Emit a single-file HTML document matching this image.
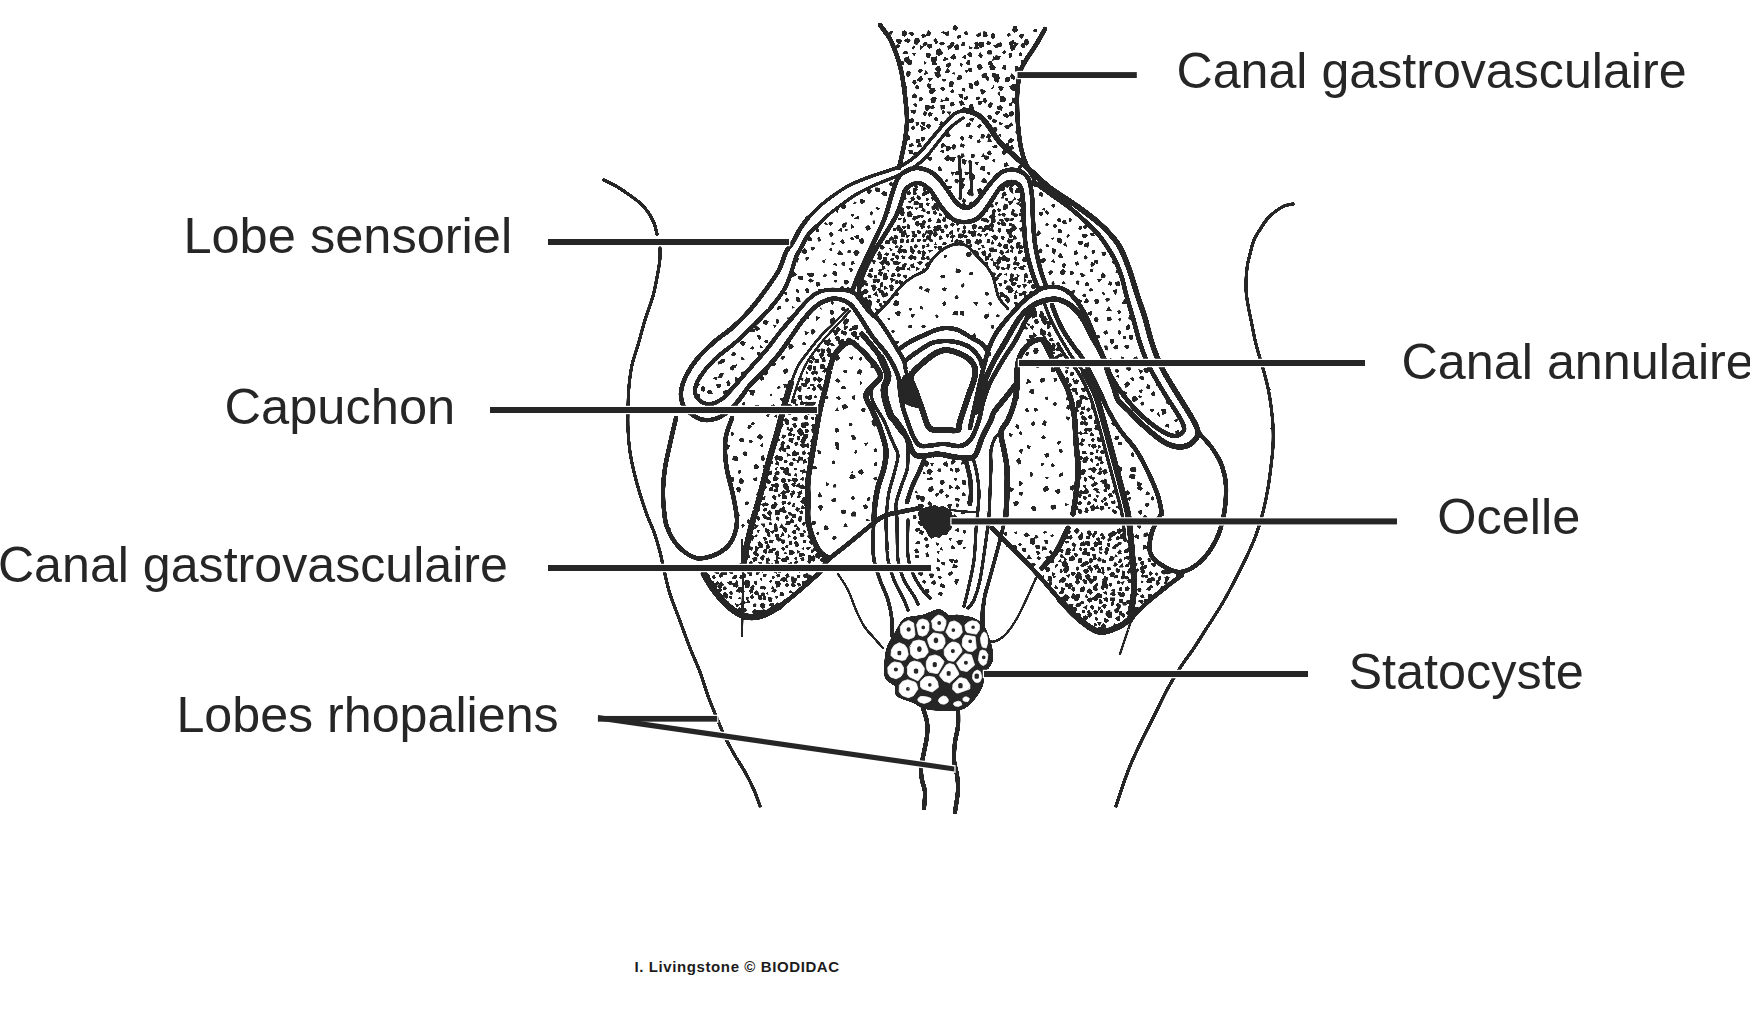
<!DOCTYPE html>
<html><head><meta charset="utf-8"><title>Rhopalie</title>
<style>
html,body{margin:0;padding:0;background:#fff;}
body{width:1750px;height:1014px;position:relative;overflow:hidden;font-family:"Liberation Sans",sans-serif;color:#262626;}
</style></head><body>
<svg width="1750" height="1014" viewBox="0 0 1750 1014" style="position:absolute;left:0;top:0">
<defs><filter id="rg" x="0" y="0" width="100%" height="100%" filterUnits="userSpaceOnUse" color-interpolation-filters="sRGB"><feTurbulence type="fractalNoise" baseFrequency="0.95" numOctaves="1" seed="4" result="n"/><feDisplacementMap in="SourceGraphic" in2="n" scale="1.7" xChannelSelector="R" yChannelSelector="G" result="d"/><feComponentTransfer in="d"><feFuncA type="linear" slope="5" intercept="-2"/></feComponentTransfer></filter></defs>
<g filter="url(#rg)">
<path d="M903.0 376.0C904.8 373.8 908.7 372.3 911.0 375.0C913.3 377.7 915.2 387.0 917.0 392.0C918.8 397.0 922.0 402.3 922.0 405.0C922.0 407.7 920.2 408.5 917.0 408.0C913.8 407.5 905.8 405.3 903.0 402.0C900.2 398.7 900.0 392.3 900.0 388.0C900.0 383.7 901.2 378.2 903.0 376.0Z" fill="#262626" stroke="none"/>
<path d="M1041.0 339.0C1041.3 337.8 1045.2 338.8 1047.0 340.0C1048.8 341.2 1050.7 343.7 1052.0 346.0C1053.3 348.3 1055.3 353.0 1055.0 354.0C1054.7 355.0 1051.7 353.2 1050.0 352.0C1048.3 350.8 1046.5 349.2 1045.0 347.0C1043.5 344.8 1040.7 340.2 1041.0 339.0Z" fill="#262626" stroke="none"/>
<path fill="#262626" d="M958.3 28.5L956.0 30.9L952.4 29.0L953.5 25.5L956.3 25.3ZM892.0 34.6L888.5 34.5L889.4 30.6L892.9 31.3ZM906.7 34.9L904.7 36.7L901.5 35.3L901.9 31.8L904.6 30.3L906.9 31.7ZM911.2 31.4L915.0 34.0L912.0 36.6L908.1 33.3ZM926.5 35.7L925.2 37.3L922.5 37.9L921.1 35.0L924.1 33.4ZM931.6 32.8L929.3 36.5L925.6 35.4L928.3 29.7ZM940.4 32.7L944.3 30.4L944.8 34.1ZM944.7 32.6L948.8 31.0L948.5 36.2L945.5 35.3ZM961.5 37.1L957.7 39.6L957.0 35.8L961.1 34.5ZM965.2 35.0L963.6 32.8L965.8 31.3L967.4 31.6L967.8 34.8ZM980.4 32.1L981.6 35.6L977.9 37.3L975.7 35.0ZM986.8 31.7L987.7 35.4L987.0 37.3L982.6 36.6L983.3 31.3ZM995.3 37.9L992.1 38.9L990.9 37.0L990.9 34.3L993.5 32.7L994.8 34.6ZM1011.0 35.2L1008.0 37.1L1006.4 34.1L1009.6 32.9ZM1012.9 26.4L1016.6 26.0L1017.9 30.0L1017.2 31.6L1014.4 33.0L1012.2 30.5ZM1020.7 33.4L1024.2 34.0L1023.7 36.2L1021.3 39.2L1018.7 36.1ZM1035.1 28.4L1037.6 29.5L1036.4 32.1L1034.4 32.4L1032.6 30.6ZM895.6 40.4L897.3 38.4L902.3 40.0L900.8 44.3L898.2 44.2ZM908.3 43.0L904.3 41.6L904.4 39.7L907.4 38.3L910.5 39.3L910.5 41.2ZM916.6 45.5L914.1 43.3L913.9 40.3L915.7 38.0L919.4 38.5L919.8 42.0ZM924.8 46.2L923.1 46.5L922.4 43.9L925.3 41.5L927.6 42.8L927.3 45.1ZM938.1 42.3L935.7 44.4L933.1 39.7L936.1 37.9ZM945.5 43.3L941.9 45.7L938.6 43.3L942.7 41.4ZM951.9 41.2L954.6 42.9L954.2 45.8L951.0 47.4L949.9 43.2ZM962.3 42.1L965.4 41.9L965.4 43.7L964.9 45.5L961.8 46.2L960.7 45.2ZM976.0 41.7L978.1 41.4L978.2 45.1L976.8 45.4L974.8 44.9L974.3 43.0ZM980.1 48.5L977.8 44.5L979.9 41.8L983.6 42.1L983.9 46.6ZM990.8 43.2L989.3 45.8L986.1 44.3L987.2 41.1L990.4 41.8ZM997.2 43.2L1000.6 42.3L1002.2 43.6L1001.9 46.6L998.7 46.8L997.9 44.7ZM1009.6 41.9L1013.3 39.7L1014.5 42.5L1013.4 44.5L1010.5 45.7L1008.6 44.2ZM1013.5 41.7L1018.9 43.6L1015.3 47.8ZM1028.0 38.7L1029.2 43.2L1026.5 45.7L1023.7 43.6L1024.7 39.5ZM896.6 48.7L895.3 46.5L897.1 44.3L900.2 45.3L899.7 46.9ZM902.3 53.9L903.7 51.3L907.6 51.2L907.6 54.5ZM913.1 49.9L912.0 48.3L913.2 45.3L915.3 47.1ZM919.7 50.8L920.0 45.3L924.2 46.4ZM927.1 44.9L929.2 44.1L931.7 43.8L932.5 47.4L929.7 48.4L927.4 47.1ZM939.6 48.3L942.1 51.3L943.5 53.6L939.5 55.9L936.5 55.0L936.1 50.1ZM948.5 50.0L947.1 46.4L950.6 44.0L952.3 47.3ZM953.7 46.2L957.2 43.9L959.4 46.3L959.3 49.4L955.2 49.8ZM968.7 48.4L968.7 46.2L969.9 45.2L972.3 46.7L972.7 48.2L970.1 48.9ZM973.3 49.1L975.2 45.4L977.4 44.6L979.2 48.8L976.3 49.4ZM992.1 51.4L991.9 54.4L987.2 54.4L987.4 50.4L990.9 49.5ZM993.0 45.5L999.0 43.4L999.4 47.3L995.2 47.9ZM1004.3 54.1L1001.8 53.0L1004.6 49.7L1006.6 52.5ZM1010.7 45.7L1015.3 44.5L1015.6 46.2L1015.0 49.8L1011.5 50.9L1009.8 47.2ZM1020.2 46.3L1021.6 43.2L1024.2 43.6L1025.7 46.2L1023.9 48.2L1022.7 47.7ZM909.6 61.1L907.3 63.7L904.0 61.1L904.0 58.0L908.9 56.2L909.6 59.1ZM912.1 52.9L916.4 53.1L914.1 56.4ZM929.5 58.3L926.5 57.4L925.6 52.7L927.8 52.9L931.3 53.8ZM931.7 62.5L930.5 57.5L937.2 56.2L937.3 61.0ZM949.1 59.3L942.2 61.7L944.5 56.7ZM956.7 58.2L953.4 59.8L949.9 57.7L954.0 53.2ZM965.0 59.2L961.9 57.3L965.4 54.2L966.6 58.0ZM972.1 53.5L972.4 57.0L969.6 57.2L966.8 54.3L968.8 52.2L970.5 51.9ZM981.5 58.8L978.1 55.5L980.2 52.0L982.9 55.5ZM996.6 59.2L992.2 61.1L993.1 55.4ZM1001.1 55.9L999.0 60.4L993.8 58.9L995.5 55.3ZM1012.6 56.4L1009.6 58.2L1008.3 53.7L1011.6 52.8ZM1018.6 54.2L1020.2 51.9L1022.0 53.8L1022.3 55.8L1019.3 55.9ZM904.6 62.1L903.7 65.1L899.5 64.0L901.9 60.7ZM911.8 64.5L908.7 65.2L906.2 63.5L909.2 60.2L912.3 60.3ZM926.9 62.8L923.8 64.9L924.2 60.8ZM931.7 60.9L935.7 60.4L937.1 64.6L932.0 65.4ZM941.5 69.7L938.2 72.5L934.5 68.6L939.0 65.3ZM946.3 66.8L946.4 64.0L950.0 62.3L951.5 64.4L948.9 68.2ZM959.6 66.0L960.5 63.0L962.9 64.0L962.0 67.1ZM967.6 60.2L969.5 59.3L970.4 63.1L969.3 65.5L965.4 63.6ZM983.2 67.7L979.1 70.4L976.2 65.7L980.2 63.5ZM990.3 65.3L987.5 64.4L988.2 61.7L991.2 60.5L992.9 63.4ZM989.2 66.2L992.0 63.5L996.2 67.2L994.2 70.6L990.0 69.7ZM1003.3 65.0L1006.2 65.3L1006.2 70.1L1001.6 68.9ZM1014.5 65.4L1018.2 66.0L1018.8 68.4L1015.8 68.7ZM1021.5 63.8L1021.2 59.9L1024.5 61.1L1024.1 65.3ZM907.6 70.4L910.8 71.8L910.4 75.6L907.8 77.3L905.5 74.3ZM919.0 68.8L921.8 68.8L923.0 70.7L919.5 73.5L918.0 71.7ZM925.4 70.0L928.4 73.4L923.7 75.3ZM940.9 76.2L937.8 78.8L934.9 75.8L934.3 72.3L936.0 71.8L939.9 71.4ZM948.6 73.5L944.9 72.5L947.3 68.1L950.0 70.9ZM951.9 74.1L954.2 71.7L955.5 74.7ZM964.1 69.4L968.2 70.6L966.6 73.3ZM967.4 69.0L970.5 67.6L971.7 68.3L971.6 72.4L970.2 72.1L968.5 71.4ZM985.1 72.6L987.3 73.1L986.9 77.1L985.0 78.1L981.7 77.7L981.4 74.8ZM995.9 73.6L997.3 76.0L994.0 77.9L991.5 75.7L991.9 72.8ZM995.2 75.6L998.8 73.5L999.7 77.7ZM1010.1 76.3L1011.7 73.0L1013.5 74.4L1015.6 78.0L1014.1 80.1L1011.1 78.4ZM1020.0 72.3L1018.8 73.3L1015.0 71.2L1014.6 68.6L1017.7 67.2L1021.7 68.7ZM913.3 79.9L915.6 79.4L916.7 83.1L914.1 84.9L912.0 82.4ZM923.4 79.5L920.3 82.1L916.5 80.5L921.0 75.6ZM929.4 81.9L927.3 77.9L933.1 78.3ZM941.7 78.5L945.6 78.7L945.8 81.6L942.8 81.5ZM948.9 83.2L950.5 81.1L954.1 81.8L953.2 86.0L951.6 87.6L948.5 86.7ZM958.5 75.3L961.9 75.6L962.0 79.2L957.8 80.1L956.3 78.3ZM971.7 82.5L971.3 86.4L967.8 83.7ZM977.9 86.3L974.4 85.2L974.2 82.6L975.5 81.2L977.7 79.8L979.6 83.7ZM989.6 77.8L988.6 80.8L986.8 80.5L984.7 77.3L987.6 76.1ZM995.5 75.6L1000.4 77.0L998.0 82.9L993.5 80.5ZM1007.6 82.0L1005.2 82.1L1005.1 78.5L1007.2 76.4L1010.4 77.7L1009.8 81.2ZM903.0 87.1L903.1 85.3L905.9 84.2L907.0 87.0L906.4 89.1L904.4 89.0ZM914.8 87.7L915.4 86.5L916.9 85.1L918.9 85.9L919.3 88.3L916.8 89.8ZM928.1 83.2L931.5 84.0L931.2 88.9L928.9 89.0L926.7 85.8ZM936.0 90.7L933.5 93.5L930.6 94.3L928.5 92.1L930.3 88.6L934.2 87.4ZM945.5 89.4L943.0 91.5L939.7 88.8L941.5 87.3L944.3 87.2ZM953.6 92.7L952.1 93.2L950.2 91.9L950.5 90.5L952.8 88.7L953.9 90.4ZM962.0 87.5L965.5 88.4L965.3 91.8L962.0 90.9ZM973.1 87.0L972.7 89.2L968.8 87.9L968.5 86.7L969.5 83.1L973.2 84.2ZM980.2 89.6L981.9 88.8L986.4 91.4L982.9 94.8L980.8 93.6ZM990.8 89.3L993.8 84.7L994.4 88.1ZM1000.0 85.8L1003.9 87.1L1002.2 90.8L1000.0 90.9L998.0 86.8ZM1017.4 87.2L1014.0 91.3L1011.4 90.1L1009.1 86.5L1012.9 84.1L1015.7 84.1ZM917.4 96.2L915.9 98.6L911.6 97.7L912.4 95.1L914.7 93.2ZM921.4 96.7L923.8 99.3L919.5 102.0L919.2 97.5ZM934.7 103.4L931.2 102.8L930.3 98.7L933.5 96.4L937.0 98.1ZM941.0 99.0L945.0 100.6L940.2 102.7ZM944.6 101.3L945.7 97.0L949.0 98.1L948.7 101.3ZM959.3 97.3L958.2 93.7L963.0 94.5L962.9 99.0ZM963.9 97.3L967.5 95.9L968.1 98.4L965.9 100.5L964.2 100.1ZM980.3 98.3L979.3 99.7L976.2 100.3L975.4 97.6L978.3 96.5L980.0 96.7ZM985.5 103.7L982.4 101.6L983.2 98.6L985.2 98.0L987.5 100.7ZM1000.1 91.1L1000.5 97.3L997.3 93.6ZM1003.2 96.0L1006.1 97.9L1005.9 100.6L1003.4 102.4L999.7 101.5L1000.1 96.3ZM1017.8 98.0L1015.4 104.3L1012.2 102.4L1011.9 97.4ZM912.8 104.1L916.1 103.1L917.7 105.9L915.1 107.3ZM924.6 108.4L925.5 105.1L931.4 105.8L929.3 109.4L927.3 111.7ZM934.9 107.9L933.8 108.6L930.7 108.9L930.2 107.4L932.4 105.0L934.0 105.5ZM940.4 104.6L945.4 104.9L945.1 108.4L940.6 109.9ZM951.8 101.7L953.8 102.0L954.8 105.0L951.9 106.4L950.7 106.5L949.7 103.1ZM965.2 104.6L960.7 106.0L958.5 101.2L961.8 100.3ZM970.0 104.2L973.1 104.3L974.0 109.8L972.0 111.2L969.4 109.5L968.9 106.3ZM982.6 100.9L981.4 104.5L978.8 105.2L978.0 103.4L978.3 101.2L980.0 100.7ZM990.2 108.1L987.4 107.0L988.6 103.4L990.8 102.0L992.9 103.4L991.5 107.6ZM1002.7 106.7L1002.2 110.8L997.6 110.1L997.1 106.2L1000.3 105.2ZM1012.5 103.0L1012.3 105.8L1010.4 106.1L1008.5 105.4L1008.8 103.7L1011.8 101.8ZM914.3 113.9L911.4 113.0L910.3 109.9L916.0 109.5L916.4 111.6ZM927.1 112.0L926.1 116.2L922.7 114.9L924.0 110.9ZM929.3 116.9L928.0 114.7L929.0 111.5L932.8 113.2L931.6 115.7ZM942.4 114.3L941.7 111.5L943.4 109.2L945.6 112.7ZM945.9 111.6L951.4 111.4L949.6 115.6ZM990.0 115.1L991.5 116.2L992.4 118.3L990.8 120.2L988.1 118.7L987.1 115.7ZM996.7 115.3L994.1 112.9L996.4 110.8L1000.1 110.9L999.2 113.9ZM1002.5 115.0L1006.1 112.4L1009.3 116.2L1007.4 117.9L1004.0 116.6ZM1012.3 110.4L1014.5 113.6L1012.6 116.6L1009.8 116.4L1008.3 112.8ZM913.8 121.8L912.0 123.0L909.0 122.6L909.0 119.4L912.4 117.8L914.5 120.1ZM915.7 125.8L915.5 122.1L919.9 122.6L918.1 125.5ZM921.7 124.8L921.0 121.8L925.7 121.8L924.3 126.5ZM938.4 120.5L935.6 121.0L933.4 119.4L936.0 116.5L937.7 118.6ZM942.1 125.4L938.9 125.1L940.2 122.2L940.8 120.9L943.0 121.8L944.5 124.7ZM997.5 120.5L995.3 123.7L991.9 121.6L992.9 118.2ZM1001.8 125.2L998.5 124.3L999.5 121.8L1003.0 123.2ZM1008.7 124.2L1011.9 122.3L1013.2 125.3L1010.0 126.9ZM913.5 130.5L910.7 128.3L913.5 125.3L915.5 127.7ZM919.9 124.7L926.3 128.6L921.6 131.3ZM929.2 129.0L927.1 128.1L925.8 126.0L927.4 123.8L929.4 123.6L931.1 126.0ZM992.3 128.8L994.1 127.0L995.6 126.5L997.7 128.7L996.9 131.4L994.2 131.8ZM1006.2 129.6L1004.2 126.3L1007.1 124.6L1010.2 125.3L1009.2 128.5ZM1019.4 129.7L1017.0 134.5L1014.9 131.8ZM905.1 136.2L908.0 135.1L910.5 136.9L909.8 139.6L906.9 141.2L904.1 137.9ZM916.6 143.3L915.4 141.9L916.4 138.9L919.7 139.0L920.7 142.3ZM921.6 141.7L920.6 139.4L921.6 136.7L924.7 137.0L925.6 138.8L923.8 141.3ZM997.7 135.1L1000.9 133.6L1001.0 137.1ZM1007.7 141.2L1010.8 138.0L1014.0 139.6L1013.6 141.2L1012.2 142.8L1008.4 142.9ZM912.1 142.9L914.6 145.8L908.5 147.4L909.4 143.9ZM918.0 143.6L920.9 143.0L922.0 147.3L916.7 147.4ZM1005.4 144.4L1006.3 143.1L1009.3 143.2L1009.2 146.7L1006.6 147.7L1004.9 146.4ZM1009.1 146.1L1012.9 145.0L1014.1 148.9L1010.0 150.2ZM912.4 149.7L913.2 153.6L909.1 154.3L908.3 150.1ZM916.9 151.4L916.3 156.3L911.0 153.5ZM975.0 117.3L972.6 122.3L968.3 119.0ZM969.4 122.1L971.0 123.5L970.0 127.0L965.5 126.9L966.0 124.4ZM982.1 125.2L979.5 128.8L976.8 126.7L979.6 123.6ZM946.6 137.4L944.7 134.0L945.1 131.6L948.7 132.4L950.8 135.2L949.7 136.7ZM963.2 135.9L964.2 139.4L961.9 141.1L960.1 137.9L960.6 136.6ZM968.3 138.1L969.5 134.3L972.9 136.0L971.4 139.1ZM980.8 133.4L985.1 134.7L984.2 138.5L980.4 138.6ZM992.1 135.7L989.2 139.0L985.9 137.5L988.1 133.2ZM942.8 142.7L946.2 145.4L941.5 148.3L940.7 145.3ZM951.9 145.2L954.0 144.0L955.8 145.6L955.4 148.9L953.3 149.9L951.3 147.7ZM965.0 144.7L963.8 148.1L959.7 146.3L961.1 143.0ZM979.4 143.0L977.1 142.5L976.7 140.8L979.6 139.0L980.2 139.4L980.7 141.9ZM989.5 137.6L992.5 142.0L986.9 141.6ZM996.3 144.5L997.8 147.1L995.0 148.6L991.7 146.7ZM941.8 149.2L944.1 150.7L943.4 153.4L939.9 151.6ZM945.9 149.6L945.4 146.0L949.4 146.0L951.3 147.4L950.3 150.0L946.9 151.8ZM961.0 153.4L964.3 153.5L964.6 156.7L961.0 158.8ZM970.9 154.6L972.7 153.4L974.6 154.3L974.7 156.6L973.4 157.9L970.8 157.5ZM981.1 157.0L983.3 153.0L985.7 156.5ZM986.8 153.3L987.9 151.7L989.6 150.2L991.8 152.9L991.1 155.6L988.9 155.3ZM1007.1 149.4L1007.3 152.1L1004.9 154.9L1002.7 154.8L1001.8 151.9L1003.8 149.2ZM930.2 161.0L928.2 159.8L927.0 157.8L928.9 156.4L932.0 157.5L932.1 159.3ZM950.5 159.3L947.3 161.6L943.6 158.8L945.0 157.2L947.7 154.5L949.6 156.6ZM956.0 156.8L953.8 162.2L950.1 160.4L950.2 156.7ZM963.5 158.8L966.7 160.3L966.1 163.6L964.2 165.1L961.9 163.1L961.5 159.9ZM979.1 162.0L977.2 166.0L974.0 162.5ZM987.0 155.5L989.7 156.4L988.6 158.7L986.4 160.2L983.6 159.1L984.4 155.2ZM995.0 162.8L991.3 160.6L995.6 158.3ZM1004.4 167.5L1004.3 163.1L1006.7 162.3L1009.0 165.6ZM937.8 170.3L938.1 166.9L939.7 166.3L941.3 168.0L942.3 170.4L939.8 171.1ZM955.5 171.7L952.4 176.1L950.6 171.5ZM958.6 174.8L955.2 174.9L955.2 172.8L956.5 170.6L959.2 172.1L960.3 173.1ZM969.2 171.7L968.2 175.1L965.3 175.4L964.2 171.5ZM980.1 170.1L980.6 166.5L985.0 165.7L985.0 171.0ZM990.7 173.8L988.8 175.3L986.1 172.8L988.9 171.5ZM1021.0 164.8L1022.3 167.0L1020.0 170.0L1017.6 169.4L1017.5 168.2L1018.7 165.8ZM949.0 181.2L944.5 182.0L946.5 178.3ZM959.3 180.1L958.1 183.6L956.7 183.5L954.5 181.7L954.5 179.8L956.3 179.0ZM965.2 178.6L962.5 183.4L959.7 180.4L961.5 178.0ZM970.4 174.6L972.8 173.6L974.3 174.5L975.6 177.2L973.5 179.9L970.5 178.7ZM985.6 178.5L986.5 179.9L986.8 182.9L983.6 183.1L980.8 181.8L982.8 178.2ZM947.8 185.9L951.6 185.5L952.3 187.2L950.1 189.2L947.2 187.6ZM965.4 184.3L963.2 188.9L958.9 188.1L960.5 182.3ZM970.5 195.3L968.8 195.8L966.8 193.6L967.0 190.9L969.6 189.0L972.0 191.8ZM980.3 188.1L982.8 190.8L982.7 193.6L979.1 194.8L977.6 192.2L977.3 189.3ZM966.4 200.2L964.2 203.8L961.8 201.0L963.4 197.8ZM963.3 202.3L964.7 202.8L967.0 206.2L966.1 208.5L961.8 207.3L961.0 205.7ZM972.9 204.4L969.8 207.7L968.2 206.0L969.3 202.5L972.1 201.2ZM880.3 191.5L876.4 192.4L875.2 190.4L875.0 187.5L878.5 187.4L880.3 189.1ZM893.2 184.5L890.7 186.2L889.3 184.9L889.3 182.9L891.4 181.2L892.7 183.1ZM866.6 190.7L869.8 189.0L872.2 190.8L869.2 193.9L867.4 193.3ZM881.1 193.6L883.4 190.4L886.8 192.2L886.7 196.1L883.0 195.6ZM843.6 202.7L846.2 205.8L846.4 208.1L842.5 209.3L840.8 206.7L841.7 203.9ZM857.3 203.1L852.5 204.4L854.5 201.2ZM859.8 202.7L860.4 198.6L865.4 200.4L864.3 203.0L861.8 204.3ZM880.0 208.2L878.2 210.3L875.2 208.6L876.9 206.9ZM838.9 207.7L837.8 214.1L834.9 209.6ZM850.4 214.4L853.3 213.5L854.7 214.8L852.4 217.3L850.8 215.7ZM853.1 219.1L858.6 215.4L859.2 219.6ZM873.2 213.8L871.3 215.7L869.9 215.0L869.8 212.4L872.0 211.0ZM828.2 225.1L823.7 224.3L825.2 221.9ZM830.3 221.6L833.7 223.1L830.3 226.2L828.3 223.4ZM843.8 222.7L846.8 222.3L846.3 226.3L843.4 228.3L842.2 227.3L842.0 223.9ZM850.9 228.9L850.7 222.9L854.8 226.9ZM868.3 224.8L871.2 228.4L867.5 231.1L865.0 227.8ZM875.5 223.8L873.0 223.7L872.3 220.6L875.2 220.4ZM816.2 228.7L818.7 228.4L819.3 230.2L819.0 231.7L817.1 232.5L815.5 231.7ZM828.9 234.8L828.9 233.1L830.9 231.7L833.7 234.6L832.5 236.1L830.9 236.9ZM839.4 228.6L842.5 228.0L842.0 231.7L838.1 230.9ZM844.5 231.5L845.7 228.7L848.9 230.1ZM858.4 239.4L856.0 238.8L854.0 236.5L856.6 235.1L859.0 234.8L859.4 236.3ZM809.2 235.8L812.3 238.9L811.8 240.9L807.9 240.8L806.0 238.8ZM819.0 236.5L820.9 239.2L820.5 241.5L817.8 241.4L817.4 238.2ZM831.5 241.9L836.0 243.6L831.5 245.8ZM842.9 239.0L844.8 242.3L843.2 244.8L840.1 241.2ZM853.1 236.8L853.9 239.5L851.7 240.8L849.9 237.7ZM858.8 240.7L859.4 239.1L862.9 237.9L864.4 241.4L862.5 244.2L860.8 244.1ZM806.0 254.6L801.4 252.7L801.7 251.2L804.8 247.6L806.7 250.5L806.7 252.7ZM814.1 246.4L815.1 248.8L811.8 250.9L810.4 247.0ZM828.6 249.1L831.3 247.9L832.9 250.4L830.0 251.0ZM838.3 255.0L837.1 253.7L839.3 250.2L841.0 251.2L843.1 254.2L842.4 255.4ZM849.2 253.4L847.2 252.6L847.6 251.1L848.8 249.6L850.3 250.0L851.3 252.1ZM853.0 252.3L855.8 249.3L859.8 252.1L857.8 255.5L855.4 256.0ZM798.9 258.1L797.9 262.7L796.2 261.7L794.1 259.2L794.9 256.6L797.4 256.8ZM808.3 259.9L806.5 260.8L805.4 259.4L805.6 256.6L808.9 257.3ZM824.1 263.8L821.9 260.8L826.0 259.1ZM836.0 262.2L837.3 265.9L832.4 264.8ZM841.4 263.2L843.3 261.7L845.5 262.3L844.7 266.1L841.6 265.3ZM854.9 263.8L851.6 265.3L850.6 261.7L853.7 260.9ZM793.7 271.2L797.4 274.6L794.5 276.4L791.4 276.7L791.4 273.6ZM807.4 272.9L811.1 273.6L811.0 275.6L809.1 277.1L806.6 274.6ZM814.2 275.5L810.9 277.8L809.9 275.1L811.9 272.0L813.8 273.3ZM827.3 275.1L825.6 276.8L822.7 276.6L824.5 273.2ZM837.1 275.7L835.1 276.1L831.8 273.6L833.8 270.7L837.3 272.1ZM852.9 269.9L851.2 272.5L849.6 270.6L848.8 268.2L852.0 268.2ZM802.8 275.5L803.0 279.8L798.7 279.5L797.4 276.0ZM808.0 280.6L809.6 278.6L810.9 278.5L813.9 280.5L812.9 281.4L810.0 282.7ZM819.2 281.8L820.8 285.2L816.7 287.0L815.6 282.6ZM837.2 281.8L836.2 282.8L833.9 282.0L833.6 280.5L836.9 279.5ZM843.9 280.6L847.0 280.1L849.7 282.0L846.9 284.5L844.6 284.4ZM786.5 295.4L782.6 291.9L787.3 292.3ZM796.3 291.9L796.0 289.2L797.5 289.0L799.2 290.3L799.3 292.7L796.9 292.4ZM808.4 293.2L806.5 292.9L804.8 290.1L806.6 288.2L808.5 288.2L809.0 291.2ZM821.4 288.7L820.1 291.5L817.6 289.4ZM840.2 286.7L843.3 286.1L844.5 289.4L840.5 289.8ZM845.8 290.8L847.3 287.1L850.7 287.9L851.6 290.8L849.2 292.2ZM789.1 299.8L788.6 301.2L785.9 302.8L785.5 301.7L785.3 299.0L787.3 297.7ZM800.3 298.5L800.6 302.2L797.4 302.2L796.0 300.5L796.1 297.6L797.5 296.4ZM781.2 309.0L777.0 310.1L777.8 305.7L781.5 306.6ZM794.9 307.5L792.6 309.1L791.5 305.3ZM766.4 325.2L763.5 324.0L762.8 321.2L764.9 319.6L768.9 321.5ZM779.3 319.8L779.4 322.5L777.1 324.0L775.6 322.8L776.5 318.9ZM786.5 317.4L792.4 317.6L789.3 322.0ZM751.2 328.6L755.0 329.3L754.6 332.2L749.7 332.1ZM760.0 329.2L756.9 331.3L754.5 329.4L754.6 326.4L756.7 326.1L759.2 327.6ZM774.7 328.6L772.9 324.4L776.9 324.8ZM759.4 334.4L761.7 338.1L759.3 340.0L756.7 335.7ZM765.1 340.2L766.9 339.6L768.8 341.9L767.3 343.4L765.8 343.1L763.9 341.5ZM746.0 342.3L744.7 345.0L742.2 346.3L739.7 342.8L742.3 340.8L744.2 341.6ZM752.3 349.8L749.4 348.4L752.4 346.0L754.4 348.0ZM760.8 344.8L763.0 347.9L759.3 347.7ZM724.2 363.0L722.0 363.4L720.0 361.0L722.0 358.6L725.5 359.6ZM733.5 356.6L730.6 355.1L732.6 352.3L735.2 351.9L736.1 354.8ZM740.4 359.4L741.8 356.6L745.1 359.7ZM759.8 356.8L756.6 354.3L756.9 352.0L760.6 352.4L761.5 353.7ZM722.3 363.6L718.4 364.8L717.3 361.7L720.8 361.0ZM729.4 367.5L732.1 365.3L734.7 366.1L733.2 370.8L730.5 369.7ZM731.9 365.8L737.4 363.9L735.7 368.1ZM712.8 378.6L714.7 377.0L718.0 377.5L716.3 380.2ZM718.0 377.7L719.5 373.5L724.2 373.1L721.8 378.1ZM737.5 381.6L735.1 381.0L734.6 376.7L739.5 378.5ZM741.5 375.0L740.7 372.3L742.6 371.6L746.0 371.5L746.0 373.7L743.7 377.0ZM695.5 382.6L700.5 384.6L695.5 388.9ZM703.1 385.4L705.3 387.2L705.3 390.1L703.8 391.7L700.7 391.1L700.8 388.0ZM720.6 387.2L717.2 388.5L716.0 384.5L721.2 383.6ZM730.6 382.9L729.9 386.3L727.2 385.9L726.3 382.2L728.4 380.1ZM698.2 393.8L700.5 394.6L699.9 397.8L697.0 397.3L696.6 394.7ZM706.5 392.0L708.8 390.0L711.4 390.3L713.1 394.1L709.6 394.5ZM727.8 393.0L726.9 395.5L723.2 393.6L723.1 391.0L727.0 389.7ZM1034.8 187.5L1032.3 184.2L1037.1 185.0ZM1038.9 195.4L1039.7 191.7L1043.5 193.1L1042.4 197.0ZM1044.0 206.9L1045.5 210.8L1041.6 210.0ZM1051.1 205.9L1051.7 204.4L1054.7 203.5L1055.5 205.4L1053.4 208.1ZM1043.4 213.3L1041.9 216.2L1040.2 215.6L1038.9 214.3L1039.1 212.0L1043.0 211.4ZM1049.6 213.5L1047.3 215.3L1044.6 212.3L1046.9 209.9ZM1061.1 218.9L1061.3 221.9L1058.4 222.3L1056.5 219.4L1059.1 217.4ZM1069.9 217.9L1072.1 219.2L1070.7 222.3L1068.9 221.6L1068.5 219.1ZM1045.6 226.7L1045.4 223.4L1048.2 223.1L1049.0 225.1ZM1054.1 224.1L1056.2 224.5L1057.2 226.7L1055.5 228.1L1053.5 227.2L1053.0 225.1ZM1064.0 224.6L1061.7 221.8L1063.4 219.8L1065.9 220.5L1067.0 224.1ZM1079.6 226.1L1081.3 225.7L1082.3 228.3L1080.4 229.9L1078.2 229.0ZM1083.9 225.4L1087.2 225.2L1087.4 227.4L1085.7 229.2L1082.5 227.8ZM1040.4 231.6L1040.7 234.0L1038.4 236.5L1036.2 235.9L1036.7 233.0L1038.2 230.3ZM1052.5 240.8L1050.8 237.9L1054.7 237.2ZM1057.7 233.3L1058.2 228.6L1062.1 229.9L1061.5 233.1ZM1069.1 237.0L1067.4 238.0L1066.2 236.0L1067.4 234.4L1068.8 234.1L1069.9 235.2ZM1083.6 237.9L1081.6 236.2L1082.6 233.8L1085.8 233.9L1088.0 235.3L1085.2 238.2ZM1089.8 234.7L1090.1 232.7L1093.9 233.2L1094.9 236.1L1092.5 236.6ZM1045.6 244.2L1048.3 244.6L1049.2 246.7L1045.5 246.8ZM1056.4 241.5L1057.3 238.0L1059.9 237.6L1061.4 238.7L1062.5 242.0L1060.4 243.7ZM1063.0 244.8L1066.0 241.9L1067.0 247.0ZM1078.3 240.5L1083.1 241.1L1083.2 243.7L1080.4 245.4L1077.5 243.2ZM1083.7 246.3L1084.9 243.1L1088.9 242.3L1089.5 245.2L1087.5 247.7ZM1042.6 249.8L1042.1 252.9L1039.0 253.4L1036.7 252.1L1038.9 249.4L1040.1 248.3ZM1055.7 248.7L1055.9 251.6L1054.3 255.0L1051.6 252.2L1052.1 248.2ZM1061.4 253.2L1062.8 256.6L1063.2 258.1L1059.4 257.9L1057.7 256.0L1059.2 253.6ZM1074.4 255.6L1073.6 250.9L1076.7 250.3L1078.2 253.7ZM1087.8 258.2L1086.8 258.9L1084.7 259.7L1083.7 256.4L1085.6 255.2L1087.0 256.0ZM1095.2 252.2L1094.7 253.1L1092.5 254.3L1091.4 251.3L1092.2 249.9L1094.5 249.8ZM1105.3 255.2L1103.4 256.6L1101.8 254.8L1101.4 252.1L1104.6 251.6L1106.6 252.8ZM1045.4 261.6L1043.6 262.7L1040.9 262.5L1040.4 259.4L1044.0 257.8L1046.1 259.3ZM1050.9 262.1L1053.4 258.7L1055.6 262.9ZM1064.1 263.0L1066.1 264.0L1065.0 267.9L1063.4 268.1L1061.4 265.0ZM1079.4 264.3L1075.9 266.1L1075.0 262.4L1077.8 261.3ZM1090.8 267.6L1090.4 263.8L1091.8 261.9L1095.1 263.5L1094.2 265.6ZM1093.5 262.2L1094.7 259.9L1098.7 260.6L1097.4 264.2ZM1112.5 263.6L1111.3 262.3L1113.4 260.1L1115.0 261.5L1114.0 263.7ZM1053.7 272.4L1049.6 275.2L1048.2 272.4L1051.0 269.9ZM1060.3 274.5L1059.4 271.8L1063.2 268.7L1066.0 271.3L1064.4 274.7ZM1072.0 270.7L1074.3 272.5L1073.1 274.3L1070.6 275.4L1069.4 271.2ZM1082.0 277.4L1079.4 273.5L1082.8 273.2L1085.9 275.5ZM1092.7 271.9L1090.5 272.2L1089.8 268.8L1094.1 268.6ZM1100.9 278.1L1101.0 274.4L1102.4 272.2L1105.6 275.0L1105.4 277.6ZM1119.2 273.4L1115.4 273.3L1115.9 270.0L1119.6 270.4ZM1053.9 281.0L1054.7 283.2L1053.8 284.9L1051.6 284.1L1051.4 282.7L1051.9 281.7ZM1062.4 281.7L1064.0 281.1L1065.5 282.7L1065.5 284.1L1062.7 284.6L1062.0 283.1ZM1079.6 281.1L1078.6 284.9L1076.4 284.1L1076.0 281.7L1077.8 280.2ZM1084.3 284.0L1086.8 281.9L1088.3 282.5L1089.6 285.7L1087.9 286.1L1085.7 286.2ZM1102.9 278.5L1099.0 282.9L1097.0 278.7ZM1112.5 281.9L1111.2 285.8L1107.9 284.9L1109.3 281.2ZM1120.1 286.3L1116.3 286.3L1114.4 282.2L1119.4 280.9ZM1074.3 293.9L1070.6 294.2L1070.2 291.0L1074.9 289.9ZM1083.4 297.1L1081.9 295.3L1084.1 293.6L1086.3 293.7L1086.2 297.6ZM1090.5 287.7L1093.0 289.4L1093.1 290.5L1091.4 291.6L1089.4 291.6L1089.4 289.2ZM1101.7 292.8L1104.2 291.6L1104.8 294.4L1103.5 295.7ZM1117.2 292.5L1115.4 294.9L1112.5 290.5L1116.8 289.0ZM1082.0 300.3L1082.2 301.6L1079.9 303.6L1076.6 302.5L1077.1 301.2L1078.6 298.7ZM1086.6 297.6L1089.2 301.4L1086.8 303.4L1083.5 302.5ZM1098.4 303.6L1095.8 304.8L1094.1 300.6L1095.8 298.9L1099.6 299.8ZM1109.0 301.3L1106.5 301.8L1104.9 298.9L1107.7 297.4L1110.4 299.0ZM1125.3 303.9L1121.8 303.6L1124.3 298.9L1128.7 300.5ZM1092.3 314.2L1090.2 316.1L1087.5 313.7L1088.5 312.0L1091.8 310.8L1092.1 312.6ZM1105.9 310.8L1108.8 306.0L1112.2 311.4ZM1118.9 314.4L1117.2 311.2L1119.7 309.8L1121.7 312.2ZM1098.7 318.7L1097.9 322.1L1095.5 321.7L1093.8 320.4L1094.7 317.4L1096.8 316.8ZM1111.8 320.0L1108.2 321.6L1106.7 319.5L1107.2 317.0L1108.5 316.7L1111.1 316.6ZM1120.3 322.6L1117.9 319.2L1120.9 317.2ZM1131.5 319.9L1129.3 319.5L1128.2 318.3L1129.4 315.1L1131.5 315.2L1133.5 317.3ZM1108.6 332.9L1105.1 334.9L1103.1 331.9L1106.4 330.1ZM1119.4 329.5L1121.5 332.2L1120.0 335.3L1117.6 333.0L1117.8 331.3ZM1126.3 326.4L1127.8 324.3L1130.1 324.8L1130.5 327.2L1128.6 330.5L1126.0 330.1ZM1099.8 335.4L1100.0 336.5L1099.4 338.3L1097.1 338.7L1095.6 336.5L1097.3 334.8ZM1109.8 341.6L1109.7 339.3L1114.0 338.9L1114.4 342.2L1111.8 345.0ZM1126.2 337.1L1125.7 339.6L1123.1 338.9L1123.0 336.2L1125.6 335.8ZM1133.2 335.3L1133.1 338.9L1131.5 340.3L1128.8 338.9L1129.1 335.2ZM1105.1 350.0L1104.0 345.6L1107.5 345.6L1107.7 350.8ZM1116.3 344.5L1118.3 345.8L1118.0 348.9L1116.0 349.5L1114.1 349.2L1113.1 347.1ZM1126.3 349.6L1124.0 346.3L1125.1 344.9L1128.8 345.3L1128.5 348.7ZM1112.5 358.8L1112.1 362.0L1110.4 362.7L1108.8 359.9L1110.3 358.2ZM1122.5 360.7L1120.7 358.0L1121.3 356.3L1124.1 357.5L1124.7 359.6ZM1134.7 357.0L1137.2 356.2L1137.8 359.1L1135.5 362.0L1132.4 359.7ZM1119.5 371.3L1118.0 372.7L1116.1 372.4L1114.7 371.4L1115.3 369.5L1117.0 368.6ZM1130.5 367.3L1131.0 369.3L1129.7 371.5L1125.7 368.9L1126.3 367.7L1128.1 365.3ZM1140.4 374.5L1138.1 369.0L1143.3 370.7ZM1149.8 369.6L1147.8 372.7L1144.5 372.4L1143.3 369.4L1144.2 368.2L1147.2 367.7ZM1119.1 374.3L1119.1 377.7L1115.5 376.7ZM1133.1 382.0L1129.7 378.4L1132.5 376.9L1134.6 379.3ZM1140.5 375.7L1143.8 376.4L1144.1 379.8L1141.4 380.3L1139.0 378.0ZM1124.1 384.2L1127.4 381.2L1130.1 384.0L1128.3 386.4L1125.6 388.0ZM1142.3 392.0L1140.4 393.5L1138.4 391.0L1139.6 390.0L1141.3 389.3L1142.7 390.3ZM1150.4 388.8L1146.1 388.5L1146.9 384.3L1149.9 384.8ZM1155.3 385.5L1158.4 382.9L1159.6 386.8ZM1125.4 395.5L1122.5 394.4L1124.0 390.9L1127.3 392.8ZM1134.7 395.6L1138.2 399.0L1135.2 401.7L1132.5 401.5L1132.0 397.3ZM1138.1 397.1L1139.2 395.3L1142.2 396.4L1140.7 398.5ZM1153.2 390.8L1155.5 393.3L1154.1 396.8L1150.7 394.5ZM1144.0 402.3L1143.9 404.1L1143.5 405.5L1141.0 405.4L1140.3 403.4L1141.9 401.3ZM1152.6 412.2L1150.8 411.3L1149.8 410.1L1150.6 408.8L1153.7 408.4L1154.2 410.0ZM1162.7 413.7L1160.7 408.7L1166.3 409.6ZM1165.3 402.3L1168.0 399.7L1169.5 401.8L1170.1 402.9L1169.1 404.8L1166.4 403.4ZM1158.9 412.1L1160.3 417.6L1156.3 414.6ZM1166.7 413.1L1162.1 415.2L1162.4 411.6L1165.5 410.2ZM1176.4 422.2L1173.2 420.2L1179.1 418.3ZM1164.9 426.2L1166.1 424.1L1167.7 423.4L1169.5 424.3L1169.4 425.9L1167.4 427.5ZM1178.5 429.8L1179.0 433.3L1175.6 433.4L1175.3 431.2ZM1013.1 181.9L1015.4 183.3L1013.1 186.4L1010.4 187.0L1008.7 184.0L1011.5 180.6ZM913.9 187.8L916.1 188.0L917.9 189.2L916.1 191.8L913.4 191.6L912.4 189.9ZM918.0 186.0L917.6 188.2L915.3 188.6L914.2 186.5L915.5 184.5ZM928.4 188.6L924.6 191.7L922.5 188.9L925.6 185.8ZM1004.6 190.5L1001.6 190.9L1000.1 187.2L1004.6 186.0ZM1006.0 182.2L1008.3 182.6L1009.7 186.5L1007.6 187.8L1004.5 187.1L1003.5 184.0ZM1013.0 190.6L1010.7 192.0L1008.8 188.8L1009.7 186.9L1011.6 186.8L1013.6 189.2ZM1019.1 190.2L1017.6 187.5L1019.8 185.5L1021.4 186.9L1021.4 189.5ZM910.3 194.9L907.1 194.9L906.4 192.4L909.4 190.1L911.1 192.6ZM912.7 193.0L913.1 191.3L915.7 190.8L917.0 193.7L916.3 194.8L913.9 195.4ZM924.4 195.9L922.2 196.1L922.1 193.2L924.1 191.6L925.7 192.6L925.7 195.2ZM929.0 193.5L924.8 195.7L923.1 190.0L928.3 191.2ZM1003.3 196.5L1001.3 195.0L1002.4 193.0L1004.8 191.2L1006.7 193.9L1006.6 195.4ZM1009.1 190.5L1013.0 189.2L1013.6 194.5ZM1020.0 192.2L1017.8 193.1L1014.5 192.6L1016.4 188.3L1019.2 188.4ZM903.1 199.0L903.7 196.2L905.7 196.1L906.7 198.8L905.3 199.8ZM911.4 201.9L910.3 197.9L913.4 196.0L915.5 199.7ZM920.1 195.9L921.0 198.8L919.8 200.6L918.0 199.9L916.4 197.7L916.8 195.1ZM929.2 199.1L927.9 201.6L925.6 200.1L926.7 197.3ZM930.6 196.8L935.2 198.0L932.5 200.9ZM1004.6 198.6L1000.8 198.6L1002.6 194.7ZM1004.8 198.2L1006.5 197.6L1008.8 198.7L1007.5 201.0L1004.7 200.2ZM1014.5 196.6L1016.8 198.9L1012.7 200.7ZM1021.9 201.0L1019.5 202.7L1017.1 199.0L1021.2 197.9ZM911.6 200.3L910.3 203.9L907.4 201.4ZM918.6 201.7L918.3 204.7L913.5 205.3L913.6 201.4L916.8 200.6ZM918.5 202.8L922.6 203.1L923.0 207.8L919.2 207.9ZM928.5 206.3L925.6 204.9L926.7 202.3L929.9 203.2ZM932.9 205.5L934.5 203.0L937.1 203.0L938.1 205.9L936.1 208.1ZM993.4 203.9L993.7 207.5L990.3 207.4L988.7 204.2ZM994.6 204.6L995.8 201.7L998.0 202.6L996.9 205.7ZM1006.7 206.8L1002.4 207.8L1004.7 203.1ZM1013.4 200.2L1013.2 202.8L1009.9 205.5L1007.8 201.2ZM1018.1 205.1L1015.8 203.2L1019.8 201.5ZM1021.2 202.9L1024.0 205.1L1020.8 207.6L1018.0 203.9ZM898.6 210.4L901.8 206.9L904.1 208.6L903.7 212.8ZM911.0 205.9L910.1 207.6L909.4 209.6L907.5 209.4L905.6 207.0L907.2 205.9ZM913.7 206.2L912.2 209.4L909.4 207.2ZM919.8 207.3L916.2 210.5L914.5 207.5ZM921.0 210.9L922.6 207.2L925.5 209.2L925.5 212.3ZM933.9 205.5L935.7 206.8L936.4 208.5L932.8 210.8L931.6 209.6L931.4 206.3ZM934.6 208.4L938.4 207.1L938.9 211.5ZM984.6 212.2L984.4 209.3L988.2 208.2L988.1 211.6ZM995.1 213.4L992.6 214.2L991.6 211.1L994.0 208.1L996.0 210.9ZM1001.3 210.1L999.9 212.5L997.9 211.8L997.2 209.6L998.2 208.1L1001.1 209.3ZM1008.2 207.9L1004.9 210.6L1002.9 209.6L1003.6 206.6L1005.5 203.8L1008.2 204.7ZM1015.4 211.2L1011.1 212.5L1012.6 208.2ZM1020.1 208.4L1023.4 209.5L1021.1 212.6L1019.6 210.8ZM899.5 213.9L899.5 211.5L902.9 211.4L904.9 212.1L903.8 216.2L901.4 216.0ZM911.6 216.9L908.2 217.5L906.8 215.4L906.8 212.0L910.5 210.9L912.9 214.5ZM919.6 215.1L920.2 218.0L917.1 218.8L915.2 217.1L917.8 215.3ZM923.6 215.3L923.7 216.9L921.8 218.5L919.8 216.3L920.9 214.4L922.4 214.7ZM928.0 214.7L927.0 214.0L926.1 212.2L927.0 211.1L929.5 210.6L930.3 213.3ZM937.2 212.6L936.3 214.8L932.5 214.3L933.0 211.7L935.2 210.0ZM942.5 216.3L939.3 216.6L938.8 214.9L939.3 212.9L941.8 214.0ZM949.1 219.5L947.6 219.1L944.5 216.9L945.3 215.9L948.3 215.4L949.8 215.7ZM989.8 214.9L994.9 213.6L995.7 217.1L993.1 220.1L988.8 217.6ZM999.4 216.6L997.6 214.6L999.2 213.1L1001.4 214.7ZM1001.0 214.4L1003.2 212.4L1005.7 214.1L1005.4 216.0L1004.3 216.8L1002.5 216.3ZM1011.0 215.3L1010.8 213.4L1012.4 211.6L1015.0 213.6L1014.3 215.8ZM1014.0 217.1L1013.1 214.4L1016.0 213.2L1018.4 214.5L1017.4 216.8ZM1022.7 213.5L1022.9 216.2L1019.4 216.5L1018.8 213.9L1019.6 212.3ZM897.7 219.4L898.7 217.6L902.4 217.9L900.3 220.3ZM903.5 223.3L902.6 218.7L904.7 216.4L906.2 221.2ZM911.5 218.9L914.1 215.5L917.6 217.1L914.9 220.7ZM919.5 221.4L918.8 223.7L916.7 223.9L915.2 223.8L915.6 221.3L917.2 220.4ZM924.2 219.7L926.2 221.2L925.9 222.9L924.2 225.1L921.9 222.8L921.8 221.2ZM928.3 222.0L927.4 220.8L928.7 218.6L930.5 218.0L931.6 219.9L931.6 221.4ZM936.2 222.8L937.0 220.0L938.7 218.0L941.1 220.3L940.8 222.8L937.9 223.3ZM943.4 217.1L945.4 218.0L946.3 219.5L945.3 221.9L942.6 221.4L942.1 219.9ZM981.2 221.1L981.3 218.4L984.2 217.2L985.7 219.0L985.8 222.1ZM989.9 220.7L988.1 223.1L983.9 221.6L986.0 218.1ZM995.6 222.5L991.8 223.2L991.0 219.8L992.9 217.5L995.5 218.7ZM999.3 220.7L999.6 218.4L1002.4 219.0L1004.0 220.7L1001.5 222.1ZM1009.5 221.0L1006.2 222.0L1003.8 218.4L1006.5 217.5L1009.5 217.8ZM1011.3 218.0L1014.0 218.0L1013.5 220.3L1012.8 221.6L1009.9 220.8L1010.1 218.8ZM1021.6 219.2L1024.0 221.6L1019.0 222.0ZM899.2 224.4L901.8 228.4L900.1 229.8L897.0 231.0L896.2 228.4L896.9 225.8ZM903.4 225.7L905.7 225.4L906.2 227.1L904.6 229.0L903.0 228.8L901.8 226.6ZM909.0 224.3L910.5 227.2L909.4 229.8L906.9 228.8L906.5 226.7L907.0 224.4ZM917.1 222.0L919.2 222.2L918.6 226.6L916.5 226.6L914.9 224.0ZM921.7 229.2L920.3 227.1L918.8 223.6L922.0 222.6L924.2 224.1L924.9 227.8ZM930.8 227.5L928.4 229.3L926.8 226.2L929.4 224.9ZM934.7 228.9L933.1 228.0L934.6 225.7L937.8 226.1L938.2 228.9ZM940.5 230.5L936.8 228.8L936.9 226.1L937.7 224.7L941.1 225.6L941.7 228.1ZM946.6 228.7L944.8 228.2L943.8 226.1L945.6 224.2L947.5 224.8L948.6 227.0ZM955.1 224.7L952.5 227.3L949.9 225.0L952.6 222.3ZM959.3 222.3L959.3 223.9L957.7 226.5L955.6 224.2L956.3 221.8ZM966.2 229.0L963.8 229.5L962.4 227.1L965.1 224.5ZM973.0 230.0L971.3 225.4L974.3 223.5L976.8 225.6L976.4 228.3ZM980.4 225.8L981.8 225.8L982.7 228.0L980.6 229.4L978.4 229.0L978.4 226.8ZM985.5 230.8L983.9 228.4L984.4 225.6L987.8 224.5L990.0 227.2L988.8 229.5ZM991.4 222.5L994.2 224.5L993.2 228.5L990.4 227.6L988.7 225.2ZM1001.0 223.6L999.6 225.3L998.4 225.5L997.3 223.9L997.5 221.5L998.8 221.5ZM1006.2 224.3L1005.7 226.1L1001.7 226.0L1000.8 222.7L1003.4 221.4L1004.7 221.5ZM1012.4 223.3L1012.6 225.4L1009.0 225.7L1008.8 223.0ZM1014.4 224.2L1017.2 228.6L1014.0 231.2L1011.7 230.0L1011.4 224.5ZM896.0 230.8L893.2 231.4L892.7 229.2L892.9 227.7L895.9 227.9ZM902.5 231.6L899.8 233.8L898.1 229.7L899.5 226.5L903.1 229.3ZM901.7 232.5L905.4 229.5L906.8 233.6L904.6 234.9ZM915.2 234.4L913.2 236.1L911.1 231.5L914.5 230.6ZM920.0 234.5L916.5 232.6L917.5 229.5L921.5 231.5ZM929.3 230.7L929.0 233.3L925.3 233.4L925.6 230.2ZM933.0 233.7L930.6 236.4L928.0 233.5L928.3 230.6L931.2 229.9L933.6 231.6ZM935.0 225.9L937.5 226.1L939.2 230.2L938.1 231.2L934.3 231.7L933.0 230.3ZM944.7 231.5L943.4 232.9L941.0 233.1L940.4 230.5L942.1 228.7L944.0 229.0ZM953.6 233.4L951.6 234.3L949.6 235.0L949.1 231.9L950.8 230.8L952.8 230.1ZM958.0 232.7L956.3 228.5L960.1 228.2ZM965.3 233.4L963.7 235.1L961.5 231.2L964.2 229.3L966.6 230.2ZM972.7 231.7L972.8 235.0L967.3 233.1L968.7 230.0ZM970.6 231.4L974.5 230.2L976.6 230.9L976.1 235.4L972.7 236.9L970.9 235.1ZM982.8 227.7L986.4 229.0L984.2 232.4L981.1 231.5ZM988.3 229.5L989.6 227.8L992.3 228.3L992.1 231.0L989.0 231.5ZM990.9 229.9L992.6 228.4L994.8 231.1L992.4 232.4ZM999.2 233.0L997.3 230.2L998.8 227.6L1001.2 228.8L1001.5 231.4ZM1011.5 231.6L1008.0 234.2L1005.7 231.2L1006.3 228.8L1009.8 229.6ZM1011.3 227.7L1013.4 229.3L1013.1 232.1L1010.0 233.4L1008.1 231.8L1008.8 229.0ZM1019.3 228.3L1022.3 226.8L1023.9 229.0L1023.2 231.6L1019.8 231.5ZM888.5 238.7L890.0 237.2L892.0 236.1L893.7 237.9L893.2 240.1L890.6 240.7ZM893.6 238.7L894.1 235.2L897.5 235.4L898.3 238.3L896.1 239.6ZM905.1 236.8L900.6 236.9L900.9 232.8L905.9 232.2ZM906.8 239.2L905.8 234.2L910.2 235.3ZM914.8 234.0L917.2 234.6L916.4 237.3L914.1 237.7L911.8 236.6L912.3 234.9ZM922.5 233.3L926.0 233.8L924.2 237.9L921.7 237.1ZM929.4 239.9L926.4 239.3L925.7 236.6L926.9 235.3L930.8 235.7L931.2 238.5ZM932.8 233.2L935.9 231.6L938.1 234.2L936.0 237.0L933.9 236.7L933.1 235.3ZM943.2 239.1L939.5 239.9L938.7 236.5L940.9 235.2ZM946.4 237.3L946.1 233.7L948.4 234.0L949.6 235.5L947.7 237.9ZM952.2 234.2L956.1 236.1L952.3 239.0L949.6 237.1ZM961.9 233.6L964.4 236.1L961.1 238.8L957.6 237.6L958.5 233.6ZM967.5 237.2L966.6 238.5L963.8 237.8L963.8 235.2L966.0 234.6L967.8 235.9ZM975.6 236.7L973.4 236.1L972.1 234.8L972.5 232.4L974.6 231.4L976.4 233.5ZM978.7 232.5L982.7 234.9L980.7 237.0L976.4 235.1ZM983.8 233.9L988.7 233.1L985.7 236.9ZM990.2 236.9L993.5 234.9L995.2 238.4ZM998.3 237.0L998.5 238.4L995.8 240.8L993.0 239.1L993.5 236.2L994.4 234.3ZM1000.9 238.7L1000.7 236.6L1002.4 235.4L1005.0 237.3L1003.3 240.3ZM1008.6 237.6L1008.5 233.4L1010.7 232.3L1013.5 236.3L1011.9 237.8ZM1014.6 235.0L1017.1 238.2L1016.2 239.6L1013.7 239.3L1013.0 237.4ZM889.9 239.9L889.8 243.5L888.6 244.6L885.5 243.9L884.5 241.1L887.3 239.7ZM891.6 241.9L893.5 239.6L897.0 240.0L897.3 243.8L895.3 244.9ZM904.1 242.1L902.9 243.0L899.7 243.1L899.8 241.0L900.4 238.5L903.6 238.6ZM905.4 242.8L906.7 239.2L909.3 239.4L909.1 243.4ZM910.4 242.2L910.7 240.0L912.7 238.0L914.4 238.7L914.1 241.9L913.3 242.5ZM918.1 238.5L920.7 239.3L921.0 240.6L919.7 241.8L917.3 242.5L916.9 239.2ZM926.8 239.4L926.2 241.6L925.6 242.1L923.0 242.0L922.4 240.3L923.7 238.7ZM928.9 238.2L933.1 239.7L932.3 242.6L929.3 241.5ZM935.6 241.7L936.9 245.2L934.0 244.9ZM944.2 241.4L945.4 242.1L946.8 243.5L945.4 245.6L942.2 244.8L942.4 243.4ZM950.2 240.7L953.4 238.8L952.9 242.5ZM954.4 240.6L957.3 238.3L958.8 240.4L957.7 244.6L954.6 243.6ZM959.6 239.6L964.1 241.6L962.2 244.8L958.6 243.2ZM970.3 244.2L966.7 244.2L965.5 240.8L967.0 238.6L971.4 239.9ZM976.4 239.0L980.7 240.6L978.5 244.9L974.2 243.1ZM980.2 238.2L982.0 240.3L981.4 243.6L978.1 243.2L978.6 240.8ZM990.6 240.1L989.6 243.1L986.5 242.9L986.6 240.9L988.0 238.3ZM990.9 244.6L990.6 242.9L992.5 240.1L993.5 241.5L993.9 244.5ZM1002.3 245.3L997.6 245.5L999.1 241.6ZM1012.3 240.6L1009.6 244.6L1006.5 241.4L1008.5 237.9ZM1010.3 239.8L1014.5 237.8L1011.4 244.1ZM1016.9 241.7L1020.9 242.5L1019.7 245.7L1015.6 245.1ZM885.1 247.5L882.3 249.7L880.1 249.0L880.2 246.1L881.8 244.8ZM893.4 249.9L889.7 251.6L889.9 247.9ZM895.1 247.5L895.3 245.7L897.3 245.3L899.0 247.0L897.3 248.5ZM899.0 248.9L900.3 244.3L903.3 247.1ZM912.4 249.0L910.3 249.4L909.3 246.4L912.6 246.2ZM914.7 248.7L914.1 246.4L913.9 244.7L916.3 244.3L918.0 246.0L916.8 248.1ZM924.8 244.7L925.3 245.4L925.6 247.3L922.9 249.3L922.0 247.7L922.3 244.4ZM928.9 243.2L929.8 246.4L927.5 246.9L926.1 244.6ZM933.8 245.4L938.2 246.9L935.0 249.5ZM938.6 250.5L937.9 246.6L942.4 245.8L942.1 250.1ZM968.4 246.9L968.9 245.3L971.3 243.5L972.2 246.3L970.9 247.4ZM978.7 251.0L977.8 247.4L981.4 248.4ZM985.3 247.9L982.0 248.6L981.2 245.0L983.7 245.2ZM988.6 248.8L990.4 247.5L994.0 247.6L993.9 249.8L992.9 252.4L989.9 252.2ZM1002.3 244.1L1001.9 245.9L1000.2 247.1L997.2 245.9L998.0 243.2L999.6 242.8ZM1008.0 244.0L1008.2 248.1L1006.5 249.4L1004.2 249.2L1003.1 247.0L1003.7 244.6ZM1012.2 249.8L1009.6 247.3L1011.1 244.4L1015.0 247.9ZM1020.8 247.3L1016.8 249.0L1015.5 246.8L1016.0 244.1L1017.9 243.9L1020.0 245.9ZM1021.5 244.6L1023.6 247.2L1022.8 249.1L1018.8 249.1L1019.1 246.1ZM879.1 257.0L877.0 254.9L878.3 251.4L879.7 251.3L881.6 254.0L881.7 256.1ZM889.5 253.8L887.9 256.2L884.1 254.7L886.0 252.3ZM892.3 256.5L891.9 255.5L892.7 252.6L894.9 252.9L895.3 254.2L895.1 255.9ZM898.7 247.9L902.2 248.9L903.0 252.0L899.2 254.1L897.1 251.8ZM902.2 251.5L902.0 249.5L905.7 249.2L906.8 250.8L907.0 252.9L904.0 253.6ZM913.1 254.2L909.6 251.5L912.5 248.0L915.3 251.2ZM917.2 251.7L918.8 249.7L921.5 251.6L920.5 254.0L918.2 254.4ZM926.5 252.8L924.2 256.6L921.5 255.5L921.8 250.8L924.0 250.3ZM929.7 253.1L927.8 249.7L933.2 249.9ZM973.4 251.8L975.1 249.6L978.4 252.0L979.0 254.6L975.7 255.4L973.4 253.4ZM986.6 252.9L985.5 256.4L983.3 256.3L980.9 252.4L984.6 249.9ZM991.6 255.6L990.4 257.4L988.2 257.3L988.4 253.7L990.2 252.5ZM996.5 252.3L992.7 251.9L992.8 249.0L997.0 249.0ZM1002.8 250.4L1004.2 252.6L1002.3 255.8L999.1 253.0L1000.3 250.2ZM1008.8 248.9L1009.6 252.8L1004.5 252.8ZM1009.7 251.7L1012.3 248.5L1013.0 252.9ZM1019.1 249.1L1023.5 250.9L1020.8 254.1L1017.8 253.4ZM878.5 255.5L881.7 256.1L881.9 258.9L879.6 259.9L876.9 258.8ZM884.4 262.9L882.5 260.6L883.5 256.8L887.0 257.6L887.5 260.1ZM892.7 261.2L891.0 260.9L889.4 259.2L890.5 258.7L893.5 257.7L894.3 259.0ZM897.6 260.1L895.0 257.9L895.1 255.7L898.1 254.5L899.4 258.1ZM905.8 256.5L904.9 258.7L903.1 259.6L900.9 256.6L901.9 255.2L904.5 256.0ZM914.7 257.8L910.8 260.0L907.4 257.7L911.8 254.2ZM913.5 256.7L915.5 255.7L916.8 257.9L914.9 260.7L913.5 259.2ZM924.2 259.7L920.8 259.5L921.9 255.8L924.0 255.4L925.4 259.1ZM929.7 259.8L927.9 260.2L925.1 258.6L926.6 256.2L929.3 255.8ZM989.1 259.8L985.4 260.9L985.0 256.2L988.5 256.3ZM989.8 259.9L992.7 257.5L993.8 261.8ZM1000.5 263.1L996.2 260.7L999.1 255.9L1002.1 257.7ZM1002.6 255.7L1004.6 254.9L1007.6 258.6L1005.7 261.1L1001.9 260.9L1002.0 258.4ZM1010.0 260.8L1008.3 262.0L1005.4 261.4L1006.0 257.3L1009.6 257.8ZM1016.9 256.7L1017.5 259.5L1015.8 262.0L1013.4 258.5L1015.2 255.8ZM1025.4 256.4L1027.3 260.6L1025.2 262.6L1021.9 261.0L1022.9 257.3ZM875.6 260.3L875.7 261.8L874.9 263.6L873.3 264.2L872.0 261.3L872.7 259.9ZM882.7 265.5L878.8 262.4L882.9 260.2L884.7 263.3ZM890.0 264.2L888.9 266.2L885.3 264.2L884.4 262.5L886.5 260.5L889.0 260.8ZM893.1 264.6L892.5 261.0L897.3 260.7L897.4 264.8ZM898.0 265.3L896.1 260.6L901.3 262.8ZM902.0 266.7L902.6 264.1L905.2 263.0L907.2 263.8L905.3 267.4L903.3 268.5ZM909.4 265.0L914.0 263.0L914.9 268.4L911.8 268.3ZM919.8 260.9L923.7 262.1L920.1 265.4L916.9 262.2ZM927.1 261.9L928.8 263.2L929.4 265.9L926.3 267.2L924.5 264.4ZM984.0 264.8L985.0 261.7L987.5 262.1L988.3 263.7L986.0 265.9ZM995.1 262.6L996.5 265.2L995.6 266.7L993.0 265.8L992.5 264.3L993.9 261.3ZM1001.0 263.0L997.4 265.2L995.2 262.2L999.4 260.0ZM1009.9 263.4L1010.9 265.3L1008.0 266.9L1006.9 264.5ZM1017.6 262.6L1016.1 264.9L1012.8 264.4L1013.9 261.2ZM1017.5 261.4L1020.0 263.3L1019.0 265.5L1018.2 266.7L1015.9 265.1L1015.7 262.7ZM1023.8 264.3L1026.7 266.6L1022.2 267.3ZM872.0 272.6L868.7 271.4L869.1 269.8L871.6 268.1L873.0 268.5L873.3 271.1ZM877.6 270.2L880.7 268.5L882.3 270.2L879.6 272.6ZM885.7 268.7L884.1 269.3L882.4 270.2L881.7 266.7L882.1 265.5L885.0 266.2ZM888.6 272.2L886.5 269.4L889.6 269.7ZM896.9 266.1L901.7 267.2L901.0 270.1L897.8 272.1L895.1 269.8ZM899.5 270.2L902.7 265.9L905.5 269.6ZM909.6 266.9L910.7 271.0L905.9 269.1ZM916.2 266.5L920.4 269.0L916.2 270.9ZM923.4 268.1L925.0 268.8L925.3 270.2L923.4 271.9L922.3 271.7L921.8 269.8ZM995.4 266.5L997.1 265.6L999.2 265.5L999.9 267.6L999.0 269.7L996.6 269.4ZM1001.4 266.7L1005.8 267.9L1004.6 270.4L1001.2 269.6ZM1005.8 269.3L1006.9 266.5L1010.2 266.3L1009.0 269.7ZM1014.5 266.6L1016.9 267.3L1015.6 270.7L1012.6 268.8ZM1025.0 269.5L1021.5 270.3L1017.9 267.4L1022.4 265.5ZM871.7 278.2L868.1 277.0L866.9 275.4L869.2 272.6L870.9 273.7L872.9 275.9ZM876.1 278.4L873.7 277.7L874.0 274.9L876.2 274.5L877.7 277.0ZM878.4 272.3L879.9 271.2L883.2 272.0L882.7 273.5L881.8 276.2L878.3 274.9ZM882.9 275.4L883.9 272.5L886.7 272.7L887.3 276.5L884.8 277.0ZM895.9 276.1L890.9 277.6L891.7 273.6L894.6 273.1ZM897.7 272.2L901.3 274.7L899.3 277.1L897.1 276.4ZM907.0 277.3L906.1 278.9L903.8 277.9L902.6 275.6L904.6 274.5L907.4 274.8ZM995.8 274.9L994.1 276.6L991.8 275.6L991.8 272.6L995.4 272.5ZM999.3 272.6L1002.7 272.9L999.8 277.2L996.7 276.6ZM1006.6 276.0L1003.5 274.3L1007.0 272.9ZM1013.5 273.8L1013.8 276.2L1011.9 278.5L1010.7 278.3L1009.4 276.2L1010.6 273.2ZM1019.9 275.5L1017.3 278.3L1016.3 273.8ZM1028.1 275.4L1027.8 277.7L1024.0 277.9L1023.7 275.3L1024.9 273.0L1026.4 272.6ZM867.4 281.5L863.3 285.1L861.3 281.9L863.7 279.5ZM875.4 283.4L872.7 282.8L872.5 278.8L875.0 278.6L877.1 280.6ZM876.1 281.7L876.1 278.7L878.1 278.6L880.1 279.6L880.3 281.9L877.7 283.2ZM887.4 275.8L888.4 278.5L885.4 280.4L883.2 280.2L882.7 276.2L884.2 275.2ZM896.0 279.6L891.1 283.1L889.9 277.6ZM898.2 284.1L895.8 284.5L894.6 281.3L896.8 279.4L898.6 280.5ZM898.4 283.1L899.5 280.0L902.7 281.3L902.7 283.8L900.6 284.4ZM996.3 276.5L999.1 277.8L997.7 280.6L994.2 281.1L993.5 279.6L994.6 276.7ZM1005.3 284.6L1003.5 282.9L1003.7 280.0L1005.6 279.8L1007.8 281.6ZM1011.5 276.3L1015.1 279.1L1011.9 283.2L1008.8 280.0ZM1013.5 279.7L1015.0 276.6L1018.4 278.6L1017.1 281.8ZM1026.8 280.3L1024.0 283.0L1024.3 277.7ZM1027.2 282.8L1028.2 279.8L1031.3 279.6L1032.3 282.2L1029.6 284.0ZM860.2 285.4L862.3 282.0L865.5 283.0L863.1 287.3ZM868.2 282.8L867.8 286.4L865.4 285.7L865.3 282.7ZM870.9 285.3L873.1 284.4L874.8 284.4L876.9 287.2L874.8 289.9L872.0 288.6ZM883.4 283.4L882.8 286.9L880.3 287.0L879.5 283.5L882.5 281.4ZM888.6 289.0L883.5 289.7L884.3 285.2ZM894.0 286.3L892.7 289.1L889.6 288.8L889.3 285.2L891.2 284.3ZM997.9 283.3L1000.9 282.6L1002.7 285.0L1000.2 286.7ZM1005.2 288.6L1007.1 285.4L1010.7 285.6L1010.9 289.2L1010.6 290.3L1006.1 289.6ZM1010.8 285.1L1010.6 282.2L1015.3 281.8L1016.9 283.6L1013.9 286.3ZM1020.3 287.7L1018.5 288.2L1016.5 285.9L1018.4 284.4L1020.9 285.0ZM1021.9 283.6L1027.7 284.8L1024.1 289.1ZM1034.4 284.3L1036.2 287.8L1033.3 289.5L1030.3 287.2L1031.7 284.2ZM862.0 291.2L864.6 289.1L867.1 289.2L868.7 291.6L866.4 294.5L863.4 294.0ZM873.0 291.7L872.3 288.9L873.8 286.8L876.1 288.2L875.1 290.5ZM880.9 287.1L879.6 292.9L876.8 288.9ZM881.6 293.5L879.6 292.7L880.0 290.0L881.3 289.6L883.0 290.1L883.8 291.9ZM892.5 286.0L894.0 288.7L892.3 290.9L890.3 289.9L890.4 286.6ZM1003.5 295.4L1001.9 295.2L999.5 294.5L999.4 292.8L1001.4 291.5L1003.0 292.4ZM1008.4 293.3L1008.1 290.0L1009.6 286.4L1011.7 286.8L1014.1 290.9L1011.0 293.0ZM1016.5 289.3L1017.8 293.0L1013.9 293.9ZM1025.1 290.8L1026.9 291.8L1025.6 294.7L1025.1 296.2L1021.6 293.1L1021.9 291.7ZM1032.2 292.1L1030.4 294.5L1028.5 293.3L1030.7 290.3ZM861.3 296.1L859.8 293.1L861.9 291.4L864.1 294.0L863.6 295.6ZM869.2 294.5L871.0 295.5L871.6 298.1L868.2 298.6L867.2 297.0ZM876.5 291.0L878.3 297.0L872.8 294.3ZM880.5 294.3L881.4 291.5L885.2 292.7L886.3 295.2L883.4 297.8ZM886.6 292.3L888.0 293.0L888.5 295.9L885.4 296.8L884.2 294.7L885.2 292.9ZM1003.6 293.0L1005.7 295.7L1000.4 297.7L1000.0 293.1ZM1006.2 294.6L1007.9 296.6L1005.5 298.5L1003.8 297.8L1004.4 295.2ZM1015.3 294.0L1017.5 296.5L1016.7 298.9L1014.2 299.3L1013.6 295.9ZM1023.3 294.2L1021.9 296.3L1019.6 296.4L1018.3 293.3L1020.3 292.8ZM1023.5 294.9L1028.7 294.6L1024.7 299.1ZM868.1 300.7L865.2 301.9L863.2 301.2L862.6 298.4L866.5 296.6ZM869.4 299.2L872.3 301.9L872.4 304.7L866.9 305.2L866.6 300.9ZM878.7 298.4L880.5 299.2L880.1 301.7L877.6 303.4L876.2 301.7L877.0 299.3ZM886.5 303.7L885.4 304.6L883.1 303.1L883.0 300.7L885.0 300.4L886.9 301.6ZM1010.6 299.9L1007.9 304.0L1004.9 300.0L1008.1 296.6ZM1013.7 302.5L1015.1 302.0L1017.7 302.5L1019.0 303.9L1016.5 305.7L1015.1 305.4ZM867.6 306.5L869.9 303.3L871.6 304.4L871.4 307.1L869.2 308.7ZM874.3 308.2L879.9 308.9L876.6 311.8ZM879.1 303.3L882.4 303.4L882.1 308.0L879.4 306.5ZM944.9 258.0L943.4 257.6L944.0 255.6L944.7 254.8L947.7 255.7L946.7 256.9ZM970.6 251.5L972.0 254.5L970.6 256.5L968.3 257.5L965.7 254.7L966.6 252.6ZM941.0 278.4L940.1 276.1L942.6 274.7L945.1 275.3L945.2 278.1L943.9 278.3ZM956.2 268.3L960.2 269.4L961.4 271.9L957.7 273.5L955.3 272.5ZM972.7 275.3L969.3 275.2L969.2 272.4L972.6 271.8ZM898.5 295.4L896.8 295.9L894.4 295.3L893.9 294.1L895.9 291.2L898.7 292.9ZM922.6 286.5L922.4 289.9L918.4 288.2L920.0 285.7ZM924.0 290.3L927.2 288.1L929.8 288.9L929.4 291.0L928.9 292.7L925.5 291.4ZM944.9 291.7L941.6 289.1L944.3 287.3L947.0 288.2ZM963.1 283.1L964.6 284.5L964.3 286.8L962.0 287.8L960.7 285.2ZM989.0 295.0L986.9 295.8L984.9 294.8L985.1 292.3L987.3 291.8L988.5 292.9ZM894.3 301.4L895.7 299.5L899.5 301.9L898.6 305.4L895.1 306.0L893.0 304.4ZM912.9 309.3L909.9 310.9L908.5 308.9L910.1 307.6ZM923.1 307.0L923.2 309.7L919.5 308.5L920.5 305.9ZM943.7 306.3L942.0 303.0L944.8 300.9L946.7 304.6ZM954.4 297.8L955.4 295.6L957.5 295.3L958.9 298.3L955.7 299.4ZM976.3 306.5L973.1 301.9L978.3 302.0ZM987.9 303.5L990.0 301.7L992.5 303.1L991.8 305.3L990.1 305.7ZM890.3 319.8L888.0 320.6L887.3 317.7L889.7 317.5ZM899.2 310.3L900.8 312.1L900.0 315.7L897.4 315.9L894.8 313.0L896.6 311.4ZM910.3 313.7L915.3 314.6L912.1 318.5ZM935.3 314.4L937.4 314.4L938.8 317.0L935.8 318.6ZM952.1 315.3L954.1 311.1L958.5 311.4L957.9 315.6ZM960.0 310.9L963.6 311.0L964.1 316.0L959.5 314.7ZM984.0 317.4L984.6 314.7L988.7 313.2L989.0 316.8L985.9 319.3ZM998.7 317.5L996.0 317.3L995.6 316.0L996.8 314.3L999.5 314.8L999.6 316.6ZM890.5 331.2L892.7 329.7L895.5 330.9L892.7 333.3ZM908.6 327.9L907.9 325.8L911.3 324.6L912.7 328.6ZM921.3 326.5L922.8 324.8L925.3 325.0L925.7 326.6L925.1 328.2L921.6 327.7ZM970.4 336.5L974.3 333.1L976.7 336.0L974.2 338.6ZM991.4 325.3L993.6 325.1L994.6 327.3L993.1 329.0L991.3 328.5L990.7 327.1ZM894.5 340.6L897.3 340.7L898.9 341.4L898.3 343.7L896.6 344.9L894.1 343.6ZM986.1 344.6L991.4 347.3L987.2 349.0ZM824.8 299.7L827.2 301.2L827.5 303.3L823.9 303.0ZM832.4 305.0L830.6 303.3L831.8 300.7L834.5 302.2ZM820.5 307.1L822.4 309.7L819.8 309.1ZM833.6 310.4L834.7 313.2L831.8 315.0L829.6 312.8L830.0 309.9ZM845.0 306.8L845.7 311.2L841.9 310.8L840.6 307.7ZM804.5 319.1L808.2 315.2L809.2 319.3ZM816.2 320.9L815.8 315.7L820.4 317.7ZM830.3 323.7L829.6 319.9L833.3 317.1L834.9 318.2L835.3 321.4L832.9 323.1ZM805.5 335.4L804.3 330.8L809.3 332.4ZM814.0 328.9L815.7 331.7L812.8 334.8L810.8 333.6L810.5 329.8ZM788.3 346.9L789.0 343.5L792.0 343.7L793.9 346.8L791.5 349.0L789.4 349.8ZM803.6 341.2L805.9 343.7L805.5 345.1L802.7 345.4L802.3 343.7ZM776.8 364.3L773.8 366.5L769.3 364.2L770.6 361.7L774.9 361.9ZM780.3 359.0L781.5 356.3L785.4 355.7L784.7 357.8L783.1 360.1ZM768.5 373.8L765.0 375.8L762.7 374.3L763.5 371.8L766.4 370.0L768.4 372.6ZM788.2 372.0L785.3 374.1L783.8 374.4L783.2 370.0L786.1 368.3L788.6 369.5ZM761.7 380.8L759.8 379.7L760.5 377.7L761.8 375.7L764.4 377.7L764.2 379.2ZM780.8 387.5L778.5 389.3L776.7 388.0L778.9 385.8ZM784.6 387.8L783.9 387.2L783.3 384.1L785.6 383.9L787.1 384.8L787.6 386.9ZM750.6 395.2L749.0 390.3L751.8 390.0L755.3 390.3L753.6 395.7ZM772.2 393.2L771.8 396.6L769.1 394.7ZM782.1 400.9L780.0 399.9L780.6 397.2L784.1 398.9ZM745.6 404.4L744.6 405.6L743.5 405.6L741.4 404.8L742.6 402.7L744.4 402.1ZM755.0 405.6L759.1 404.7L759.7 408.5L755.8 410.8L753.5 409.1ZM770.2 406.0L773.5 404.1L776.0 406.1L771.9 409.6ZM753.7 421.5L755.0 423.7L752.5 425.6L750.6 423.9L752.1 421.7ZM766.0 415.3L768.2 412.7L769.8 414.2L768.0 417.7ZM773.3 416.5L777.4 414.0L777.2 418.1ZM731.0 431.8L733.7 432.4L734.3 434.4L732.8 435.9L731.2 435.5L730.5 433.6ZM748.9 424.2L752.1 426.6L749.2 429.5L747.3 427.6ZM759.5 433.6L763.4 437.2L760.7 439.7L756.7 437.5ZM729.0 448.6L726.4 449.9L724.3 447.0L726.6 443.6L730.0 445.4ZM744.3 441.2L742.5 442.2L739.6 441.5L739.1 439.6L741.0 437.8L743.8 438.5ZM752.0 442.8L749.9 443.6L748.6 440.6L750.0 439.4L753.0 440.9ZM762.7 447.3L759.2 445.8L763.0 443.0ZM735.9 455.4L738.4 457.6L737.9 461.1L732.1 460.3L732.9 456.5ZM746.7 456.6L744.2 455.7L742.4 453.5L743.3 451.5L746.7 451.4L747.5 453.4ZM765.3 460.0L762.1 461.6L761.0 459.6L760.4 456.5L763.5 455.0L764.7 457.9ZM738.1 470.5L740.8 470.0L741.5 472.7L738.6 474.3ZM757.2 469.1L754.5 469.5L753.3 465.6L756.2 463.9L759.6 467.1ZM763.7 468.6L762.2 464.4L766.4 465.2ZM731.4 476.9L733.9 477.5L734.5 479.1L734.1 481.3L731.9 482.2L729.8 481.0ZM742.5 478.9L744.5 481.6L741.8 484.2L738.3 482.4L740.2 477.6ZM757.6 478.7L756.5 481.4L754.1 481.1L752.3 479.0L756.7 477.0ZM735.4 488.6L737.9 486.8L740.3 487.7L741.1 489.9L739.6 492.8L737.2 491.6ZM756.4 493.5L758.0 492.2L760.7 493.8L759.3 495.5L758.1 495.9L756.3 495.4ZM745.3 501.4L748.8 501.5L749.0 504.1L746.6 505.4L744.5 504.2ZM737.0 518.1L736.0 512.5L740.3 515.1ZM751.0 525.6L746.7 522.6L747.7 519.1L752.2 521.3ZM745.0 526.1L742.4 527.9L741.0 525.1L743.6 523.5ZM745.2 549.2L746.6 551.3L744.1 553.4L742.1 551.8L743.2 549.8ZM843.6 319.9L846.7 318.3L849.5 319.5L847.7 323.4L844.7 325.0L843.3 323.6ZM841.2 329.2L837.1 333.0L835.1 330.3L837.7 326.4ZM844.9 330.2L843.8 329.7L843.5 327.0L844.0 325.2L847.7 326.1L847.6 328.5ZM853.5 329.7L851.6 331.0L849.9 330.9L849.0 330.2L849.9 328.2L852.1 328.2ZM857.8 325.3L858.1 328.6L855.7 330.5L853.0 329.3L851.3 326.4L855.4 324.7ZM838.7 333.5L835.2 335.9L833.7 333.5L832.2 331.2L836.2 329.6L837.4 331.5ZM841.8 329.8L843.9 331.2L844.2 333.0L841.6 334.2L840.7 332.7ZM845.6 330.5L847.6 333.2L845.4 335.8L843.3 335.0L842.6 333.1L843.5 331.3ZM850.5 333.2L853.0 331.2L855.9 331.0L857.7 334.2L855.1 336.9L852.6 336.5ZM828.7 344.4L826.4 341.4L829.2 338.0L831.3 340.7ZM840.3 338.3L838.9 340.9L836.9 341.2L834.8 337.7L836.1 336.1L838.9 336.3ZM840.5 342.0L840.3 340.0L841.0 339.0L843.8 339.0L844.2 340.9L843.2 342.6ZM845.8 340.2L847.9 337.5L850.9 337.8L851.3 341.3L847.1 342.8ZM859.8 335.8L858.8 340.2L855.3 338.7L855.4 336.1ZM830.8 341.2L830.0 343.9L828.3 346.3L824.5 344.2L824.1 340.8L825.7 340.0ZM832.5 342.9L835.0 345.7L831.2 346.4L829.3 342.9ZM837.4 342.3L839.8 340.1L843.9 340.6L844.1 343.5L839.3 345.3ZM819.0 352.8L815.9 351.1L818.3 348.4L820.8 350.0ZM821.7 352.2L820.3 348.5L822.9 348.5L825.3 349.6L825.4 351.9L824.1 353.3ZM828.0 353.3L825.9 350.6L827.9 347.2L829.8 347.7L831.5 350.3L830.8 353.1ZM810.6 357.7L813.5 355.9L815.7 359.5L813.4 360.8ZM818.9 353.9L823.0 351.1L824.3 355.7L820.4 358.2ZM830.2 357.5L826.6 355.8L827.5 354.2L828.7 351.6L831.6 353.2L832.2 355.8ZM811.8 364.0L809.2 362.8L808.9 360.4L811.6 359.7L813.3 361.9ZM814.1 362.6L815.6 358.8L818.7 358.9L818.9 363.3ZM825.7 361.8L822.6 362.1L820.9 358.1L825.2 357.0ZM811.4 370.0L809.9 371.0L806.8 368.0L808.8 365.1L811.8 365.2L812.1 366.8ZM815.5 370.4L812.9 369.7L813.5 365.8L816.4 366.5ZM820.4 364.3L823.0 363.4L825.4 365.6L823.9 369.1L820.6 369.5L820.1 366.6ZM829.3 365.8L828.3 370.3L824.0 368.3ZM805.5 370.6L808.6 372.7L806.8 374.7ZM810.6 372.7L812.3 371.1L814.5 370.6L815.1 373.7L812.7 375.0ZM814.7 370.4L817.8 371.5L817.8 374.2L816.0 374.7L813.3 372.1ZM824.8 372.9L822.0 371.5L824.9 368.7L826.9 370.2ZM803.8 378.5L802.5 380.9L799.3 379.3L801.6 377.5ZM810.3 378.4L810.1 381.2L808.2 383.7L805.7 383.7L804.3 380.7L806.4 377.3ZM814.5 381.7L812.5 379.3L813.8 377.1L816.8 377.4L816.9 380.1ZM819.9 382.9L816.9 380.8L818.1 376.3L823.3 379.5ZM805.2 382.4L807.1 383.8L806.6 386.8L804.2 387.2L801.6 385.4L801.0 383.5ZM810.8 386.4L809.8 383.9L814.6 383.7L814.3 386.1ZM818.7 388.3L817.1 386.8L817.9 383.4L821.0 383.7L821.5 388.0ZM799.0 386.5L801.5 385.6L801.5 390.3L800.0 392.2L795.9 389.3ZM806.7 388.4L809.2 386.2L810.3 389.5ZM816.3 388.8L815.1 390.7L812.9 390.7L811.8 389.5L812.9 386.7L814.7 386.0ZM823.4 388.8L822.4 390.6L820.0 390.4L819.2 388.7L819.5 387.3L821.6 386.6ZM797.2 395.4L802.5 394.9L802.0 400.8L798.2 399.3ZM807.2 395.5L808.6 397.2L807.3 398.9L805.2 398.6L805.2 395.6ZM812.2 395.8L811.7 399.6L808.4 399.9L807.4 396.4L810.1 394.5ZM813.9 397.8L814.4 395.4L816.5 395.3L816.8 397.8ZM796.9 399.6L795.1 404.3L791.9 403.0L794.1 399.1ZM804.4 404.4L802.9 405.3L799.8 405.0L799.7 401.8L802.2 401.2L805.3 402.7ZM808.0 405.3L805.1 404.2L805.2 401.7L806.9 401.5L809.0 402.8ZM813.3 401.5L815.9 402.3L815.2 404.6L812.7 405.9L810.6 403.5L810.8 402.0ZM791.7 404.7L793.0 407.8L788.2 410.4L785.9 406.5L788.8 404.0ZM798.6 405.3L794.5 406.6L795.8 403.0ZM805.1 404.7L810.1 405.9L808.7 408.4L805.8 409.4L803.7 406.8ZM813.1 406.1L808.0 406.9L808.4 402.6L810.9 402.1ZM790.3 415.2L787.0 414.0L789.4 409.9L792.7 412.2ZM790.7 414.0L791.5 408.7L795.8 411.5ZM804.2 412.3L803.4 413.5L801.7 414.4L800.2 412.0L801.1 410.6L802.8 410.1ZM809.8 410.2L812.1 413.0L807.7 415.5L807.1 411.7ZM815.7 415.7L814.7 412.5L817.6 413.3ZM785.3 422.3L783.6 420.5L785.3 418.2L786.9 418.4L788.5 419.4L786.9 421.7ZM794.8 416.2L795.3 421.6L790.8 419.0ZM797.4 421.7L794.0 419.9L793.9 417.1L797.6 417.2ZM803.9 416.9L804.9 415.3L806.5 415.3L808.3 417.1L807.4 419.9L804.3 419.3ZM814.4 418.0L814.2 420.5L812.7 420.3L811.1 418.9L810.9 416.5L812.9 416.9ZM818.6 417.2L818.7 419.8L815.9 420.8L814.9 417.6ZM779.3 422.8L781.3 421.7L783.7 424.2L783.2 426.5L780.5 426.9ZM788.9 424.4L786.5 424.9L784.5 422.5L785.0 420.4L786.7 419.7L789.4 419.8ZM797.3 426.1L794.9 428.6L791.9 424.5L795.1 422.4ZM802.0 427.8L800.8 426.3L801.5 422.6L805.1 422.3L806.0 424.9L805.7 428.2ZM809.2 424.9L807.3 426.2L804.0 426.3L803.5 423.7L805.6 421.4L808.0 422.3ZM811.0 424.7L813.7 423.9L816.8 426.5L812.4 428.6ZM788.7 430.7L786.4 430.0L787.3 427.0L789.4 426.9ZM788.7 429.8L790.6 427.6L792.3 427.6L793.7 430.6L790.6 432.2ZM800.2 427.7L802.5 431.1L799.5 434.0L797.4 432.6L797.2 429.8ZM808.6 432.4L806.0 433.4L805.0 431.9L805.2 428.8L808.8 429.8ZM811.6 432.5L811.3 428.5L813.0 428.1L815.1 428.8L816.2 430.4L812.9 432.7ZM783.9 439.0L781.2 437.4L782.5 434.3L786.5 435.5ZM791.0 436.2L788.2 436.2L787.5 433.6L790.2 431.9L793.2 435.1ZM793.6 437.5L792.7 434.0L795.8 433.8ZM800.9 436.8L797.9 433.3L802.1 429.2L804.2 432.9ZM803.6 434.1L808.5 433.9L808.2 436.7L806.3 439.7L802.4 438.3ZM780.3 440.5L778.1 441.1L775.4 441.2L774.3 438.5L776.8 435.0L778.1 436.1ZM783.1 440.7L785.5 442.3L783.8 445.0L780.4 445.4L780.7 442.2ZM792.4 443.2L788.4 441.5L788.7 438.1L793.9 438.3ZM800.4 437.4L799.7 440.4L797.6 440.5L796.5 438.3L797.2 436.5L799.1 435.6ZM803.4 443.5L799.9 442.1L801.6 439.0L802.7 437.0L806.0 439.6L804.9 443.5ZM814.3 438.3L814.8 442.0L813.0 444.1L810.3 442.0L810.7 438.9ZM784.5 445.8L782.9 449.8L780.1 448.3L781.0 444.4ZM790.0 446.3L790.2 448.6L787.0 449.5L786.3 446.5L788.3 444.2ZM794.1 443.8L795.6 441.6L797.8 442.1L798.6 444.8L795.7 446.4ZM803.0 448.6L799.2 445.2L802.8 442.4L806.4 446.2ZM808.0 442.8L809.4 444.8L808.5 448.2L805.3 446.4L804.5 444.7ZM812.7 449.0L809.6 445.1L814.5 443.4ZM780.8 452.1L778.3 450.0L779.3 447.8L782.3 448.4ZM782.2 451.0L783.2 447.7L786.6 448.2L786.0 452.5ZM796.6 456.6L791.7 455.5L791.7 453.0L794.6 450.0L798.0 452.9ZM796.6 452.3L798.5 452.1L799.0 454.7L796.7 455.5ZM804.4 454.9L802.2 454.6L802.0 451.7L804.8 450.3L806.0 453.0ZM808.5 451.4L811.3 453.3L810.2 455.5L807.0 453.7ZM774.3 457.2L777.3 454.6L779.8 458.7L775.7 461.0ZM777.6 456.8L780.6 456.0L783.0 456.8L782.7 459.8L781.0 461.6L777.6 459.9ZM786.8 456.8L786.4 452.0L791.1 455.5ZM795.1 457.9L795.6 461.1L792.3 460.6L792.6 458.1ZM798.6 456.1L803.5 457.5L802.4 460.6L798.1 460.4ZM808.8 461.5L807.3 458.2L808.6 456.8L813.0 457.2L812.6 460.0L811.9 462.2ZM768.3 463.4L768.9 461.5L771.3 460.0L773.4 461.3L772.6 463.7L770.8 464.4ZM778.9 462.0L778.9 465.7L774.8 464.3L776.5 461.0ZM787.7 460.6L787.3 463.3L783.9 463.1L783.4 460.8L784.3 460.1ZM790.9 461.5L793.6 463.1L793.3 466.0L789.8 466.2L789.0 463.9ZM797.9 463.5L795.4 459.6L800.1 460.3ZM803.2 463.7L802.6 460.1L805.4 459.1L807.6 462.7ZM778.3 466.6L776.4 470.7L774.6 468.4ZM783.8 466.9L783.7 469.4L781.8 470.5L779.9 468.6L780.1 467.1L781.6 466.7ZM789.2 472.7L785.8 473.7L783.3 472.8L783.6 469.1L786.7 466.9L788.5 467.7ZM797.2 468.1L797.3 470.2L794.9 470.6L793.6 468.8L794.6 467.4ZM805.6 469.1L803.4 473.5L799.2 470.8ZM765.7 471.7L767.1 471.0L769.7 472.3L768.6 475.9L766.6 476.5L764.1 474.4ZM771.8 470.3L772.1 474.0L771.0 474.9L768.0 474.7L767.8 471.9L770.2 470.9ZM774.3 473.3L776.4 470.7L779.6 471.5L779.4 475.2L775.6 475.6ZM785.5 471.4L787.3 470.2L788.5 473.7L787.4 475.8L784.1 474.2ZM791.2 473.9L791.4 476.0L788.5 476.0L787.2 473.7L789.5 472.7ZM797.3 476.7L795.0 476.3L794.0 475.2L795.5 472.9L796.7 473.5ZM801.5 474.1L803.8 468.9L807.4 472.2ZM771.6 481.4L769.3 484.2L764.8 482.6L766.0 479.2L767.6 478.5ZM776.5 476.4L778.9 478.7L776.8 481.1L773.3 480.9L772.9 477.7L774.7 474.8ZM782.5 477.8L785.5 478.8L786.7 481.4L784.3 483.1L781.7 482.5L780.8 479.4ZM787.9 482.5L787.4 478.8L792.4 480.0ZM792.3 477.8L795.7 477.8L798.4 479.7L796.9 481.8L793.8 482.7L791.7 480.0ZM799.8 478.9L802.2 477.6L803.4 477.1L804.4 479.8L803.2 480.7L801.2 480.2ZM763.5 486.8L763.9 485.7L766.0 485.4L766.7 486.7L766.6 488.1L764.7 489.4ZM771.1 484.0L774.4 483.9L774.8 486.7L771.8 487.4ZM774.1 485.7L775.5 483.1L778.0 483.5L779.6 486.2L777.4 488.6L775.8 488.1ZM789.6 487.8L788.2 489.7L784.4 489.5L782.4 485.3L784.0 483.5L786.7 482.7ZM790.0 484.1L796.0 482.5L794.6 487.4ZM799.9 482.6L799.9 488.0L794.8 485.9ZM799.9 485.6L803.0 484.3L805.8 487.6L804.2 489.3L800.6 489.3ZM770.0 491.3L768.6 488.0L772.3 486.6L773.6 490.5ZM775.9 492.3L773.4 491.4L774.4 488.7L775.6 488.6L778.2 488.6L778.2 492.2ZM779.6 493.6L783.2 490.1L786.9 491.5L784.6 495.1ZM788.6 493.1L786.6 493.4L786.4 489.8L788.9 489.6L790.7 491.5ZM793.0 494.8L790.9 491.5L793.3 490.2L795.2 491.6L795.3 493.6ZM801.8 490.1L802.6 493.7L798.9 495.6L797.1 492.5ZM765.2 500.3L761.7 500.0L761.5 497.4L765.6 495.7ZM774.3 500.4L771.8 497.1L773.9 494.6L776.7 496.6L775.9 499.6ZM778.4 493.2L781.0 495.0L779.8 497.2L777.5 495.9ZM786.9 495.7L786.7 499.1L784.7 499.1L781.9 498.4L781.8 495.0L784.1 494.1ZM794.7 492.9L791.5 498.6L789.7 493.1ZM799.1 494.8L801.1 496.2L800.2 497.6L797.1 498.1L796.7 496.1ZM805.9 499.6L804.9 501.8L802.3 499.3L802.5 497.8L805.7 496.5ZM765.2 502.2L764.2 507.7L761.0 504.2ZM763.7 505.1L765.1 502.0L769.4 504.1L767.4 506.5ZM774.0 505.2L773.4 502.6L775.8 502.2L777.0 502.7L777.8 505.2L774.6 506.1ZM782.1 505.2L781.3 501.6L785.5 500.6L786.1 503.4ZM788.5 504.9L786.9 502.9L790.4 500.9L790.8 504.2ZM792.0 505.8L793.2 502.7L795.2 503.4L794.0 507.0ZM804.7 503.9L802.1 503.6L800.6 502.0L799.9 501.0L803.2 498.9L804.3 500.9ZM808.8 502.3L805.0 506.6L802.5 502.5L806.1 500.9ZM755.6 510.8L756.7 508.0L758.8 508.4L760.4 510.1L759.0 512.0ZM767.4 508.1L766.5 510.9L763.7 511.8L763.0 509.5L764.7 507.6ZM772.0 504.0L774.8 504.3L776.7 506.5L775.1 508.4L772.2 509.5L770.4 507.0ZM779.3 510.7L779.2 508.6L782.0 508.0L783.8 509.3L783.2 511.2L780.6 512.6ZM780.5 508.7L783.3 506.0L785.4 508.0L784.9 510.8L784.6 511.9L781.2 512.3ZM795.2 506.5L793.4 507.4L791.4 506.6L793.0 504.4ZM796.9 507.0L800.1 508.6L797.9 512.5L794.7 509.4ZM802.6 504.6L805.5 508.6L800.2 508.8ZM763.6 518.3L761.7 514.3L765.9 514.4ZM766.6 512.9L769.7 509.4L772.2 512.8L770.5 516.8ZM774.5 513.9L775.5 510.0L779.3 510.2L780.5 513.9L778.3 515.2L774.8 515.6ZM786.5 510.2L786.6 512.8L782.8 513.0L782.2 509.4ZM787.6 512.4L790.4 511.8L792.0 514.0L792.0 515.5L788.7 515.5L788.5 514.2ZM791.4 513.6L796.0 513.9L796.3 517.4L792.0 518.2ZM799.1 511.3L802.0 510.2L802.7 511.3L803.5 513.8L800.9 514.5L800.0 513.8ZM758.4 521.2L756.2 518.0L757.4 516.2L759.7 516.6L760.0 519.0ZM763.6 519.1L764.9 515.2L769.4 517.7L768.0 519.8ZM768.8 517.5L771.0 516.3L771.7 520.8L767.8 519.9ZM779.6 518.0L778.9 520.9L775.7 519.8L776.8 516.0ZM789.0 517.6L786.2 519.7L784.7 518.1L784.6 516.2L787.3 514.6ZM790.8 518.1L793.8 519.8L794.1 522.5L790.4 523.7L790.3 520.4ZM798.9 515.8L802.6 516.8L800.9 522.6L797.7 521.1ZM807.9 517.4L808.2 520.6L804.0 518.8ZM755.1 528.4L754.5 523.8L759.1 525.8ZM764.1 528.3L760.2 523.4L765.5 523.5ZM768.5 524.8L769.1 522.8L770.7 521.5L772.4 523.7L770.8 525.6ZM774.6 523.8L776.1 523.1L777.9 527.5L774.6 528.4L773.7 527.1ZM779.2 528.1L781.7 523.1L784.4 528.3ZM790.0 524.9L785.3 525.1L785.9 521.1L790.4 521.0ZM796.8 523.4L797.5 527.6L793.2 526.3ZM804.2 521.9L805.9 522.7L805.0 524.5L804.2 526.0L802.3 525.0L802.3 522.7ZM757.0 528.0L752.1 530.6L751.7 527.0ZM757.9 533.6L756.8 530.2L760.2 530.3ZM765.3 527.9L770.5 529.5L767.6 533.9L765.4 532.0ZM769.5 531.5L775.6 529.4L772.9 534.3ZM777.7 528.2L778.1 531.3L775.9 532.1L774.9 531.6L774.0 527.8L776.4 527.2ZM784.3 526.5L787.3 529.1L786.2 533.4L784.1 531.9L781.8 528.3ZM795.6 534.3L794.0 534.1L791.3 532.7L792.5 531.1L794.2 529.5L796.5 530.6ZM800.6 528.7L799.2 530.9L795.7 529.3L797.6 526.2ZM802.6 530.7L804.9 530.1L806.7 532.0L804.0 533.2ZM748.3 539.4L748.5 536.2L751.3 534.6L754.4 535.9L753.7 539.0L752.5 540.0ZM755.7 537.6L754.0 536.0L756.3 534.3L757.8 535.5ZM762.5 536.8L765.5 536.7L767.4 539.5L764.2 540.8ZM766.7 534.4L769.5 532.1L770.4 534.1L770.5 537.1L768.4 537.6ZM779.1 534.6L779.5 537.1L776.6 538.5L774.5 535.5L775.7 533.6ZM784.8 535.6L779.8 537.2L782.5 531.4ZM787.9 534.1L791.1 536.3L787.5 538.2ZM794.7 540.4L792.6 538.0L794.2 535.8L795.2 535.5L797.3 538.0L796.0 539.6ZM803.8 533.1L804.7 536.3L800.7 537.2L799.3 533.0ZM808.0 534.9L809.9 534.3L811.9 536.5L811.7 537.7L809.5 539.6L806.8 536.2ZM750.0 539.1L753.7 538.4L752.8 541.7ZM761.1 544.7L758.6 546.7L757.3 542.5L760.2 540.6ZM765.6 540.6L768.2 541.5L768.2 543.4L765.9 544.6L764.2 543.0ZM773.8 539.7L772.9 543.4L769.2 543.1L769.5 539.5ZM778.1 536.6L781.6 539.2L779.0 541.9L775.9 538.9ZM784.8 539.6L785.6 541.3L783.6 544.3L781.7 543.5L780.3 540.2L780.9 539.2ZM791.9 540.6L792.6 543.5L791.8 544.5L789.8 545.5L788.4 543.3L789.8 540.7ZM798.2 543.1L795.0 544.6L793.7 542.6L795.4 540.9L797.6 541.8ZM806.2 542.5L803.7 543.7L802.6 540.5L804.7 539.7L806.5 539.9ZM809.0 542.6L809.7 540.0L813.0 541.9L812.0 545.0ZM753.5 546.8L752.1 550.8L748.6 549.7L748.0 546.3ZM757.3 551.0L754.5 550.5L755.0 545.7L759.4 547.4ZM763.4 547.3L759.7 548.5L758.6 546.3L757.6 542.5L760.0 542.6L762.1 542.7ZM765.8 547.1L765.9 545.7L768.3 543.8L770.0 546.3L769.7 548.3L766.0 549.1ZM773.0 551.3L772.2 548.3L774.0 547.8L776.7 548.4L776.1 550.3ZM783.4 551.5L780.9 548.4L782.9 547.0L785.8 548.7ZM785.7 545.5L787.2 545.0L788.7 545.3L787.9 548.2L786.5 548.1L784.3 547.0ZM797.2 547.1L795.1 546.6L795.6 542.9L799.0 543.6L799.0 546.1ZM801.1 548.4L804.4 547.1L804.0 550.5ZM805.3 547.8L811.4 546.5L808.6 550.5ZM815.9 545.4L818.1 546.8L817.6 550.2L814.8 550.6L812.5 548.4ZM757.2 554.4L755.8 556.6L753.0 554.0L752.8 552.5L754.8 550.9L756.6 550.7ZM757.2 557.0L756.0 553.6L758.2 553.0L759.6 555.7ZM766.4 554.2L763.0 552.3L763.7 549.1L767.2 549.6ZM768.3 553.6L768.7 548.8L772.1 549.0L773.1 553.3ZM778.8 556.3L776.3 555.6L774.3 553.3L777.6 550.2L779.2 552.3ZM786.2 551.8L787.0 553.9L784.4 554.6L783.3 553.1ZM788.8 554.9L789.0 550.4L791.4 549.5L795.3 552.7L793.3 554.5ZM796.5 554.1L796.9 549.8L801.0 551.8ZM798.9 553.3L803.8 552.7L805.8 555.6L799.5 557.2ZM815.2 549.6L811.7 553.9L810.4 549.5ZM814.6 555.4L817.1 552.5L819.3 552.9L820.5 555.0L819.4 558.9L816.7 557.9ZM749.7 558.0L745.2 557.8L744.9 554.8L747.7 554.3L749.5 554.6ZM752.0 558.2L754.6 557.0L757.5 557.5L757.4 560.4L753.6 562.0ZM764.9 555.5L764.1 559.2L762.0 560.9L760.0 558.2L760.2 556.8L762.2 555.2ZM770.7 559.9L766.7 562.8L765.5 558.4L768.4 557.2ZM776.4 559.8L776.4 555.0L781.1 558.8ZM781.0 560.0L782.0 558.1L785.8 558.3L787.2 561.4L784.3 562.5L782.3 561.9ZM788.1 556.2L788.7 557.4L789.0 559.8L786.4 560.2L785.3 557.7L786.3 555.5ZM797.5 556.6L796.6 561.0L793.9 557.9ZM801.9 561.2L799.7 557.7L804.1 557.2L804.6 560.2ZM812.3 557.4L810.8 560.5L809.3 562.0L807.6 558.1L807.6 555.5L810.8 555.0ZM813.3 554.9L815.6 557.4L815.3 559.8L813.6 561.8L810.9 560.3L811.0 557.5ZM824.9 559.1L824.5 561.7L820.3 561.6L819.6 559.1L824.0 557.1ZM739.4 565.7L738.5 564.2L740.6 562.8L743.7 563.7L743.9 566.5L741.9 567.3ZM750.2 568.4L748.7 568.6L746.2 567.6L746.8 565.4L748.6 564.0L749.5 565.4ZM752.9 563.6L749.0 564.6L749.4 561.6L751.9 560.5ZM758.3 562.0L761.4 561.4L762.2 563.5L762.0 566.2L760.0 566.2L759.0 565.2ZM765.5 564.6L766.2 562.0L768.8 562.6L770.5 564.4L768.5 566.3L767.2 567.2ZM768.8 565.0L772.3 562.9L774.2 564.1L773.3 568.7L771.9 569.9L768.0 567.2ZM779.2 561.7L779.0 563.5L775.5 565.1L774.8 562.3L774.3 559.9L776.9 559.5ZM784.5 567.2L783.0 565.4L787.4 564.6L787.1 567.5ZM787.8 567.2L787.2 564.0L788.5 562.9L791.8 562.0L793.0 565.2L790.2 568.2ZM794.6 561.3L798.3 561.0L796.6 565.1L793.6 563.9ZM804.0 564.6L805.7 567.4L804.0 569.1L800.7 567.2L801.0 564.9ZM808.6 563.7L807.2 561.2L809.6 559.9L811.6 561.5L810.7 563.4ZM818.5 565.3L816.8 568.1L814.2 565.5L815.7 563.9ZM823.1 567.8L821.9 566.1L822.4 563.5L824.1 564.0L825.5 566.7ZM719.9 573.2L717.2 574.3L714.5 573.1L714.5 570.6L718.0 570.8ZM724.5 567.8L727.6 571.5L723.5 572.3L722.4 568.6ZM733.2 572.6L732.8 574.4L729.1 572.9L728.8 570.2L731.8 568.7L733.9 569.6ZM735.1 571.0L730.8 570.1L733.2 565.8L736.6 568.1ZM744.4 569.6L744.9 571.9L741.6 572.5L740.2 569.6L743.3 567.3ZM751.1 569.7L752.6 573.3L747.4 573.7L747.0 570.0ZM755.8 573.1L755.1 569.1L759.0 569.5L759.9 573.4ZM762.8 573.1L760.3 570.8L760.3 567.3L765.6 567.0L765.8 570.3ZM766.5 571.9L767.1 568.0L769.7 567.6L770.1 570.9ZM777.1 574.1L773.6 572.6L776.4 570.4ZM780.2 573.5L777.3 572.2L778.6 569.4L782.1 570.8ZM790.8 570.2L789.7 572.2L787.5 572.1L787.4 570.3L787.3 568.7L789.9 568.8ZM792.6 568.7L793.5 565.4L796.0 565.0L797.4 565.8L798.6 568.6L795.8 570.5ZM800.1 573.2L797.6 571.1L800.7 569.5ZM807.1 567.3L810.5 567.0L809.9 570.2L808.9 572.0L804.9 569.0ZM814.0 572.0L810.1 572.4L810.4 569.5L813.6 570.0ZM818.2 570.0L816.7 567.9L819.7 567.0L821.0 568.9ZM705.6 574.8L708.7 574.1L710.0 575.8L708.5 578.2L705.6 576.6ZM714.0 579.6L711.4 576.8L714.3 574.3L715.9 578.1ZM718.8 575.3L721.9 571.7L723.5 576.1L720.0 578.1ZM726.8 575.4L723.5 575.0L722.1 572.6L725.8 570.4L727.0 573.3ZM736.9 577.0L736.0 579.4L732.1 578.7L732.9 575.8L736.6 574.7ZM740.3 578.8L739.2 577.9L740.3 575.3L742.6 575.6L743.3 577.9ZM745.9 573.8L746.4 577.2L743.3 578.3L741.6 575.1L742.9 573.3ZM752.1 576.3L748.7 575.6L748.7 572.2L752.3 573.4ZM759.1 574.4L755.6 574.7L756.9 571.4ZM763.9 577.4L762.9 576.6L762.7 574.4L765.1 574.1L767.0 574.6L765.7 577.0ZM771.7 576.3L773.2 575.4L775.4 577.3L774.6 578.5L772.3 578.8ZM780.4 577.1L777.1 577.6L775.9 574.7L780.0 573.8ZM787.6 573.1L789.9 576.2L787.0 578.7L785.1 575.5ZM793.6 579.0L790.4 579.7L791.0 576.5L794.0 576.6ZM797.1 578.3L797.2 574.9L800.7 575.2L799.8 578.2ZM809.0 576.1L807.2 578.2L805.0 578.3L803.3 576.6L803.4 574.2L807.3 573.0ZM807.8 580.9L806.6 577.8L807.6 574.3L811.3 574.7L812.2 578.3ZM709.1 581.7L714.1 580.9L713.0 585.8ZM714.6 583.4L718.0 580.9L720.4 584.9ZM724.2 585.3L721.4 586.2L719.5 582.7L721.6 581.3ZM726.5 582.2L731.8 580.5L733.0 584.2L729.3 584.9ZM738.6 584.0L734.8 582.9L736.9 579.0ZM744.9 581.2L747.3 582.4L744.7 585.1L743.1 582.8ZM744.7 582.5L745.0 579.8L748.9 580.0L750.2 581.2L750.0 584.5L747.7 585.6ZM753.7 580.9L754.8 580.7L757.4 580.4L757.3 584.1L756.3 585.6L753.9 583.7ZM759.5 579.4L761.4 577.2L762.1 581.8ZM772.3 580.7L770.6 583.0L768.7 581.2L770.7 579.8ZM779.7 585.1L775.0 583.5L775.1 580.5L780.7 581.4ZM780.6 578.7L784.0 576.5L786.2 577.9L786.1 581.1L784.3 581.7L780.2 581.1ZM787.7 582.6L784.2 580.1L787.2 578.3ZM794.5 583.4L791.5 581.9L791.3 578.1L794.4 577.4L797.0 578.2L796.2 582.4ZM804.6 585.2L802.3 584.8L801.5 582.7L802.7 581.1L805.9 582.0L806.0 583.3ZM809.0 579.9L805.7 584.6L803.9 580.8ZM717.5 587.3L715.7 588.2L712.0 586.2L713.7 582.9L717.4 584.1ZM719.7 589.1L717.8 587.5L718.0 585.0L720.7 585.0L722.7 586.7ZM727.4 588.4L725.6 590.2L723.1 589.6L722.7 587.1L725.3 586.2ZM733.0 586.4L732.7 583.4L736.8 582.4L738.8 586.1L736.5 587.7ZM741.7 587.0L742.6 589.4L741.3 590.8L738.2 589.8L738.0 587.5L740.2 586.7ZM745.3 584.4L746.8 583.3L749.8 584.9L749.2 588.3L745.1 587.8ZM753.9 584.3L754.6 586.2L754.1 589.7L751.1 590.6L750.1 587.2ZM763.0 589.4L760.0 589.0L759.4 586.7L763.6 585.7ZM764.0 585.9L766.3 587.6L764.5 590.2L761.7 587.6ZM774.5 588.4L771.3 589.2L771.9 584.7ZM776.3 587.7L775.3 583.3L778.5 581.4L781.0 583.6L779.5 587.1ZM784.5 584.9L786.4 582.4L789.7 585.1L787.4 587.4ZM790.4 585.3L792.1 582.4L796.2 585.0L793.9 587.4ZM801.8 584.8L799.5 586.5L797.9 586.4L796.9 583.1L799.0 583.0ZM722.5 590.0L719.0 593.6L716.8 589.5L720.0 588.0ZM723.9 596.4L722.5 594.5L724.0 591.8L727.2 593.0L727.9 595.4ZM733.1 593.2L732.1 595.3L729.8 594.2L728.9 591.9L731.4 591.1ZM739.1 588.3L741.2 590.3L739.7 593.1L735.2 591.1ZM741.9 588.6L742.8 589.2L744.9 591.0L743.4 593.2L741.0 592.5L739.4 589.2ZM753.3 590.8L752.5 593.0L750.3 593.8L749.0 590.9L750.0 589.4L752.3 589.6ZM755.5 595.1L753.8 592.7L756.2 590.3L758.2 591.5L759.0 594.1L758.4 595.6ZM761.7 595.2L761.2 592.6L764.1 592.6L765.0 593.4L765.6 596.4L764.1 597.3ZM765.7 594.3L767.2 591.5L768.9 594.8ZM771.3 591.9L772.1 589.7L774.4 588.6L776.9 590.1L775.1 592.8ZM784.5 595.7L779.3 595.7L780.2 591.6L783.1 592.1ZM789.6 590.9L790.6 590.3L792.4 592.0L793.1 593.1L790.7 593.6L789.0 592.5ZM728.6 597.4L726.6 598.7L724.1 597.0L725.3 595.5L727.7 595.0ZM731.2 595.4L732.3 598.2L731.6 599.3L729.2 598.1L728.8 596.4ZM740.2 596.4L741.2 599.4L737.6 598.6ZM748.9 597.1L748.0 600.8L745.9 599.8L745.5 596.9ZM751.3 599.2L749.7 596.5L752.6 594.1L754.1 597.8ZM757.9 599.2L757.7 595.7L762.1 594.2L762.2 596.0L761.9 599.4L760.4 600.1ZM762.5 599.4L762.5 597.7L764.4 596.6L766.5 597.1L766.2 599.1L765.3 600.2ZM767.6 597.8L770.2 596.5L772.7 598.5L771.3 602.5L768.9 602.1ZM778.9 595.4L776.9 599.0L774.3 596.2ZM786.2 599.5L785.1 602.3L783.2 600.5L784.7 598.2ZM727.1 604.9L725.7 602.6L728.4 601.2L730.0 603.9ZM734.6 603.1L739.9 604.9L736.4 607.6ZM743.8 600.0L746.2 603.1L741.2 606.0L739.2 604.3ZM750.6 603.2L745.1 602.9L748.7 599.6ZM756.5 603.6L756.4 606.9L753.4 607.3L752.8 604.8L753.8 603.4ZM761.8 608.8L760.2 607.0L760.5 603.2L763.7 603.2L765.6 604.2L764.4 608.2ZM770.3 603.1L774.1 602.8L773.4 607.2L768.3 605.5ZM775.0 604.3L778.2 602.1L778.6 606.6ZM739.9 607.1L741.7 610.0L741.0 611.2L738.3 613.1L736.1 612.3L737.4 609.0ZM746.0 607.8L746.8 610.6L745.9 612.1L744.1 611.6L743.3 607.7ZM753.1 613.7L751.8 611.2L754.4 609.2L757.1 609.7L758.2 613.0L754.4 614.2ZM762.6 610.6L761.7 614.9L756.0 613.4L757.7 609.9ZM764.7 609.8L765.7 611.4L763.3 613.0L761.7 611.5L761.7 609.9L764.0 608.7ZM769.2 610.5L769.8 607.4L773.0 606.0L774.7 608.5L771.9 612.1ZM744.8 614.9L740.8 613.8L743.4 609.9ZM836.8 361.1L834.1 359.4L833.7 355.8L837.7 354.3L840.0 357.4L839.3 359.3ZM849.0 357.0L853.7 356.3L852.0 360.4ZM862.1 359.3L860.8 360.7L858.5 359.5L858.8 358.0L861.4 356.8ZM843.7 369.7L846.2 369.8L847.5 371.6L847.0 372.7L844.7 373.7L843.2 371.4ZM859.7 368.9L862.2 370.5L861.0 374.9L856.7 373.2L858.2 369.8ZM870.6 363.3L873.3 363.7L874.6 367.8L870.5 368.0ZM834.3 380.5L837.5 378.2L840.9 381.3L838.4 383.1ZM841.9 389.5L840.7 386.9L844.4 385.3L846.1 388.4ZM859.5 380.6L862.7 382.4L860.1 385.2ZM828.6 398.3L826.6 399.7L825.6 396.5L828.1 395.4ZM841.0 398.6L839.0 400.4L835.6 397.8L839.1 395.9ZM855.1 400.1L851.7 398.9L851.7 396.0L855.5 394.9ZM834.5 411.4L837.5 407.0L838.9 411.0ZM848.5 407.6L846.4 408.5L843.1 410.0L841.4 405.0L843.6 404.4L846.2 404.3ZM860.8 410.0L863.2 407.8L865.8 408.6L864.9 412.0L862.0 411.9ZM839.4 431.4L836.5 432.7L834.7 430.9L835.1 428.6L836.5 428.3L838.7 428.6ZM849.6 426.6L848.7 423.4L850.9 422.7L852.6 423.7L852.3 426.1ZM874.8 419.4L876.2 422.5L875.3 426.9L872.7 425.5L871.7 423.9L871.4 420.4ZM839.2 445.1L837.2 447.1L835.1 445.9L835.2 442.0L838.8 442.6ZM851.1 435.6L853.7 434.4L856.1 437.4L855.2 440.5L852.2 439.5ZM865.6 446.8L864.0 442.9L868.8 442.3ZM820.6 450.8L821.2 453.4L817.8 453.9L817.3 450.1ZM834.8 447.9L838.8 445.4L838.7 450.5ZM855.2 450.3L856.4 450.0L857.4 452.4L855.9 454.1L854.1 452.5ZM874.5 452.2L873.3 449.4L875.6 448.1L877.2 449.1L877.2 452.3ZM815.1 469.4L812.6 469.3L812.2 466.4L815.2 465.4L817.3 468.3ZM832.8 464.8L831.5 463.1L832.9 460.6L834.8 460.5L835.4 463.5ZM850.6 472.3L853.0 470.8L852.9 473.8ZM857.8 472.7L858.6 470.4L861.6 469.0L863.5 471.4L863.7 473.3L861.6 474.9ZM874.7 466.2L873.4 464.4L874.9 462.4L876.8 462.3L877.4 466.0ZM825.5 486.8L826.2 482.1L829.8 484.3ZM832.8 487.6L832.7 485.0L835.0 483.8L836.6 484.8L836.0 487.5ZM855.6 478.1L850.9 479.4L849.1 478.1L850.9 474.0L855.3 475.1ZM872.5 478.2L876.3 476.8L877.3 479.3L875.1 480.8ZM817.4 496.1L819.5 492.1L822.5 496.2L818.8 497.8ZM831.7 498.7L835.8 498.0L835.7 501.4L834.5 502.5L831.2 501.1ZM853.0 500.2L850.9 498.5L851.5 496.5L853.0 495.7L855.4 498.5ZM870.3 500.2L867.2 501.3L866.5 498.5L869.4 496.4L870.5 497.9ZM820.7 504.7L823.3 506.4L820.8 511.0L817.2 506.8ZM846.4 513.2L843.4 513.9L841.7 514.2L840.9 510.3L843.7 509.5L845.5 509.8ZM851.2 513.4L852.3 511.5L855.5 511.4L856.1 514.6L856.3 516.6L851.1 516.5ZM864.2 509.2L863.1 505.5L865.6 504.2L868.1 505.9L868.4 507.3L866.4 509.0ZM814.8 524.7L811.1 524.6L812.2 520.7L816.9 521.7ZM824.0 527.6L824.9 525.1L827.9 526.0L828.8 529.2L827.3 530.0L824.5 530.3ZM843.2 526.9L845.2 522.8L848.2 526.5ZM866.8 518.2L870.2 520.8L865.2 521.2ZM818.4 535.2L815.6 533.4L819.2 531.2ZM832.0 538.6L832.6 537.3L833.9 535.3L836.6 537.1L836.4 539.1L833.7 540.1ZM1026.5 351.9L1028.6 351.8L1029.6 353.2L1027.3 355.9L1025.5 355.4L1025.1 354.2ZM1037.6 347.9L1038.8 350.5L1037.7 353.5L1034.7 354.0L1032.8 351.4L1034.7 347.6ZM1037.0 368.2L1035.4 366.1L1037.9 363.9L1039.8 364.7L1039.8 366.9ZM1051.0 368.2L1052.0 366.5L1055.8 369.7L1054.4 372.0L1050.7 371.6ZM1026.0 384.1L1027.7 378.3L1031.9 382.4ZM1040.3 379.3L1041.9 377.4L1044.6 378.2L1045.5 381.0L1041.4 383.1L1039.9 381.8ZM1057.6 378.7L1056.8 380.4L1054.9 382.0L1053.8 380.9L1053.4 377.7L1055.7 377.9ZM1016.4 399.6L1014.4 397.9L1016.5 395.5L1018.5 396.2L1019.2 398.8ZM1030.9 389.0L1033.7 389.2L1034.5 393.2L1032.4 394.5L1029.4 392.8L1029.4 390.7ZM1045.0 397.4L1047.5 396.4L1048.6 396.4L1047.8 399.8L1046.7 400.3L1044.8 398.9ZM1065.5 399.0L1066.2 397.4L1067.9 397.3L1068.3 399.5L1066.5 400.8ZM1028.0 412.5L1024.9 411.1L1025.3 409.2L1026.9 408.0L1028.1 408.8L1029.2 411.5ZM1037.8 410.5L1035.3 412.0L1033.8 410.8L1034.0 408.0L1037.7 408.4ZM1055.0 406.3L1052.3 404.8L1055.0 401.1L1057.2 403.7ZM1066.7 406.3L1067.6 404.3L1069.4 405.5L1070.5 407.5L1069.0 410.1L1066.2 408.5ZM1019.5 425.2L1018.6 429.6L1015.0 427.1L1016.2 424.0ZM1033.0 426.0L1031.1 425.3L1030.9 423.0L1033.7 421.0L1035.2 422.8L1035.4 424.7ZM1046.8 421.7L1045.3 426.7L1041.7 424.0L1044.6 419.8ZM1068.8 420.7L1065.5 418.6L1066.4 416.3L1070.2 417.2ZM1008.5 435.9L1009.5 432.9L1013.3 434.6L1011.1 436.9ZM1020.9 430.9L1022.8 432.9L1021.0 435.3L1018.5 433.0ZM1043.0 435.1L1046.7 437.7L1042.8 439.7L1040.9 437.6ZM1058.2 440.6L1061.1 440.9L1061.1 442.8L1058.0 445.0L1057.1 442.8ZM1023.3 449.2L1021.6 454.0L1018.7 451.4L1020.3 449.2ZM1029.3 449.3L1026.7 448.1L1027.5 444.8L1030.9 446.3ZM1049.5 457.1L1045.9 457.7L1044.0 454.6L1048.3 452.5ZM1063.1 451.8L1060.5 453.2L1058.4 450.1L1061.4 448.2ZM1021.4 463.5L1018.5 464.7L1015.7 460.2L1019.2 457.8L1021.1 461.0ZM1041.5 466.5L1040.5 464.6L1041.1 462.8L1043.4 463.0L1044.7 463.3L1043.5 465.6ZM1051.7 466.9L1050.8 464.8L1052.5 462.7L1054.8 465.2L1053.6 467.3ZM1023.3 483.3L1019.7 486.8L1018.4 483.1L1019.9 480.2ZM1032.2 476.8L1030.8 476.9L1029.6 475.1L1029.8 472.2L1031.4 472.1L1033.0 474.0ZM1044.6 477.1L1049.2 477.6L1046.8 479.7ZM1062.7 476.1L1059.0 476.9L1059.6 473.2L1062.9 472.3ZM1010.5 492.5L1010.2 486.9L1014.7 489.1ZM1021.6 492.1L1023.4 492.7L1021.9 495.7L1019.4 495.3L1018.9 491.9ZM1047.4 491.1L1044.1 492.2L1042.9 488.9L1044.1 486.7L1047.3 485.8L1049.2 489.0ZM1057.6 494.3L1054.4 490.8L1055.9 489.9L1059.4 488.3L1060.5 490.9L1060.4 492.9ZM1070.1 485.9L1073.7 485.0L1074.0 488.2L1072.8 490.8L1070.1 489.6L1069.5 488.3ZM1013.2 502.3L1017.0 500.8L1019.0 502.8L1017.0 505.9L1014.0 505.8ZM1036.2 507.6L1035.6 511.0L1032.2 510.6L1030.9 507.6L1033.4 505.5ZM1051.1 504.7L1055.7 504.6L1055.7 509.1L1052.5 509.7L1050.3 507.3ZM1069.3 504.8L1064.5 506.3L1065.4 502.9ZM1041.8 317.8L1044.4 319.8L1042.4 322.1L1040.3 319.9ZM1051.8 334.1L1049.2 336.6L1047.4 333.8L1049.4 331.2ZM1044.4 341.6L1041.7 337.3L1045.3 335.9L1047.1 339.5ZM1048.9 338.9L1051.5 337.8L1052.6 337.5L1053.8 340.7L1051.7 341.6L1049.7 341.2ZM1048.0 341.7L1050.4 342.2L1050.8 343.8L1049.4 345.5L1046.6 344.7L1047.0 342.5ZM1052.8 342.7L1055.2 343.7L1055.8 346.2L1054.1 347.8L1051.5 346.1L1051.9 343.3ZM1055.7 349.9L1054.1 350.9L1052.3 352.3L1050.4 349.7L1051.5 347.2L1054.7 347.0ZM1057.6 347.1L1059.8 347.5L1059.9 348.9L1060.0 351.1L1057.0 351.4L1055.7 349.2ZM1055.7 355.7L1058.2 354.7L1059.6 356.4L1057.9 358.8L1054.1 358.2ZM1063.5 356.1L1060.4 357.6L1057.2 354.7L1060.8 353.2ZM1057.3 362.4L1053.5 361.1L1054.4 356.9L1057.4 357.2L1059.7 360.4ZM1068.4 361.2L1068.6 362.8L1066.3 364.2L1065.2 363.2L1065.7 361.6ZM1061.0 363.6L1062.4 362.3L1065.6 362.8L1065.7 364.8L1063.5 366.7L1061.0 366.0ZM1068.4 369.7L1064.4 366.9L1068.8 366.0ZM1066.4 374.0L1064.6 371.7L1066.4 369.3L1068.6 371.4ZM1073.0 371.7L1074.4 373.3L1073.1 375.5L1071.5 376.3L1069.4 375.2L1070.9 371.5ZM1069.5 379.3L1068.5 383.1L1065.5 382.8L1063.6 380.2L1067.2 376.8ZM1074.6 377.8L1073.8 381.8L1072.1 379.0ZM1069.8 382.8L1071.9 384.8L1071.0 386.9L1067.9 384.7ZM1076.4 378.9L1079.1 380.8L1077.5 384.1L1075.2 384.4L1072.7 381.6ZM1077.1 391.0L1075.6 392.5L1072.3 391.6L1071.1 389.7L1072.8 387.5L1077.0 387.9ZM1082.1 391.4L1080.8 388.1L1086.1 387.9L1085.1 391.8ZM1075.3 392.1L1078.1 391.8L1078.3 394.7L1075.6 395.1ZM1079.2 395.4L1084.0 395.3L1086.3 396.9L1082.9 399.5L1079.9 399.7ZM1078.6 406.1L1075.8 403.9L1076.7 400.2L1078.8 399.5L1081.7 400.0L1082.4 403.7ZM1085.9 397.1L1088.8 397.9L1087.9 400.5L1085.2 400.0L1084.1 398.9ZM1081.3 406.0L1078.1 408.8L1075.8 407.9L1076.9 403.6L1080.0 404.2ZM1085.1 410.6L1080.6 409.8L1081.4 407.3L1085.2 405.9ZM1092.1 409.8L1090.5 408.7L1090.9 406.8L1092.3 406.0L1093.8 407.8ZM1079.4 411.3L1075.5 412.5L1075.6 407.3ZM1080.5 411.6L1082.9 411.1L1084.2 413.4L1081.1 414.9L1079.3 413.9ZM1091.0 410.1L1088.2 412.2L1085.6 409.6L1088.5 407.3ZM1077.0 420.7L1074.4 421.3L1074.4 418.5L1076.6 417.9L1078.4 420.0ZM1084.8 416.0L1087.3 419.5L1085.0 420.7L1081.9 419.6L1081.2 417.7L1081.7 415.0ZM1089.7 419.0L1087.7 417.0L1089.3 415.2L1091.3 414.4L1092.5 416.6L1092.4 419.3ZM1083.8 422.0L1083.4 424.7L1079.6 424.4L1079.6 422.3L1082.5 420.4ZM1088.5 423.8L1086.2 425.9L1084.0 424.4L1082.3 423.3L1084.8 420.8L1087.2 421.9ZM1093.9 420.2L1097.6 419.5L1099.6 421.4L1097.4 424.6L1093.8 423.7ZM1086.1 428.0L1088.6 429.1L1087.9 430.7L1085.3 431.8L1084.3 430.6L1084.3 428.4ZM1091.8 430.9L1089.8 431.8L1087.5 431.3L1087.5 427.7L1090.1 427.8L1091.9 428.3ZM1097.8 430.4L1096.1 430.2L1094.2 429.3L1095.2 424.8L1097.3 425.2L1099.1 428.0ZM1081.7 432.0L1083.1 433.6L1081.1 435.2L1078.8 434.0L1078.0 433.0L1080.5 431.0ZM1082.6 434.2L1085.8 430.4L1088.4 434.1ZM1089.3 435.7L1091.2 432.1L1093.8 434.1L1093.5 436.2ZM1076.5 438.6L1080.1 438.7L1077.5 441.4ZM1081.5 442.7L1080.4 441.1L1081.8 438.1L1084.7 439.2L1084.7 441.4ZM1090.7 439.2L1093.3 438.0L1094.7 439.1L1094.2 441.8L1091.8 441.6ZM1096.5 439.3L1097.1 437.0L1102.6 438.2L1102.6 441.5L1100.2 442.6L1097.9 441.9ZM1084.4 444.9L1081.4 446.0L1078.5 444.3L1081.0 441.2ZM1087.3 443.9L1090.9 443.7L1089.8 447.2ZM1093.0 449.1L1090.9 445.7L1091.9 443.9L1095.4 443.7L1097.1 446.7ZM1101.5 446.7L1098.7 449.0L1097.5 447.0L1098.7 444.6ZM1082.0 451.1L1085.9 451.3L1087.0 453.8L1082.3 454.0ZM1093.6 453.2L1093.8 454.1L1091.3 455.3L1089.4 454.2L1089.8 452.6L1092.4 451.8ZM1098.7 449.6L1098.2 453.0L1095.7 452.8L1095.9 449.6ZM1102.3 454.4L1100.0 452.3L1101.1 450.1L1103.4 450.3L1104.5 453.1ZM1080.8 455.5L1082.8 457.2L1081.9 459.7L1079.2 460.4L1078.4 459.1L1078.7 456.3ZM1088.0 460.3L1085.7 460.4L1083.9 459.4L1084.6 456.8L1087.4 456.3L1088.8 458.2ZM1094.6 458.8L1094.9 456.1L1097.6 455.7L1097.8 459.7ZM1102.6 456.5L1101.7 461.1L1098.0 460.4L1098.6 456.6ZM1079.8 464.8L1077.6 461.1L1081.8 461.3ZM1082.8 457.9L1085.1 458.0L1087.9 459.9L1086.8 462.6L1083.4 463.2L1082.4 461.5ZM1093.1 462.9L1089.7 460.4L1091.1 457.9L1093.5 459.8ZM1098.0 462.5L1099.5 464.1L1099.1 465.6L1096.3 465.8L1095.7 464.2ZM1103.8 462.6L1102.6 464.2L1100.0 463.4L1100.7 460.7L1103.4 461.2ZM1077.4 469.7L1077.5 467.2L1080.1 466.5L1081.2 467.8L1080.3 470.5ZM1090.2 467.1L1091.8 469.7L1087.4 469.4ZM1094.5 466.5L1097.3 469.6L1093.7 473.6L1091.1 470.8L1090.1 468.7ZM1098.0 469.5L1101.0 467.1L1102.3 470.5ZM1082.0 475.5L1080.2 472.5L1081.7 469.3L1085.1 468.8L1085.9 471.3L1084.8 474.2ZM1092.2 475.0L1090.4 479.3L1087.6 476.4ZM1102.5 472.0L1100.4 475.5L1097.1 473.8L1099.8 470.1ZM1103.7 474.8L1102.2 470.7L1103.7 469.6L1106.2 468.8L1107.8 472.4L1105.2 474.5ZM1077.7 477.4L1078.2 475.9L1081.4 476.3L1081.6 478.2L1080.2 479.6L1077.8 478.6ZM1087.8 478.7L1085.4 482.4L1083.4 478.8L1085.1 476.4ZM1093.6 480.8L1090.9 478.8L1091.6 476.2L1095.3 477.8ZM1103.0 479.3L1103.3 483.2L1099.3 481.5ZM1102.4 482.6L1104.5 478.3L1106.7 479.5L1107.3 481.5L1107.1 483.6L1102.5 484.2ZM1085.6 488.1L1082.5 486.9L1083.0 484.6L1086.8 485.5ZM1092.7 487.7L1090.9 485.1L1094.2 482.1L1095.3 484.6ZM1094.0 481.1L1098.6 483.5L1094.9 486.8ZM1107.6 487.9L1105.8 488.5L1103.7 486.2L1104.3 483.1L1108.5 483.8ZM1106.1 486.1L1109.2 483.9L1110.6 485.9L1109.3 489.9L1106.2 488.4ZM1080.9 490.1L1084.0 491.5L1084.2 494.0L1081.3 494.4L1078.3 492.7ZM1089.1 491.9L1086.5 494.5L1083.0 492.6L1085.0 488.4L1087.5 488.1ZM1099.0 489.6L1096.1 491.7L1093.0 489.3L1096.0 487.6ZM1100.4 493.7L1095.7 492.2L1098.5 490.7ZM1103.3 489.5L1106.6 488.0L1107.1 491.4L1103.8 492.6ZM1112.8 489.6L1115.1 490.9L1116.4 492.3L1113.6 494.0L1112.2 492.3ZM1076.9 496.1L1079.2 493.7L1082.0 495.3L1080.5 498.4ZM1082.7 496.2L1086.1 496.5L1086.8 497.5L1086.2 500.1L1084.3 500.1L1082.9 498.3ZM1088.3 494.4L1089.9 493.8L1091.5 493.5L1090.9 496.3L1089.9 497.5L1088.0 496.6ZM1099.1 495.7L1097.1 498.4L1095.2 493.9ZM1103.3 499.9L1103.5 498.0L1104.9 497.1L1107.1 498.2L1106.1 500.4L1105.2 501.2ZM1107.7 494.0L1111.2 492.8L1113.1 496.6L1109.1 497.8ZM1076.5 503.4L1079.9 500.5L1082.5 502.8L1080.0 505.4ZM1087.3 505.0L1087.5 502.0L1088.6 500.6L1091.1 502.9L1089.3 505.4ZM1093.8 498.2L1097.0 498.8L1097.4 501.5L1095.5 502.1L1092.9 499.9ZM1102.1 498.9L1104.2 501.7L1102.7 502.9L1100.5 500.7ZM1108.1 505.9L1104.9 506.0L1103.3 503.5L1107.0 501.7L1108.0 503.8ZM1111.8 503.9L1110.5 501.4L1115.4 500.0L1115.6 503.7ZM1078.0 505.4L1078.8 510.5L1074.4 508.3ZM1088.4 509.3L1085.4 510.3L1085.2 507.8L1087.3 507.3ZM1094.7 510.5L1091.1 510.7L1090.1 506.7L1093.2 504.1L1096.1 507.5ZM1096.1 506.1L1097.9 505.3L1099.1 508.3L1097.4 509.6L1095.4 509.0ZM1099.4 509.0L1100.0 506.3L1103.5 505.5L1104.6 508.7L1101.7 510.7ZM1111.6 508.0L1108.0 509.2L1107.8 506.2ZM1119.9 504.4L1119.4 509.1L1115.0 507.2ZM1081.1 508.8L1082.7 512.1L1081.1 514.1L1078.1 513.2L1077.7 509.9ZM1089.1 510.0L1087.1 513.7L1084.1 511.5L1086.3 508.5ZM1115.1 513.9L1112.9 512.9L1111.5 509.8L1113.6 509.3L1116.6 510.6L1117.1 513.2ZM1028.5 315.0L1026.0 312.6L1028.0 310.7L1030.9 310.8L1030.9 313.8ZM1032.4 311.0L1037.3 311.2L1036.8 315.5L1032.8 314.2ZM1043.7 314.6L1040.2 313.7L1040.0 311.5L1042.1 311.0L1043.8 312.9ZM1029.4 316.2L1027.1 319.3L1024.2 318.3L1026.5 313.5ZM1037.4 316.4L1032.0 318.7L1030.9 315.1L1036.0 313.5ZM1042.1 313.0L1044.2 314.1L1044.3 317.3L1041.1 318.7L1039.1 316.9L1038.9 314.7ZM1043.3 317.8L1045.3 315.6L1047.9 320.1L1043.9 321.4ZM1024.4 327.5L1022.2 325.9L1020.7 323.9L1022.5 322.0L1024.1 323.0L1025.7 325.7ZM1030.2 323.7L1029.2 326.6L1026.1 323.3ZM1035.3 323.8L1033.5 321.0L1035.6 319.3L1037.9 319.1L1039.1 322.4L1036.8 324.3ZM1048.2 321.8L1045.1 325.5L1041.8 321.8L1044.2 319.6ZM1049.6 321.3L1051.1 325.3L1047.1 324.9L1045.6 321.4ZM1027.3 326.8L1027.9 329.4L1026.0 329.6L1024.3 329.3L1023.6 327.0L1025.5 326.2ZM1034.3 327.0L1032.5 330.1L1030.5 328.5L1029.6 326.4L1032.7 324.9ZM1039.4 331.5L1041.0 327.8L1044.6 331.5ZM1048.6 329.5L1047.2 328.5L1047.1 325.5L1048.6 325.0L1051.2 326.4ZM1029.8 334.2L1033.3 336.3L1028.5 338.3ZM1033.2 332.3L1036.2 334.0L1036.8 336.0L1032.9 338.4L1032.2 336.0ZM1043.3 336.6L1039.7 334.1L1040.3 330.2L1043.5 330.0L1045.9 331.0L1046.4 334.1ZM1047.9 336.2L1047.0 334.3L1050.6 333.1L1051.6 335.2L1051.2 337.2ZM1030.4 338.7L1028.7 343.5L1025.8 339.6ZM1029.8 339.2L1029.5 337.0L1032.0 335.9L1033.0 336.7L1033.0 338.3L1031.7 339.6ZM1039.7 337.4L1042.2 337.5L1042.8 338.6L1041.9 341.1L1040.2 341.1L1038.9 339.8ZM1115.8 422.1L1116.8 426.6L1113.5 426.1L1110.7 423.2L1113.8 421.6ZM1119.2 439.0L1115.5 440.6L1114.3 438.6L1115.4 435.7L1118.9 435.4ZM1117.9 444.8L1118.4 441.9L1122.4 441.9L1121.5 444.9ZM1131.4 456.5L1130.7 453.3L1132.8 452.3L1134.4 453.3L1134.2 456.8ZM1122.1 467.2L1122.2 470.6L1120.7 472.1L1116.9 468.4L1118.0 465.8ZM1130.4 467.7L1135.1 466.5L1136.5 469.6L1136.3 472.2L1132.4 472.0L1130.4 471.2ZM1131.3 478.8L1128.4 477.1L1130.2 474.5L1133.0 473.8L1135.6 475.1L1135.0 478.7ZM1140.2 487.2L1136.8 485.6L1137.5 481.1L1142.3 483.8ZM1129.1 494.8L1126.3 494.4L1126.0 491.4L1127.8 490.0L1130.2 492.4ZM1142.9 488.1L1142.3 489.8L1140.2 490.8L1137.5 489.2L1136.9 487.5L1139.3 485.4ZM1148.0 491.3L1150.6 493.4L1148.7 495.3L1145.2 495.4L1146.2 492.1ZM1126.8 497.9L1130.9 496.8L1130.1 502.1ZM1148.2 506.7L1147.5 507.3L1144.6 505.4L1144.9 503.7L1148.4 502.3L1149.6 504.4ZM1152.8 500.7L1150.8 499.2L1150.5 497.6L1152.8 496.1L1154.5 498.2ZM1140.0 515.1L1137.5 510.9L1141.6 510.0L1142.4 513.6ZM1147.6 518.9L1144.2 520.3L1142.9 518.6L1143.9 514.8L1145.7 515.3L1147.4 516.6ZM1129.4 520.0L1132.6 521.0L1130.9 523.5ZM1141.4 525.8L1141.4 527.6L1139.6 529.3L1137.0 526.9L1137.2 525.3L1140.5 524.1ZM1136.5 533.9L1139.4 535.9L1138.9 539.3L1135.5 538.0L1133.9 536.2ZM1143.5 533.9L1145.5 532.4L1148.0 532.4L1149.1 535.9L1145.6 536.8L1143.5 537.1ZM1142.6 547.2L1143.3 544.8L1145.4 545.0L1147.2 545.9L1146.7 548.8L1142.8 549.7ZM1004.8 532.1L1007.1 532.2L1006.5 536.0L1004.8 535.4L1003.6 533.9ZM1016.9 534.0L1013.4 532.9L1016.6 531.1ZM1026.9 532.3L1030.2 535.6L1026.4 537.5L1023.1 534.8ZM1037.4 538.6L1034.1 538.6L1035.0 535.1L1037.4 535.2L1038.7 537.4ZM1044.3 534.1L1042.8 531.9L1045.3 531.0L1047.7 531.9ZM1049.8 535.9L1052.4 534.1L1054.2 535.4L1052.3 537.5ZM1017.6 548.9L1013.8 549.0L1012.3 545.5L1016.1 544.9ZM1018.1 544.6L1020.3 542.7L1022.1 544.9L1019.9 546.6ZM1034.9 538.4L1035.4 542.5L1033.5 545.1L1030.3 543.7L1030.3 541.4L1030.5 538.0ZM1035.8 548.7L1035.1 545.5L1039.0 544.6L1040.1 546.5L1039.4 549.3L1038.0 548.9ZM1048.1 544.0L1045.1 543.6L1044.0 540.1L1048.2 540.5ZM1012.9 549.5L1016.1 546.9L1016.8 552.2ZM1021.5 549.1L1023.0 547.9L1025.6 548.0L1026.1 551.1L1025.3 552.1L1022.1 551.2ZM1035.6 551.3L1038.0 551.1L1040.9 553.2L1037.5 555.5ZM1041.8 546.5L1046.1 546.4L1047.0 549.6L1042.1 550.7ZM1053.0 552.8L1051.1 554.2L1048.5 552.7L1049.5 550.7L1050.9 549.7L1052.2 551.4ZM1026.2 558.9L1028.8 554.0L1032.1 558.9ZM1039.1 560.2L1036.3 558.7L1037.5 557.0L1038.7 555.9L1040.9 557.8L1040.2 559.4ZM1047.8 555.8L1050.4 558.0L1046.7 560.1L1045.2 557.2ZM1036.3 564.2L1035.2 565.7L1033.1 566.9L1031.6 565.8L1030.9 563.7L1033.6 562.4ZM1069.2 534.0L1066.9 533.7L1066.6 531.3L1068.7 530.2L1071.0 531.4L1070.0 533.4ZM1076.3 533.9L1073.8 531.3L1075.0 529.2L1076.4 527.5L1079.7 530.3L1078.1 533.3ZM1080.1 534.9L1081.3 531.9L1082.6 533.4L1083.8 534.9L1081.0 536.7ZM1090.0 530.4L1092.2 533.0L1091.5 534.7L1089.7 536.7L1086.8 533.0L1087.7 530.5ZM1094.9 536.1L1092.7 533.9L1094.9 530.6L1097.9 531.7ZM1102.7 536.2L1100.1 536.0L1100.4 533.9L1101.3 532.9L1103.3 533.3L1103.8 535.8ZM1113.1 537.1L1110.0 538.0L1107.4 534.4L1109.4 532.7L1111.6 532.2L1113.6 533.5ZM1117.2 532.4L1116.2 534.8L1113.8 536.1L1111.1 533.0L1113.2 530.4ZM1116.4 529.7L1119.2 528.3L1122.5 529.5L1121.3 532.6L1119.6 534.5L1117.2 532.8ZM1066.6 539.0L1064.7 536.9L1066.3 535.3L1068.9 536.5L1069.3 539.1ZM1071.6 534.7L1072.7 537.7L1070.5 539.7L1068.6 538.5L1069.5 535.6ZM1078.2 536.4L1079.6 534.2L1083.1 536.6L1082.8 538.1L1081.7 540.3L1078.7 539.8ZM1086.4 535.6L1090.0 535.9L1089.4 539.7L1085.8 538.6ZM1096.1 534.0L1093.6 538.5L1091.1 534.5ZM1096.1 538.0L1098.6 537.3L1100.4 539.0L1099.0 541.3L1096.0 540.3ZM1103.7 540.2L1100.5 538.0L1103.2 535.0L1105.8 537.1ZM1107.9 542.2L1107.3 539.4L1110.2 536.9L1112.2 539.7ZM1119.0 540.6L1116.1 539.7L1115.9 537.1L1118.4 535.6L1119.9 538.3ZM1124.2 538.9L1119.9 538.5L1119.6 534.9L1122.8 533.0L1125.9 534.7ZM1063.9 541.4L1067.8 540.5L1069.8 542.1L1066.0 543.8ZM1074.8 547.8L1071.3 544.4L1073.6 542.2L1076.7 544.5ZM1085.6 546.1L1080.3 545.9L1080.2 542.8L1084.1 541.0ZM1089.7 546.4L1085.4 544.7L1085.3 541.2L1087.7 540.7L1089.6 541.2L1089.8 544.7ZM1098.3 543.9L1097.6 546.5L1094.5 546.9L1093.3 542.9L1095.6 541.1ZM1101.7 545.0L1098.5 545.6L1097.3 542.5L1098.7 540.3L1102.2 541.4ZM1109.6 542.4L1110.6 545.1L1109.6 547.4L1107.3 546.2L1106.6 542.9ZM1119.0 545.4L1117.6 547.3L1116.2 547.5L1114.6 546.7L1114.7 544.0L1116.9 544.1ZM1118.1 541.7L1122.0 542.6L1120.6 545.5L1116.9 544.9ZM1125.8 540.3L1130.6 540.2L1127.9 543.8ZM1061.1 548.7L1063.8 549.8L1062.6 553.5L1059.4 551.6ZM1071.5 549.6L1069.2 553.1L1066.9 552.2L1065.4 551.5L1065.9 548.9L1068.4 547.7ZM1075.7 551.4L1071.6 550.8L1074.4 546.9ZM1079.8 546.7L1082.5 548.6L1081.9 550.9L1080.2 551.3L1079.2 548.9ZM1082.9 548.9L1086.8 547.6L1086.9 551.9L1084.5 552.5ZM1094.2 551.3L1091.0 550.5L1089.7 548.3L1092.1 546.7L1093.9 547.5L1095.6 550.2ZM1098.5 550.4L1098.9 547.7L1102.0 546.1L1102.7 550.6ZM1107.4 546.7L1109.5 549.4L1106.8 552.4L1104.4 548.2ZM1116.1 548.8L1112.9 549.2L1111.8 547.2L1114.2 544.9ZM1118.1 550.9L1120.0 549.0L1121.7 551.1L1120.9 553.4L1119.8 554.6L1117.2 553.1ZM1123.9 550.8L1127.2 547.9L1130.0 550.8L1128.2 552.6L1124.5 553.7ZM1128.3 550.7L1127.5 549.0L1128.5 547.3L1130.2 547.5L1131.6 548.1L1131.1 550.5ZM1060.3 557.4L1059.7 555.1L1061.3 554.1L1063.0 554.8L1063.6 557.0L1063.0 558.3ZM1065.3 554.9L1065.6 551.3L1068.9 551.6L1071.0 552.2L1069.3 555.3L1066.8 555.5ZM1073.8 554.5L1074.5 552.8L1078.2 554.1L1077.5 556.5L1075.4 556.8ZM1085.8 555.5L1082.5 554.7L1081.8 553.3L1083.4 551.3L1085.8 550.5L1086.9 552.7ZM1086.7 551.5L1089.9 552.0L1089.8 556.1L1086.5 555.4ZM1095.8 554.0L1096.8 559.5L1093.1 559.8L1092.2 554.1ZM1099.3 553.5L1098.8 551.3L1102.2 551.9L1102.3 554.2ZM1106.2 550.1L1108.6 552.9L1106.3 555.6L1103.6 552.3ZM1114.1 557.5L1115.6 554.0L1117.9 556.9ZM1122.8 554.3L1117.9 554.5L1119.3 550.8ZM1129.3 558.9L1128.5 559.7L1125.3 559.1L1125.2 556.9L1127.8 555.5L1129.0 556.2ZM1054.2 559.6L1054.3 562.5L1050.9 563.0L1049.1 560.3L1051.7 559.1ZM1057.6 561.3L1061.2 558.7L1061.7 562.7ZM1067.6 559.8L1063.9 561.8L1063.7 556.6ZM1072.7 560.7L1069.3 561.1L1068.6 557.8L1072.6 555.3L1074.9 557.8L1075.4 560.1ZM1078.6 558.0L1081.4 557.6L1082.6 560.0L1081.4 563.1L1077.8 563.0ZM1088.4 564.8L1085.1 563.9L1085.2 560.8L1089.0 561.8ZM1093.2 561.3L1090.6 563.8L1089.0 562.0L1089.4 558.3L1091.9 558.2L1093.3 559.8ZM1097.8 561.5L1097.1 559.3L1099.1 556.7L1101.5 558.3L1101.5 561.6ZM1105.7 559.9L1105.9 562.6L1103.3 563.6L1102.0 562.0L1102.5 559.0ZM1108.3 559.9L1110.7 556.1L1113.3 556.2L1114.7 558.3L1112.7 560.8L1109.9 561.5ZM1121.8 562.1L1120.5 563.6L1118.0 562.9L1118.9 559.6L1120.8 558.3L1121.9 559.9ZM1124.0 560.4L1123.9 556.2L1127.1 558.1ZM1128.2 562.4L1130.2 559.3L1132.3 561.3L1130.1 564.2ZM1141.3 560.6L1139.8 560.8L1137.6 560.3L1137.9 557.1L1140.3 556.9L1142.0 558.4ZM1143.9 564.8L1141.2 565.0L1140.1 563.1L1140.8 560.9L1143.6 561.1ZM1150.9 562.4L1148.5 562.1L1147.1 558.5L1150.4 558.2ZM1050.0 567.8L1049.0 570.7L1046.4 570.8L1044.8 568.2L1045.6 566.8L1048.8 567.2ZM1054.6 566.6L1055.9 564.1L1058.2 563.7L1057.9 566.1L1055.8 567.9ZM1061.5 563.0L1063.2 560.9L1066.8 561.5L1068.4 564.7L1066.4 568.0L1062.4 566.2ZM1069.3 568.2L1068.0 570.5L1066.2 568.7L1066.7 566.3L1069.0 565.8ZM1076.6 571.0L1076.1 567.6L1077.1 566.3L1079.4 567.7L1079.2 569.9ZM1083.9 561.5L1087.0 565.1L1082.5 567.2L1079.9 565.4ZM1092.0 568.0L1088.9 569.5L1087.2 566.3L1090.8 565.0ZM1093.0 566.0L1097.6 564.0L1099.1 567.5L1095.7 570.0ZM1102.2 571.1L1100.8 567.2L1103.5 566.6L1104.6 571.0ZM1107.2 566.8L1111.4 567.8L1110.7 570.3L1107.3 570.7ZM1117.8 565.2L1115.1 566.8L1112.9 566.1L1114.7 562.1L1117.4 563.4ZM1122.6 562.8L1123.8 567.5L1118.4 567.5ZM1124.9 567.0L1125.9 564.1L1129.7 563.0L1129.1 567.2ZM1137.0 565.9L1135.4 565.8L1134.4 564.3L1135.3 562.3L1136.4 562.5L1137.7 563.4ZM1141.6 571.3L1140.0 570.0L1139.8 567.9L1141.9 565.1L1144.0 566.0L1144.2 570.0ZM1144.1 568.5L1143.6 566.0L1144.8 564.2L1147.1 565.4L1147.3 566.9L1146.0 568.9ZM1155.6 562.6L1155.9 566.0L1153.6 567.6L1150.3 563.1ZM1050.2 571.0L1047.5 572.1L1046.4 571.8L1044.9 569.0L1046.8 566.5L1049.3 567.6ZM1051.7 573.3L1052.1 572.2L1054.2 572.7L1055.9 573.8L1054.2 575.7L1052.4 576.4ZM1061.4 573.2L1059.5 572.0L1059.8 568.9L1062.0 569.3L1062.9 571.7ZM1065.5 566.4L1068.1 567.2L1068.9 569.9L1066.4 573.8L1064.0 572.4L1062.8 569.2ZM1070.9 572.2L1072.8 571.5L1076.1 573.0L1074.5 575.5L1071.7 575.7L1070.9 573.7ZM1076.2 575.3L1076.9 572.2L1079.5 571.7L1081.8 574.6L1079.2 577.1ZM1083.0 570.1L1087.6 568.3L1089.4 571.6L1086.0 573.9L1083.6 572.0ZM1093.1 568.3L1091.8 573.6L1089.0 569.0ZM1097.2 572.7L1098.0 567.5L1100.7 569.1L1100.8 572.7ZM1105.0 572.5L1103.3 575.1L1101.4 573.5L1101.2 572.0L1103.3 570.8ZM1114.3 576.5L1110.7 576.9L1109.2 574.2L1111.9 571.4L1114.9 572.8ZM1115.3 569.8L1117.1 567.8L1119.5 569.2L1120.6 570.7L1118.9 572.8L1116.2 572.4ZM1122.2 570.3L1125.3 571.4L1124.7 576.6L1121.6 575.7ZM1126.7 572.2L1129.3 568.1L1131.6 570.2L1128.7 573.9ZM1135.8 571.2L1137.1 568.2L1139.5 569.5L1137.5 572.8ZM1143.9 569.2L1145.4 572.1L1142.9 574.6L1140.1 571.5ZM1150.6 570.9L1153.2 573.7L1150.0 576.1L1148.2 572.8ZM1157.2 577.0L1154.3 574.3L1156.4 572.3L1157.9 573.5ZM1166.7 570.4L1164.9 574.4L1163.3 574.5L1160.3 571.5L1163.8 569.8ZM1165.4 571.0L1167.5 568.7L1170.8 571.4L1170.8 573.5L1167.6 574.4L1165.4 574.0ZM1176.2 573.8L1177.8 571.4L1180.2 573.0L1180.6 575.0L1178.5 576.9L1177.0 576.7ZM1042.7 578.3L1042.7 574.7L1044.8 576.0ZM1051.9 576.4L1052.0 581.6L1047.4 581.1L1048.0 576.0ZM1055.2 578.3L1053.3 578.6L1052.7 575.7L1055.9 576.1ZM1061.6 577.3L1064.6 577.5L1066.5 578.8L1064.8 581.9L1061.8 583.2L1061.1 580.8ZM1069.1 578.6L1065.9 575.3L1070.0 573.9ZM1076.6 573.7L1080.2 578.0L1077.7 580.6L1074.4 577.3ZM1082.4 576.2L1082.3 578.7L1081.9 580.4L1077.9 578.3L1078.1 576.6L1079.5 574.0ZM1088.1 573.3L1090.6 575.7L1090.4 577.7L1087.3 580.3L1086.0 578.4L1084.8 576.1ZM1097.0 578.2L1095.9 581.4L1092.6 580.4L1092.8 576.3L1097.0 575.8ZM1101.5 580.2L1104.6 577.5L1105.8 581.3ZM1105.3 581.1L1103.5 577.5L1104.7 576.1L1107.9 577.6L1108.0 578.6L1107.4 580.9ZM1117.9 578.2L1113.6 578.6L1115.2 574.9L1118.6 575.2ZM1121.5 578.9L1120.5 576.6L1123.3 575.6L1124.8 576.8L1123.2 579.8ZM1126.1 579.6L1123.6 578.1L1125.4 575.5L1128.5 576.7L1129.3 579.1ZM1131.5 577.5L1133.7 574.7L1135.9 576.6L1135.8 577.6L1135.0 579.3L1132.7 579.4ZM1144.0 577.5L1142.0 577.5L1140.5 576.2L1141.9 574.2L1144.9 574.9ZM1147.8 575.0L1148.2 578.0L1145.7 578.3L1144.6 576.5L1144.6 574.9L1146.8 574.4ZM1155.3 580.6L1151.6 581.4L1150.5 579.1L1152.1 576.2L1154.7 578.4ZM1160.5 576.1L1161.5 579.3L1159.7 581.0L1157.6 579.3L1158.7 576.7ZM1169.8 577.5L1167.7 581.4L1165.9 582.2L1164.3 577.1L1167.7 575.9ZM1175.2 572.9L1181.1 574.7L1176.8 577.7ZM1052.1 582.0L1052.1 584.7L1050.2 585.6L1048.6 581.4ZM1062.7 581.2L1059.7 583.0L1058.4 581.2L1060.7 578.6ZM1069.1 584.5L1067.6 586.8L1065.8 587.7L1064.7 583.6L1067.3 582.7ZM1073.3 585.7L1071.1 587.6L1068.0 586.8L1069.0 583.5L1071.4 583.1ZM1080.5 581.4L1078.2 584.3L1076.9 584.7L1075.0 582.1L1076.3 578.8L1079.2 580.4ZM1084.3 583.8L1082.2 580.6L1083.9 578.9L1086.7 579.9L1087.3 584.0ZM1088.7 581.8L1088.2 580.0L1090.3 577.8L1092.9 579.5L1093.8 581.8L1091.2 584.3ZM1095.1 584.0L1096.2 583.1L1097.5 583.0L1098.3 585.2L1097.4 586.4L1095.8 585.9ZM1101.4 581.8L1105.4 580.3L1107.0 581.5L1107.7 584.9L1104.6 585.4L1102.8 585.7ZM1112.4 583.9L1112.4 585.8L1110.5 586.9L1108.8 585.2L1109.0 583.5L1110.9 582.5ZM1117.0 584.0L1117.4 580.9L1119.0 580.3L1120.7 582.5L1120.0 584.1ZM1125.0 581.3L1122.2 585.4L1120.8 581.7ZM1131.2 579.3L1131.7 581.1L1130.7 582.8L1127.9 582.9L1127.3 579.9L1129.5 578.6ZM1137.4 584.4L1133.6 586.7L1132.9 583.0L1135.8 582.4ZM1141.1 583.6L1140.9 580.3L1144.4 582.0ZM1147.8 582.8L1145.8 582.2L1147.3 579.1L1150.3 577.3L1152.3 581.9L1151.1 583.5ZM1157.8 586.1L1155.3 583.2L1156.8 579.7L1158.8 580.6L1160.0 583.8ZM1165.2 581.1L1167.7 582.5L1167.0 584.0L1163.9 584.5L1163.7 582.3ZM1058.7 587.9L1056.1 589.5L1054.0 587.8L1055.4 585.0ZM1060.8 589.9L1061.1 586.9L1065.0 588.3L1063.9 591.8ZM1068.8 584.8L1071.6 585.2L1071.1 589.4L1067.8 588.7ZM1073.4 592.3L1071.2 589.4L1072.8 586.4L1075.5 588.1L1075.0 590.6ZM1079.5 588.6L1083.9 585.9L1085.5 588.2L1083.7 592.4L1080.1 591.9ZM1090.1 594.2L1087.1 592.4L1086.3 591.1L1089.0 588.3L1091.0 589.3L1092.7 591.2ZM1094.6 585.2L1097.1 585.9L1097.8 590.6L1096.1 591.0L1092.7 590.0L1092.9 586.5ZM1105.3 585.8L1103.5 590.4L1100.4 588.5L1100.9 585.6ZM1104.0 586.2L1104.6 584.4L1108.6 584.8L1107.8 588.2L1106.5 589.8ZM1110.1 590.2L1115.2 588.6L1114.9 592.8ZM1118.5 590.6L1119.8 586.8L1122.6 587.4L1121.4 591.7ZM1128.8 590.6L1125.1 591.3L1124.9 587.1L1127.8 586.3L1130.0 588.6ZM1133.9 585.7L1137.2 587.9L1136.4 589.7L1133.2 591.8L1131.2 588.2ZM1138.5 587.5L1140.9 588.0L1141.6 589.4L1140.7 591.8L1139.1 592.2L1137.1 590.1ZM1148.1 586.8L1151.0 587.1L1150.6 590.3L1149.0 590.8L1146.0 589.4ZM1150.9 588.4L1148.6 587.0L1150.7 584.3L1152.9 586.1L1152.7 587.9ZM1163.8 591.6L1160.0 589.8L1160.9 585.7L1165.0 587.2ZM1063.2 594.0L1060.5 594.3L1058.6 593.2L1060.4 590.4L1064.4 591.6ZM1065.9 593.9L1069.9 597.5L1065.7 600.4L1063.9 596.0ZM1072.8 599.4L1070.8 596.9L1072.9 592.8L1075.9 595.5ZM1077.1 594.1L1080.1 593.6L1080.2 596.2L1079.1 599.0L1076.5 598.3L1074.2 595.7ZM1086.7 593.3L1088.0 598.1L1084.5 597.2ZM1089.8 595.3L1089.1 590.5L1093.7 592.5ZM1095.1 595.4L1097.6 592.6L1102.0 594.3L1102.0 597.8L1098.7 598.6ZM1107.3 592.2L1107.3 595.3L1104.5 594.1L1102.9 592.2L1105.9 591.0ZM1109.9 594.2L1111.2 592.5L1114.3 592.0L1115.8 594.5L1114.2 596.1L1112.4 596.1ZM1117.4 592.0L1121.2 592.5L1120.4 595.5L1117.8 594.5ZM1118.9 594.1L1123.8 591.4L1125.5 594.2L1123.8 597.5L1119.7 597.0ZM1135.0 592.5L1134.9 597.3L1129.3 594.4ZM1135.8 595.8L1134.7 594.8L1133.8 592.9L1136.6 591.7L1138.2 593.4L1139.0 595.1ZM1140.8 597.8L1140.1 595.8L1142.7 593.8L1144.0 596.2L1145.0 597.4L1141.7 598.3ZM1147.6 593.4L1151.6 593.9L1152.3 596.3L1150.1 597.6L1147.6 598.0ZM1066.7 598.0L1066.3 600.8L1062.6 600.8L1061.4 599.0L1062.9 595.8ZM1064.3 600.2L1065.8 595.7L1069.3 597.6L1067.7 601.3ZM1074.8 601.4L1073.9 598.5L1075.7 596.2L1078.2 597.3L1079.3 600.1L1077.0 601.0ZM1079.7 604.5L1078.9 602.9L1082.3 600.4L1083.7 601.5L1084.4 603.9ZM1092.5 599.4L1091.7 602.0L1088.9 602.8L1086.8 599.7L1089.5 597.6L1091.1 597.5ZM1095.5 595.6L1098.6 596.9L1097.7 599.9L1095.8 601.2L1092.3 599.8L1092.4 597.2ZM1102.5 603.4L1098.8 603.7L1098.5 600.9L1099.5 599.1L1101.6 599.7L1102.7 602.1ZM1103.1 598.2L1107.1 597.1L1108.0 599.1L1108.2 602.3L1104.4 600.9ZM1110.1 600.8L1109.7 597.5L1115.1 597.5L1114.7 600.9ZM1118.3 599.4L1122.7 598.8L1122.6 602.7L1119.6 602.9ZM1125.9 601.8L1126.3 600.4L1129.3 599.5L1129.6 600.8L1130.2 603.0L1127.8 604.8ZM1134.6 601.4L1129.7 599.9L1133.1 596.3ZM1142.2 604.2L1137.4 600.8L1143.5 599.5ZM1144.5 598.4L1149.5 600.3L1146.7 603.8L1143.3 601.9ZM1068.5 604.7L1071.8 603.5L1073.7 604.3L1072.2 607.4L1069.8 607.7ZM1075.3 605.7L1076.6 603.2L1079.9 602.4L1081.4 604.9L1080.5 606.3L1077.3 607.2ZM1082.8 607.6L1087.5 604.7L1087.3 609.9ZM1094.4 608.1L1092.5 610.1L1090.1 607.9L1090.0 606.1L1092.9 604.6ZM1102.0 607.8L1098.4 611.4L1097.9 606.2ZM1101.0 606.3L1104.2 603.4L1106.8 605.3L1105.1 608.9ZM1113.1 600.7L1114.1 602.0L1114.4 605.0L1111.9 606.0L1110.9 605.3L1110.9 602.1ZM1117.5 608.8L1115.8 604.4L1117.6 602.8L1120.7 604.4L1120.5 608.3ZM1126.8 605.4L1122.6 605.6L1122.3 601.5L1126.2 602.0ZM1127.3 607.5L1129.5 605.3L1132.9 605.6L1130.9 610.0ZM1134.7 609.5L1134.0 608.2L1135.8 606.5L1138.7 607.7L1137.3 610.3ZM1072.3 611.7L1071.6 608.0L1074.1 606.5L1077.0 607.8L1077.5 610.0L1075.2 612.2ZM1082.2 610.1L1084.7 609.7L1085.4 612.0L1084.4 613.3L1082.3 613.4ZM1086.8 612.1L1088.0 609.7L1090.3 609.4L1090.3 611.9L1088.0 613.0ZM1096.5 614.7L1094.1 613.9L1093.3 611.6L1094.4 610.2L1096.9 610.4L1098.3 611.3ZM1100.7 613.1L1099.9 612.3L1100.1 610.6L1101.6 609.1L1102.8 610.6L1103.0 612.5ZM1105.3 614.3L1105.9 611.7L1109.6 609.8L1111.6 611.5L1111.7 614.5L1107.4 617.0ZM1119.7 607.8L1119.1 612.0L1115.7 613.5L1113.8 610.2L1115.4 608.4ZM1122.1 611.2L1122.6 615.9L1118.8 615.0L1119.3 611.6ZM1129.4 611.8L1129.5 613.8L1128.6 615.1L1126.0 614.0L1126.3 612.2L1127.5 611.1ZM1135.3 613.8L1131.6 612.3L1130.6 610.7L1133.0 608.7L1136.2 609.3L1136.0 612.4ZM1081.2 615.6L1078.8 617.7L1076.6 615.4L1076.6 613.1L1080.0 613.2ZM1088.6 617.0L1086.9 620.2L1084.3 619.8L1082.6 617.1L1085.5 615.0ZM1089.6 611.8L1092.6 613.9L1092.1 615.5L1089.7 618.1L1088.4 616.6L1086.9 614.7ZM1096.5 621.3L1094.6 619.6L1094.6 617.1L1097.5 617.4L1098.4 619.7ZM1103.4 620.5L1104.8 617.4L1106.9 618.8ZM1111.4 618.3L1108.6 618.3L1106.6 615.2L1107.5 612.6L1111.1 611.3L1112.5 614.0ZM1120.0 615.6L1120.0 620.7L1117.8 621.0L1114.6 618.6L1117.4 616.4ZM1121.7 616.8L1121.6 613.7L1122.9 613.0L1125.6 614.5L1124.9 617.3L1123.5 617.8ZM1081.5 618.9L1083.5 618.2L1085.3 619.4L1085.1 621.7L1083.2 623.3L1081.8 622.1ZM1097.3 626.1L1094.2 626.6L1093.4 623.8L1095.0 622.9L1097.4 624.0ZM1102.1 622.5L1099.3 626.0L1096.6 622.0ZM1107.4 618.9L1109.2 620.9L1106.4 622.9L1104.3 622.0L1104.2 619.6ZM1112.5 625.7L1114.8 622.9L1116.9 627.2ZM1099.6 631.9L1097.4 629.7L1097.6 627.4L1100.7 626.5L1102.4 629.5ZM1101.9 624.5L1103.1 622.8L1106.6 625.6L1106.0 628.0L1102.4 628.9L1100.4 627.4ZM933.5 453.9L934.1 458.1L930.8 456.0ZM926.6 467.4L924.5 465.5L923.3 463.1L926.1 460.5L928.5 461.6L929.1 464.7ZM930.2 463.0L933.9 463.0L931.9 467.0ZM948.5 465.9L946.7 466.9L942.9 464.8L943.0 462.9L946.9 461.0ZM954.5 459.3L955.8 461.9L953.3 464.6L950.9 464.4L950.8 461.4L952.8 459.4ZM961.8 460.5L964.2 459.8L964.3 464.1L961.1 464.8ZM923.7 470.9L926.0 473.4L922.2 474.5ZM929.1 468.2L933.0 471.2L930.2 474.9L927.1 473.5L926.4 470.9ZM938.0 468.5L941.2 468.6L941.5 471.4L938.8 471.7L937.3 470.8ZM950.4 471.1L950.1 468.5L951.5 467.5L953.5 470.3L953.3 471.7ZM955.4 467.9L958.9 467.6L960.0 471.1L956.5 473.0L954.5 470.7ZM927.1 477.5L930.1 478.2L930.2 479.7L927.2 480.0ZM933.8 478.7L930.4 480.7L930.4 476.2ZM939.5 480.9L942.5 479.5L944.3 481.1L944.9 482.7L942.3 485.1L940.7 484.7ZM956.9 477.7L957.2 479.7L956.0 481.0L954.2 480.2L954.4 477.9ZM962.2 484.4L962.4 479.8L965.5 480.0L965.9 485.4ZM918.2 493.7L914.3 492.4L916.2 489.9ZM933.8 490.3L931.2 492.4L927.5 490.7L929.2 486.9L933.0 486.1ZM939.8 489.5L942.7 489.3L944.0 491.5L941.3 494.1L938.8 492.4ZM949.3 489.5L949.4 484.6L953.3 487.5ZM957.5 489.8L954.7 488.2L957.3 484.3L960.3 488.5ZM916.0 497.8L915.3 495.5L918.3 494.6L921.2 496.8L919.6 498.8L917.9 500.6ZM924.4 501.5L921.6 501.8L920.1 499.9L920.3 496.5L922.3 495.4L924.8 496.9ZM939.2 495.0L935.9 497.1L935.0 493.9L938.4 492.2ZM949.6 495.3L948.3 497.0L946.1 498.4L945.2 495.1L946.0 493.9ZM955.7 497.3L959.8 498.9L959.2 501.9L954.8 500.3ZM961.7 495.7L963.0 491.4L966.4 495.4ZM918.2 504.1L922.5 503.7L924.1 506.2L921.6 508.9L918.2 507.1ZM931.0 506.4L927.1 503.9L929.6 501.0L932.7 503.7ZM938.8 507.0L937.6 511.7L933.8 510.4L935.3 505.5ZM951.1 508.6L949.0 508.8L946.9 505.6L949.8 503.5L951.8 504.3ZM959.4 504.7L957.9 507.8L956.0 506.5L956.0 503.5L958.6 503.4ZM967.9 505.1L966.8 501.6L969.4 500.7L972.1 502.4L970.9 504.9L968.7 506.1ZM916.6 517.7L915.8 519.2L913.0 518.7L912.6 515.7L916.2 514.5ZM927.5 515.9L926.4 517.6L924.6 516.7L923.6 514.3L927.1 512.9ZM935.8 510.5L933.9 514.5L931.2 511.1ZM949.7 515.2L946.6 515.9L946.7 512.4L949.5 512.2ZM958.1 517.6L952.8 517.3L954.2 513.6ZM965.4 513.8L962.5 514.6L960.3 513.7L962.4 510.1L964.1 509.5ZM921.1 526.4L917.8 523.7L917.4 521.6L921.1 520.6L923.9 522.6ZM931.5 523.6L934.5 521.4L935.5 523.8L932.9 526.0ZM944.5 524.6L945.0 527.5L942.0 527.4L942.7 524.7ZM948.1 527.9L946.4 527.5L945.4 524.6L947.4 523.3L949.0 523.2L950.0 525.7ZM962.7 525.7L960.9 520.9L966.0 522.6ZM920.2 530.2L917.0 532.1L915.4 531.5L915.3 529.1L916.8 528.0L919.8 528.3ZM918.4 532.9L920.7 529.9L924.0 531.2L922.8 535.2ZM934.7 528.4L932.3 531.5L928.4 531.6L928.9 528.3L931.5 527.3ZM940.7 532.9L940.9 528.8L943.2 529.9L946.4 531.4L944.4 535.1L941.8 535.2ZM959.6 532.4L954.1 530.4L958.3 527.6ZM966.6 532.6L964.3 533.7L962.4 532.5L963.6 529.4L965.5 530.2ZM919.8 544.2L915.0 544.3L917.0 540.8L919.5 540.7ZM927.1 541.3L925.0 540.6L923.6 538.5L925.8 536.8L927.8 538.1L928.4 539.1ZM937.0 546.5L935.3 541.9L939.9 543.7ZM950.2 541.5L949.0 538.4L952.3 537.5ZM956.2 541.2L959.9 539.4L963.0 540.3L961.2 544.9L958.2 544.7ZM915.8 553.6L914.1 550.6L916.4 548.2L918.4 550.3L919.1 553.3ZM927.1 548.5L925.2 546.2L926.0 544.1L929.2 543.6L929.4 546.3ZM936.3 550.9L939.9 551.3L938.4 554.3ZM941.4 546.5L943.1 550.8L939.5 549.8ZM952.5 544.2L955.7 548.7L950.3 548.6ZM962.4 546.4L966.2 547.4L963.5 549.7ZM915.3 557.8L915.2 555.0L918.5 554.5L918.8 558.3ZM927.8 552.0L929.5 557.1L925.9 557.4L925.4 553.3ZM937.4 562.6L936.9 557.5L940.3 561.2ZM954.4 559.0L952.0 563.9L948.6 559.5ZM954.5 563.1L953.5 560.7L956.9 559.3L958.8 562.2ZM921.4 567.3L917.4 569.7L914.9 567.5L915.0 564.9L919.0 563.5L920.6 565.8ZM924.1 571.9L920.4 570.3L919.8 567.6L922.1 565.7L926.5 567.8L924.9 570.7ZM936.3 568.7L936.6 566.4L939.0 567.0L940.1 569.4L940.2 570.9L937.5 571.5ZM942.1 565.1L941.0 563.1L941.3 561.5L945.0 562.3L944.7 565.7ZM953.0 564.5L954.7 564.2L958.4 566.1L956.4 568.5L952.2 568.1ZM921.1 575.9L918.0 574.2L918.4 572.6L920.5 570.5L923.3 570.9L923.3 574.3ZM933.0 577.5L930.9 578.2L928.9 575.5L929.1 573.5L932.7 573.5L934.5 574.5ZM942.0 577.3L940.7 578.9L938.5 578.3L938.2 575.8L940.9 575.9ZM949.3 575.8L947.8 573.7L949.9 572.0L953.1 572.2L951.9 575.2ZM926.4 582.0L924.4 584.1L921.9 582.0L923.9 579.1ZM933.9 584.9L931.0 583.3L931.9 580.8L934.9 580.3L936.4 583.2ZM943.6 584.0L945.5 585.9L944.2 588.2L940.0 586.7L939.5 585.6L941.4 583.3ZM954.2 582.0L955.2 579.1L959.4 579.6L956.6 585.3ZM925.3 588.8L928.8 588.7L929.6 592.1L927.2 593.5L925.6 594.1L923.7 591.6ZM942.7 592.8L942.2 596.4L937.6 594.6L939.6 591.8Z"/>
<path fill="none" stroke="#262626" stroke-width="3.4" stroke-linecap="round" stroke-linejoin="round" d="M604.0 180.0C606.0 181.0 612.0 183.7 616.0 186.0C620.0 188.3 624.0 191.2 628.0 194.0C632.0 196.8 636.7 200.0 640.0 203.0C643.3 206.0 645.7 208.7 648.0 212.0C650.3 215.3 652.5 219.3 654.0 223.0C655.5 226.7 656.5 232.2 657.0 234.0M660.0 248.0C660.0 249.7 660.3 254.0 660.0 258.0C659.7 262.0 659.2 265.7 658.0 272.0C656.8 278.3 655.2 288.0 653.0 296.0C650.8 304.0 647.5 311.8 645.0 320.0C642.5 328.2 640.2 337.5 638.0 345.0C635.8 352.5 633.5 358.2 632.0 365.0C630.5 371.8 629.7 378.8 629.0 386.0C628.3 393.2 628.2 400.7 628.0 408.0C627.8 415.3 627.7 422.7 628.0 430.0C628.3 437.3 629.0 445.0 630.0 452.0C631.0 459.0 632.3 465.0 634.0 472.0C635.7 479.0 637.8 486.8 640.0 494.0C642.2 501.2 644.7 508.7 647.0 515.0C649.3 521.3 651.8 525.8 654.0 532.0C656.2 538.2 658.3 545.7 660.0 552.0C661.7 558.3 662.3 563.0 664.0 570.0C665.7 577.0 667.3 585.5 670.0 594.0C672.7 602.5 676.7 612.0 680.0 621.0C683.3 630.0 686.7 639.5 690.0 648.0C693.3 656.5 697.0 664.0 700.0 672.0C703.0 680.0 705.3 688.7 708.0 696.0C710.7 703.3 713.3 709.5 716.0 716.0C718.7 722.5 721.0 728.7 724.0 735.0C727.0 741.3 730.5 747.8 734.0 754.0C737.5 760.2 741.7 766.0 745.0 772.0C748.3 778.0 751.5 784.3 754.0 790.0C756.5 795.7 759.0 803.3 760.0 806.0M1293.0 204.0C1291.5 204.3 1286.8 204.8 1284.0 206.0C1281.2 207.2 1278.7 209.0 1276.0 211.0C1273.3 213.0 1270.5 215.2 1268.0 218.0C1265.5 220.8 1263.3 224.3 1261.0 228.0C1258.7 231.7 1255.8 235.7 1254.0 240.0C1252.2 244.3 1251.2 249.3 1250.0 254.0C1248.8 258.7 1247.7 262.0 1247.0 268.0C1246.3 274.0 1245.8 283.8 1246.0 290.0C1246.2 296.2 1247.2 300.0 1248.0 305.0C1248.8 310.0 1249.8 314.2 1251.0 320.0C1252.2 325.8 1253.7 334.2 1255.0 340.0C1256.3 345.8 1257.5 349.7 1259.0 355.0C1260.5 360.3 1262.5 366.5 1264.0 372.0C1265.5 377.5 1266.8 382.3 1268.0 388.0C1269.2 393.7 1270.2 399.7 1271.0 406.0C1271.8 412.3 1272.7 419.3 1273.0 426.0C1273.3 432.7 1273.3 439.3 1273.0 446.0C1272.7 452.7 1271.8 459.0 1271.0 466.0C1270.2 473.0 1269.3 480.3 1268.0 488.0C1266.7 495.7 1265.0 504.2 1263.0 512.0C1261.0 519.8 1258.8 527.3 1256.0 535.0C1253.2 542.7 1249.7 550.2 1246.0 558.0C1242.3 565.8 1238.0 574.3 1234.0 582.0C1230.0 589.7 1226.3 596.7 1222.0 604.0C1217.7 611.3 1212.7 618.7 1208.0 626.0C1203.3 633.3 1198.7 641.0 1194.0 648.0C1189.3 655.0 1184.3 661.3 1180.0 668.0C1175.7 674.7 1171.7 681.3 1168.0 688.0C1164.3 694.7 1161.0 702.0 1158.0 708.0C1155.0 714.0 1153.0 718.0 1150.0 724.0C1147.0 730.0 1143.3 737.0 1140.0 744.0C1136.7 751.0 1133.0 758.7 1130.0 766.0C1127.0 773.3 1124.3 781.3 1122.0 788.0C1119.7 794.7 1117.0 803.0 1116.0 806.0M963.0 118.0C961.0 119.5 955.0 123.2 951.0 127.0C947.0 130.8 943.0 136.2 939.0 141.0C935.0 145.8 931.3 151.5 927.0 156.0C922.7 160.5 918.0 164.7 913.0 168.0C908.0 171.3 903.0 173.3 897.0 176.0C891.0 178.7 883.7 181.0 877.0 184.0C870.3 187.0 863.0 190.5 857.0 194.0C851.0 197.5 846.0 201.3 841.0 205.0C836.0 208.7 831.0 212.5 827.0 216.0C823.0 219.5 818.7 224.3 817.0 226.0M876.0 382.0C875.2 383.7 871.3 388.3 871.0 392.0C870.7 395.7 871.8 399.2 874.0 404.0C876.2 408.8 881.2 415.3 884.0 421.0C886.8 426.7 889.2 433.7 891.0 438.0C892.8 442.3 893.8 444.0 895.0 447.0C896.2 450.0 898.2 451.5 898.0 456.0C897.8 460.5 895.5 468.0 894.0 474.0C892.5 480.0 890.2 486.3 889.0 492.0C887.8 497.7 887.5 502.7 887.0 508.0C886.5 513.3 886.0 517.8 886.0 524.0C886.0 530.2 886.7 539.0 887.0 545.0C887.3 551.0 886.8 554.2 888.0 560.0C889.2 565.8 891.3 573.3 894.0 580.0C896.7 586.7 901.7 595.0 904.0 600.0C906.3 605.0 907.3 608.3 908.0 610.0M907.0 440.0C907.2 442.7 908.0 451.0 908.0 456.0C908.0 461.0 908.2 464.8 907.0 470.0C905.8 475.2 902.8 481.3 901.0 487.0C899.2 492.7 896.7 498.5 896.0 504.0C895.3 509.5 896.7 510.7 897.0 520.0C897.3 529.3 896.8 550.0 898.0 560.0C899.2 570.0 901.3 574.0 904.0 580.0C906.7 586.0 911.7 592.0 914.0 596.0C916.3 600.0 917.3 602.7 918.0 604.0M908.0 520.0C908.0 526.0 907.0 546.7 908.0 556.0C909.0 565.3 911.3 570.0 914.0 576.0C916.7 582.0 921.3 588.3 924.0 592.0C926.7 595.7 929.0 597.0 930.0 598.0M973.0 458.0C973.7 460.7 976.0 468.3 977.0 474.0C978.0 479.7 978.8 486.2 979.0 492.0C979.2 497.8 978.5 502.7 978.0 509.0C977.5 515.3 976.7 521.5 976.0 530.0C975.3 538.5 975.3 550.0 974.0 560.0C972.7 570.0 969.7 582.3 968.0 590.0C966.3 597.7 964.7 603.3 964.0 606.0M1001.0 432.0C1000.0 433.0 996.7 435.0 995.0 438.0C993.3 441.0 991.7 445.0 991.0 450.0C990.3 455.0 991.2 461.0 991.0 468.0C990.8 475.0 990.3 484.2 990.0 492.0C989.7 499.8 989.7 507.0 989.0 515.0C988.3 523.0 987.5 529.2 986.0 540.0C984.5 550.8 982.0 570.0 980.0 580.0C978.0 590.0 976.0 595.3 974.0 600.0C972.0 604.7 969.0 606.7 968.0 608.0M1045.0 305.0C1045.8 307.2 1048.0 313.5 1050.0 318.0C1052.0 322.5 1054.7 327.7 1057.0 332.0C1059.3 336.3 1061.5 339.8 1064.0 344.0C1066.5 348.2 1068.7 352.3 1072.0 357.0C1075.3 361.7 1082.0 369.5 1084.0 372.0M1058.0 344.0C1059.3 346.2 1062.7 352.3 1066.0 357.0C1069.3 361.7 1074.0 365.5 1078.0 372.0C1082.0 378.5 1086.3 386.3 1090.0 396.0C1093.7 405.7 1097.0 419.3 1100.0 430.0C1103.0 440.7 1105.3 450.0 1108.0 460.0C1110.7 470.0 1113.7 481.0 1116.0 490.0C1118.3 499.0 1120.5 505.7 1122.0 514.0C1123.5 522.3 1124.5 535.7 1125.0 540.0"/>
<path fill="none" stroke="#262626" stroke-width="4.7" stroke-linecap="round" stroke-linejoin="round" d="M880.0 25.0C881.0 26.3 884.2 30.3 886.0 33.0C887.8 35.7 889.2 37.2 891.0 41.0C892.8 44.8 895.3 51.2 897.0 56.0C898.7 60.8 899.8 64.7 901.0 70.0C902.2 75.3 903.2 82.2 904.0 88.0C904.8 93.8 905.5 99.3 906.0 105.0C906.5 110.7 907.2 116.2 907.0 122.0C906.8 127.8 905.8 134.5 905.0 140.0C904.2 145.5 903.0 150.3 902.0 155.0C901.0 159.7 899.5 165.8 899.0 168.0M1045.0 29.0C1044.2 30.5 1041.8 34.8 1040.0 38.0C1038.2 41.2 1036.3 44.3 1034.0 48.0C1031.7 51.7 1028.3 56.0 1026.0 60.0C1023.7 64.0 1021.3 67.8 1020.0 72.0C1018.7 76.2 1018.5 80.3 1018.0 85.0C1017.5 89.7 1017.0 93.3 1017.0 100.0C1017.0 106.7 1017.3 117.0 1018.0 125.0C1018.7 133.0 1019.7 141.5 1021.0 148.0C1022.3 154.5 1023.8 159.0 1026.0 164.0C1028.2 169.0 1032.7 175.7 1034.0 178.0M808.0 218.0C806.7 219.8 802.5 225.0 800.0 229.0C797.5 233.0 795.3 238.2 793.0 242.0C790.7 245.8 788.3 247.3 786.0 252.0C783.7 256.7 782.2 264.0 779.0 270.0C775.8 276.0 771.8 281.3 767.0 288.0C762.2 294.7 755.8 303.3 750.0 310.0C744.2 316.7 738.0 322.7 732.0 328.0C726.0 333.3 719.8 336.8 714.0 342.0C708.2 347.2 701.7 353.3 697.0 359.0C692.3 364.7 688.7 370.5 686.0 376.0C683.3 381.5 681.5 387.2 681.0 392.0C680.5 396.8 681.5 401.5 683.0 405.0C684.5 408.5 687.2 410.7 690.0 413.0C692.8 415.3 696.7 417.8 700.0 419.0C703.3 420.2 706.7 420.3 710.0 420.0C713.3 419.7 716.3 419.0 720.0 417.0C723.7 415.0 728.3 411.5 732.0 408.0C735.7 404.5 739.0 399.8 742.0 396.0C745.0 392.2 746.3 389.2 750.0 385.0C753.7 380.8 759.2 376.2 764.0 371.0C768.8 365.8 774.5 359.7 779.0 354.0C783.5 348.3 787.0 342.7 791.0 337.0C795.0 331.3 799.0 325.0 803.0 320.0C807.0 315.0 811.0 310.3 815.0 307.0C819.0 303.7 823.0 301.3 827.0 300.0C831.0 298.7 835.2 298.3 839.0 299.0C842.8 299.7 846.8 301.5 850.0 304.0C853.2 306.5 854.3 308.7 858.0 314.0C861.7 319.3 867.0 329.0 872.0 336.0C877.0 343.0 883.7 349.3 888.0 356.0C892.3 362.7 896.0 370.0 898.0 376.0C900.0 382.0 899.7 389.3 900.0 392.0M1034.0 182.0C1037.0 184.2 1046.0 190.7 1052.0 195.0C1058.0 199.3 1064.3 203.5 1070.0 208.0C1075.7 212.5 1081.3 217.7 1086.0 222.0C1090.7 226.3 1094.3 229.7 1098.0 234.0C1101.7 238.3 1105.0 243.3 1108.0 248.0C1111.0 252.7 1113.7 257.0 1116.0 262.0C1118.3 267.0 1120.3 272.7 1122.0 278.0C1123.7 283.3 1124.2 287.3 1126.0 294.0C1127.8 300.7 1130.8 310.3 1133.0 318.0C1135.2 325.7 1137.0 333.5 1139.0 340.0C1141.0 346.5 1142.8 351.7 1145.0 357.0C1147.2 362.3 1148.5 365.5 1152.0 372.0C1155.5 378.5 1161.3 388.3 1166.0 396.0C1170.7 403.7 1177.0 412.3 1180.0 418.0C1183.0 423.7 1184.8 427.0 1184.0 430.0C1183.2 433.0 1179.0 436.0 1175.0 436.0C1171.0 436.0 1165.8 433.7 1160.0 430.0C1154.2 426.3 1146.0 419.7 1140.0 414.0C1134.0 408.3 1128.7 402.0 1124.0 396.0C1119.3 390.0 1115.2 383.7 1112.0 378.0C1108.8 372.3 1107.3 367.5 1105.0 362.0C1102.7 356.5 1100.2 350.3 1098.0 345.0C1095.8 339.7 1094.2 335.2 1092.0 330.0C1089.8 324.8 1087.7 319.0 1085.0 314.0C1082.3 309.0 1079.0 303.8 1076.0 300.0C1073.0 296.2 1070.2 293.2 1067.0 291.0C1063.8 288.8 1061.0 287.5 1057.0 287.0C1053.0 286.5 1046.5 287.2 1043.0 288.0C1039.5 288.8 1038.8 290.2 1036.0 292.0C1033.2 293.8 1029.7 295.8 1026.0 299.0C1022.3 302.2 1018.0 306.7 1014.0 311.0C1010.0 315.3 1005.2 321.0 1002.0 325.0C998.8 329.0 997.2 331.2 995.0 335.0C992.8 338.8 990.7 343.5 989.0 348.0C987.3 352.5 986.3 357.0 985.0 362.0C983.7 367.0 982.3 372.3 981.0 378.0C979.7 383.7 978.3 390.0 977.0 396.0C975.7 402.0 974.2 408.7 973.0 414.0C971.8 419.3 970.5 425.7 970.0 428.0M852.0 292.0C853.0 289.3 855.0 283.0 858.0 276.0C861.0 269.0 865.7 259.3 870.0 250.0C874.3 240.7 880.3 229.3 884.0 220.0C887.7 210.7 889.7 201.0 892.0 194.0C894.3 187.0 895.7 181.8 898.0 178.0C900.3 174.2 902.7 172.7 906.0 171.0C909.3 169.3 913.3 167.5 918.0 168.0C922.7 168.5 929.3 170.7 934.0 174.0C938.7 177.3 942.3 183.3 946.0 188.0C949.7 192.7 952.7 198.7 956.0 202.0C959.3 205.3 962.7 208.0 966.0 208.0C969.3 208.0 972.0 206.0 976.0 202.0C980.0 198.0 985.7 189.0 990.0 184.0C994.3 179.0 997.7 174.3 1002.0 172.0C1006.3 169.7 1011.7 169.0 1016.0 170.0C1020.3 171.0 1025.3 173.7 1028.0 178.0C1030.7 182.3 1031.2 189.0 1032.0 196.0C1032.8 203.0 1032.5 212.0 1033.0 220.0C1033.5 228.0 1033.8 236.0 1035.0 244.0C1036.2 252.0 1038.2 261.0 1040.0 268.0C1041.8 275.0 1045.0 283.0 1046.0 286.0M874.0 316.0C872.7 314.3 868.5 310.2 866.0 306.0C863.5 301.8 859.3 296.7 859.0 291.0C858.7 285.3 861.5 278.5 864.0 272.0C866.5 265.5 870.7 258.0 874.0 252.0C877.3 246.0 880.3 242.0 884.0 236.0C887.7 230.0 893.0 222.0 896.0 216.0C899.0 210.0 900.3 204.5 902.0 200.0C903.7 195.5 903.3 191.8 906.0 189.0C908.7 186.2 914.0 182.8 918.0 183.0C922.0 183.2 926.0 185.8 930.0 190.0C934.0 194.2 938.0 203.0 942.0 208.0C946.0 213.0 950.0 217.7 954.0 220.0C958.0 222.3 962.0 222.3 966.0 222.0C970.0 221.7 974.3 220.7 978.0 218.0C981.7 215.3 984.3 211.0 988.0 206.0C991.7 201.0 996.3 192.0 1000.0 188.0C1003.7 184.0 1006.7 182.3 1010.0 182.0C1013.3 181.7 1017.8 183.0 1020.0 186.0C1022.2 189.0 1022.3 193.7 1023.0 200.0C1023.7 206.3 1023.5 216.0 1024.0 224.0C1024.5 232.0 1024.7 240.0 1026.0 248.0C1027.3 256.0 1030.0 265.3 1032.0 272.0C1034.0 278.7 1037.0 285.3 1038.0 288.0M898.0 350.0C899.7 348.8 904.0 345.3 908.0 343.0C912.0 340.7 917.3 338.2 922.0 336.0C926.7 333.8 932.0 331.3 936.0 330.0C940.0 328.7 942.3 328.0 946.0 328.0C949.7 328.0 954.0 328.5 958.0 330.0C962.0 331.5 966.0 334.7 970.0 337.0C974.0 339.3 978.8 341.2 982.0 344.0C985.2 346.8 987.8 352.3 989.0 354.0M905.0 361.0C907.0 359.5 912.5 355.0 917.0 352.0C921.5 349.0 927.2 344.8 932.0 343.0C936.8 341.2 941.3 341.0 946.0 341.0C950.7 341.0 955.7 341.7 960.0 343.0C964.3 344.3 968.7 346.3 972.0 349.0C975.3 351.7 978.3 356.2 980.0 359.0C981.7 361.8 981.7 364.8 982.0 366.0M900.0 392.0C900.5 394.7 901.8 403.3 903.0 408.0C904.2 412.7 905.2 415.0 907.0 420.0C908.8 425.0 911.5 433.7 914.0 438.0C916.5 442.3 917.2 445.0 922.0 446.0C926.8 447.0 936.7 444.0 943.0 444.0C949.3 444.0 955.3 446.8 960.0 446.0C964.7 445.2 967.8 443.3 971.0 439.0C974.2 434.7 977.0 426.2 979.0 420.0C981.0 413.8 981.3 407.8 983.0 402.0C984.7 396.2 986.7 390.3 989.0 385.0C991.3 379.7 994.2 375.0 997.0 370.0C999.8 365.0 1003.2 359.5 1006.0 355.0C1008.8 350.5 1011.7 346.8 1014.0 343.0C1016.3 339.2 1018.0 335.8 1020.0 332.0C1022.0 328.2 1023.7 323.7 1026.0 320.0C1028.3 316.3 1032.7 311.7 1034.0 310.0M924.0 460.0C923.2 462.0 921.0 467.5 919.0 472.0C917.0 476.5 914.0 482.0 912.0 487.0C910.0 492.0 907.8 499.5 907.0 502.0M966.0 461.0C966.7 463.8 969.2 472.8 970.0 478.0C970.8 483.2 971.0 487.7 971.0 492.0C971.0 496.3 970.2 502.0 970.0 504.0M1052.0 305.0C1052.8 307.2 1055.0 313.5 1057.0 318.0C1059.0 322.5 1061.2 327.2 1064.0 332.0C1066.8 336.8 1071.2 343.0 1074.0 347.0C1076.8 351.0 1078.3 351.8 1081.0 356.0C1083.7 360.2 1086.8 366.0 1090.0 372.0C1093.2 378.0 1097.0 385.7 1100.0 392.0C1103.0 398.3 1104.7 403.7 1108.0 410.0C1111.3 416.3 1115.3 423.3 1120.0 430.0C1124.7 436.7 1131.3 443.0 1136.0 450.0C1140.7 457.0 1144.3 464.3 1148.0 472.0C1151.7 479.7 1155.7 489.0 1158.0 496.0C1160.3 503.0 1161.3 511.0 1162.0 514.0M676.0 418.0C675.0 422.3 671.8 435.7 670.0 444.0C668.2 452.3 666.2 460.3 665.0 468.0C663.8 475.7 663.2 483.0 663.0 490.0C662.8 497.0 663.3 503.8 664.0 510.0C664.7 516.2 664.7 521.0 667.0 527.0C669.3 533.0 673.2 540.8 678.0 546.0C682.8 551.2 690.3 556.3 696.0 558.0C701.7 559.7 707.0 557.7 712.0 556.0C717.0 554.3 722.3 551.3 726.0 548.0C729.7 544.7 732.2 540.7 734.0 536.0C735.8 531.3 737.2 526.8 737.0 520.0C736.8 513.2 734.7 503.3 733.0 495.0C731.3 486.7 728.3 477.2 727.0 470.0C725.7 462.8 725.2 457.7 725.0 452.0C724.8 446.3 724.8 441.7 726.0 436.0C727.2 430.3 731.0 421.0 732.0 418.0M1198.0 432.0C1200.3 434.7 1208.0 442.3 1212.0 448.0C1216.0 453.7 1219.7 459.7 1222.0 466.0C1224.3 472.3 1225.7 478.0 1226.0 486.0C1226.3 494.0 1225.7 505.0 1224.0 514.0C1222.3 523.0 1220.0 532.0 1216.0 540.0C1212.0 548.0 1206.0 556.7 1200.0 562.0C1194.0 567.3 1186.7 571.7 1180.0 572.0C1173.3 572.3 1165.0 567.3 1160.0 564.0C1155.0 560.7 1151.3 557.3 1150.0 552.0C1148.7 546.7 1150.3 538.0 1152.0 532.0C1153.7 526.0 1158.7 518.7 1160.0 516.0M704.0 574.0C705.7 576.7 710.0 584.7 714.0 590.0C718.0 595.3 723.0 601.7 728.0 606.0C733.0 610.3 738.7 614.3 744.0 616.0C749.3 617.7 754.0 617.7 760.0 616.0C766.0 614.3 773.3 610.3 780.0 606.0C786.7 601.7 793.3 595.7 800.0 590.0C806.7 584.3 815.3 577.0 820.0 572.0C824.7 567.0 823.3 564.7 828.0 560.0C832.7 555.3 841.0 549.7 848.0 544.0C855.0 538.3 864.0 530.7 870.0 526.0C876.0 521.3 879.0 518.3 884.0 516.0C889.0 513.7 894.0 513.3 900.0 512.0C906.0 510.7 916.7 508.7 920.0 508.0M992.0 528.0C994.3 530.3 1001.3 537.3 1006.0 542.0C1010.7 546.7 1014.3 550.2 1020.0 556.0C1025.7 561.8 1033.3 569.7 1040.0 577.0C1046.7 584.3 1053.3 592.8 1060.0 600.0C1066.7 607.2 1073.3 614.7 1080.0 620.0C1086.7 625.3 1093.3 631.0 1100.0 632.0C1106.7 633.0 1114.7 628.5 1120.0 626.0C1125.3 623.5 1127.0 621.3 1132.0 617.0C1137.0 612.7 1143.7 605.5 1150.0 600.0C1156.3 594.5 1164.7 588.2 1170.0 584.0C1175.3 579.8 1180.0 576.5 1182.0 575.0"/>
<path fill="none" stroke="#262626" stroke-width="3.6" stroke-linecap="round" stroke-linejoin="round" d="M964.0 110.0C962.3 110.7 957.3 111.7 954.0 114.0C950.7 116.3 947.7 120.0 944.0 124.0C940.3 128.0 936.0 133.3 932.0 138.0C928.0 142.7 924.0 148.0 920.0 152.0C916.0 156.0 912.0 159.3 908.0 162.0C904.0 164.7 902.0 165.7 896.0 168.0C890.0 170.3 879.7 173.2 872.0 176.0C864.3 178.8 856.3 181.8 850.0 185.0C843.7 188.2 839.0 191.5 834.0 195.0C829.0 198.5 824.3 202.2 820.0 206.0C815.7 209.8 810.0 216.0 808.0 218.0"/>
<path fill="none" stroke="#262626" stroke-width="4.3" stroke-linecap="round" stroke-linejoin="round" d="M817.0 226.0C815.5 227.5 810.5 231.7 808.0 235.0C805.5 238.3 804.0 242.3 802.0 246.0C800.0 249.7 797.7 253.0 796.0 257.0C794.3 261.0 793.8 264.8 792.0 270.0C790.2 275.2 788.3 282.0 785.0 288.0C781.7 294.0 777.0 300.0 772.0 306.0C767.0 312.0 761.0 318.0 755.0 324.0C749.0 330.0 742.8 336.0 736.0 342.0C729.2 348.0 720.0 354.2 714.0 360.0C708.0 365.8 703.2 372.0 700.0 377.0C696.8 382.0 695.2 386.2 695.0 390.0C694.8 393.8 696.5 397.7 699.0 400.0C701.5 402.3 706.2 404.2 710.0 404.0C713.8 403.8 718.7 401.2 722.0 399.0C725.3 396.8 727.3 393.8 730.0 391.0C732.7 388.2 734.3 386.2 738.0 382.0C741.7 377.8 747.2 371.5 752.0 366.0C756.8 360.5 762.3 354.7 767.0 349.0C771.7 343.3 775.8 337.2 780.0 332.0C784.2 326.8 788.0 322.7 792.0 318.0C796.0 313.3 800.2 308.0 804.0 304.0C807.8 300.0 811.3 296.3 815.0 294.0C818.7 291.7 821.8 290.7 826.0 290.0C830.2 289.3 835.3 289.5 840.0 290.0C844.7 290.5 849.5 289.8 854.0 293.0C858.5 296.2 863.2 304.8 867.0 309.0C870.8 313.2 873.7 314.2 877.0 318.0C880.3 321.8 883.8 327.2 887.0 332.0C890.2 336.8 893.2 342.2 896.0 347.0C898.8 351.8 902.3 356.8 904.0 361.0C905.7 365.2 905.7 370.2 906.0 372.0"/>
<path fill="none" stroke="#262626" stroke-width="5.6" stroke-linecap="round" stroke-linejoin="round" d="M964.0 110.0C965.7 110.5 971.0 111.7 974.0 113.0C977.0 114.3 979.3 115.5 982.0 118.0C984.7 120.5 987.3 124.3 990.0 128.0C992.7 131.7 994.7 136.0 998.0 140.0C1001.3 144.0 1004.7 147.0 1010.0 152.0C1015.3 157.0 1023.3 164.0 1030.0 170.0C1036.7 176.0 1042.7 182.3 1050.0 188.0C1057.3 193.7 1065.7 198.0 1074.0 204.0C1082.3 210.0 1092.7 217.3 1100.0 224.0C1107.3 230.7 1113.3 237.0 1118.0 244.0C1122.7 251.0 1124.8 257.7 1128.0 266.0C1131.2 274.3 1134.2 285.3 1137.0 294.0C1139.8 302.7 1142.7 310.3 1145.0 318.0C1147.3 325.7 1149.0 333.5 1151.0 340.0C1153.0 346.5 1154.8 351.7 1157.0 357.0C1159.2 362.3 1160.8 366.2 1164.0 372.0C1167.2 377.8 1171.3 384.3 1176.0 392.0C1180.7 399.7 1188.3 411.3 1192.0 418.0C1195.7 424.7 1197.8 428.0 1198.0 432.0C1198.2 436.0 1196.0 439.5 1193.0 442.0C1190.0 444.5 1184.8 447.0 1180.0 447.0C1175.2 447.0 1170.0 445.5 1164.0 442.0C1158.0 438.5 1150.0 431.3 1144.0 426.0C1138.0 420.7 1132.3 414.3 1128.0 410.0C1123.7 405.7 1120.3 403.7 1118.0 400.0C1115.7 396.3 1115.7 392.7 1114.0 388.0C1112.3 383.3 1109.8 377.2 1108.0 372.0C1106.2 366.8 1104.7 361.2 1103.0 357.0C1101.3 352.8 1100.0 350.7 1098.0 347.0C1096.0 343.3 1093.3 339.3 1091.0 335.0C1088.7 330.7 1086.5 325.2 1084.0 321.0C1081.5 316.8 1078.8 313.0 1076.0 310.0C1073.2 307.0 1070.5 304.8 1067.0 303.0C1063.5 301.2 1059.0 299.3 1055.0 299.0C1051.0 298.7 1046.8 299.8 1043.0 301.0C1039.2 302.2 1035.7 303.5 1032.0 306.0C1028.3 308.5 1024.3 312.0 1021.0 316.0C1017.7 320.0 1014.8 325.3 1012.0 330.0C1009.2 334.7 1007.0 338.8 1004.0 344.0C1001.0 349.2 997.0 355.3 994.0 361.0C991.0 366.7 988.3 372.2 986.0 378.0C983.7 383.8 981.7 390.3 980.0 396.0C978.3 401.7 976.7 409.3 976.0 412.0M862.0 334.0C863.7 336.0 868.8 342.0 872.0 346.0C875.2 350.0 878.3 353.0 881.0 358.0C883.7 363.0 887.5 370.7 888.0 376.0C888.5 381.3 883.7 383.7 884.0 390.0C884.3 396.3 888.0 408.7 890.0 414.0C892.0 419.3 893.2 418.0 896.0 422.0C898.8 426.0 904.0 432.7 907.0 438.0C910.0 443.3 911.2 451.0 914.0 454.0C916.8 457.0 920.0 456.0 924.0 456.0C928.0 456.0 932.8 453.8 938.0 454.0C943.2 454.2 949.7 456.3 955.0 457.0C960.3 457.7 966.5 458.5 970.0 458.0C973.5 457.5 974.0 457.3 976.0 454.0C978.0 450.7 979.5 443.7 982.0 438.0C984.5 432.3 989.0 424.3 991.0 420.0C993.0 415.7 991.5 415.8 994.0 412.0C996.5 408.2 1002.3 401.7 1006.0 397.0C1009.7 392.3 1014.3 386.2 1016.0 384.0M828.0 558.0C826.7 557.0 822.7 555.7 820.0 552.0C817.3 548.3 814.0 541.3 812.0 536.0C810.0 530.7 808.7 526.0 808.0 520.0C807.3 514.0 808.0 506.7 808.0 500.0C808.0 493.3 807.3 487.3 808.0 480.0C808.7 472.7 810.7 464.0 812.0 456.0C813.3 448.0 814.7 439.7 816.0 432.0C817.3 424.3 818.3 417.7 820.0 410.0C821.7 402.3 824.3 393.0 826.0 386.0C827.7 379.0 828.7 373.0 830.0 368.0C831.3 363.0 832.2 359.5 834.0 356.0C835.8 352.5 838.2 349.3 841.0 347.0C843.8 344.7 848.2 342.0 851.0 342.0C853.8 342.0 855.2 344.5 858.0 347.0C860.8 349.5 864.8 353.5 868.0 357.0C871.2 360.5 875.0 364.5 877.0 368.0C879.0 371.5 881.8 373.7 880.0 378.0C878.2 382.3 867.3 388.7 866.0 394.0C864.7 399.3 869.7 404.3 872.0 410.0C874.3 415.7 877.7 421.3 880.0 428.0C882.3 434.7 885.3 443.3 886.0 450.0C886.7 456.7 885.3 461.8 884.0 468.0C882.7 474.2 879.5 481.0 878.0 487.0C876.5 493.0 875.7 498.5 875.0 504.0C874.3 509.5 874.2 517.3 874.0 520.0M1006.0 515.0C1006.2 511.2 1006.8 499.8 1007.0 492.0C1007.2 484.2 1007.5 475.0 1007.0 468.0C1006.5 461.0 1005.0 456.0 1004.0 450.0C1003.0 444.0 1000.3 437.0 1001.0 432.0C1001.7 427.0 1005.8 424.7 1008.0 420.0C1010.2 415.3 1012.5 409.3 1014.0 404.0C1015.5 398.7 1016.5 393.7 1017.0 388.0C1017.5 382.3 1016.5 375.3 1017.0 370.0C1017.5 364.7 1018.5 359.8 1020.0 356.0C1021.5 352.2 1023.7 349.5 1026.0 347.0C1028.3 344.5 1031.3 342.2 1034.0 341.0C1036.7 339.8 1039.7 338.5 1042.0 340.0C1044.3 341.5 1045.3 345.0 1048.0 350.0C1050.7 355.0 1054.7 363.3 1058.0 370.0C1061.3 376.7 1065.3 382.7 1068.0 390.0C1070.7 397.3 1072.7 405.3 1074.0 414.0C1075.3 422.7 1075.3 432.7 1076.0 442.0C1076.7 451.3 1078.0 461.3 1078.0 470.0C1078.0 478.7 1076.8 486.7 1076.0 494.0C1075.2 501.3 1073.5 510.7 1073.0 514.0M1068.0 528.0C1066.0 532.0 1060.3 545.3 1056.0 552.0C1051.7 558.7 1044.3 565.3 1042.0 568.0"/>
<path fill="none" stroke="#262626" stroke-width="3.0" stroke-linecap="round" stroke-linejoin="round" d="M874.0 316.0C876.3 313.7 883.3 307.2 888.0 302.0C892.7 296.8 897.7 289.3 902.0 285.0C906.3 280.7 910.0 278.5 914.0 276.0C918.0 273.5 923.2 272.5 926.0 270.0C928.8 267.5 928.3 264.3 931.0 261.0C933.7 257.7 938.5 252.7 942.0 250.0C945.5 247.3 949.0 246.0 952.0 245.0C955.0 244.0 957.5 243.8 960.0 244.0C962.5 244.2 964.7 244.5 967.0 246.0C969.3 247.5 971.5 250.5 974.0 253.0C976.5 255.5 979.7 258.5 982.0 261.0C984.3 263.5 986.2 265.3 988.0 268.0C989.8 270.7 991.7 273.7 993.0 277.0C994.3 280.3 995.0 284.5 996.0 288.0C997.0 291.5 997.0 294.5 999.0 298.0C1001.0 301.5 1006.5 307.2 1008.0 309.0"/>
<path fill="none" stroke="#262626" stroke-width="3.2" stroke-linecap="round" stroke-linejoin="round" d="M959.0 156.0C959.2 158.3 959.7 165.2 960.0 170.0C960.3 174.8 961.0 180.2 961.0 185.0C961.0 189.8 960.2 196.7 960.0 199.0M970.0 161.0C970.2 163.8 970.7 172.3 971.0 178.0C971.3 183.7 971.8 192.2 972.0 195.0"/>
<path fill="none" stroke="#262626" stroke-width="6.0" stroke-linecap="round" stroke-linejoin="round" d="M911.0 376.0C912.3 371.0 919.8 365.8 924.0 362.0C928.2 358.2 932.3 355.0 936.0 353.0C939.7 351.0 942.3 350.0 946.0 350.0C949.7 350.0 954.2 351.5 958.0 353.0C961.8 354.5 966.2 356.5 969.0 359.0C971.8 361.5 974.2 364.5 975.0 368.0C975.8 371.5 975.2 375.2 974.0 380.0C972.8 384.8 970.3 390.2 968.0 397.0C965.7 403.8 961.7 415.5 960.0 421.0C958.3 426.5 960.3 428.5 958.0 430.0C955.7 431.5 950.0 430.0 946.0 430.0C942.0 430.0 937.0 430.7 934.0 430.0C931.0 429.3 930.0 429.5 928.0 426.0C926.0 422.5 924.0 414.7 922.0 409.0C920.0 403.3 917.8 397.5 916.0 392.0C914.2 386.5 909.7 381.0 911.0 376.0Z"/>
<path fill="none" stroke="#262626" stroke-width="7.199999999999999" stroke-linecap="round" stroke-linejoin="round" d="M881.0 358.0C882.2 361.0 887.5 370.7 888.0 376.0C888.5 381.3 883.7 383.7 884.0 390.0C884.3 396.3 888.0 408.7 890.0 414.0C892.0 419.3 893.8 419.0 896.0 422.0C898.2 425.0 901.8 430.3 903.0 432.0"/>
<path fill="none" stroke="#262626" stroke-width="3.8" stroke-linecap="round" stroke-linejoin="round" d="M874.0 520.0C873.8 523.3 873.0 533.3 873.0 540.0C873.0 546.7 872.8 553.3 874.0 560.0C875.2 566.7 877.7 573.3 880.0 580.0C882.3 586.7 886.0 593.3 888.0 600.0C890.0 606.7 891.3 614.0 892.0 620.0C892.7 626.0 892.0 633.3 892.0 636.0M984.0 638.0C983.7 635.0 982.0 626.3 982.0 620.0C982.0 613.7 982.3 608.3 984.0 600.0C985.7 591.7 989.3 580.0 992.0 570.0C994.7 560.0 997.7 549.2 1000.0 540.0C1002.3 530.8 1005.0 519.2 1006.0 515.0"/>
<path fill="none" stroke="#262626" stroke-width="2.8" stroke-linecap="round" stroke-linejoin="round" d="M848.0 309.0C845.7 311.3 838.7 318.3 834.0 323.0C829.3 327.7 824.3 332.2 820.0 337.0C815.7 341.8 811.7 347.2 808.0 352.0C804.3 356.8 800.8 360.8 798.0 366.0C795.2 371.2 792.2 380.2 791.0 383.0"/>
<path fill="none" stroke="#262626" stroke-width="6.199999999999999" stroke-linecap="round" stroke-linejoin="round" d="M791.0 383.0C790.0 386.3 787.2 395.2 785.0 403.0C782.8 410.8 780.8 419.8 778.0 430.0C775.2 440.2 771.0 453.0 768.0 464.0C765.0 475.0 762.5 486.7 760.0 496.0C757.5 505.3 755.0 512.7 753.0 520.0C751.0 527.3 749.5 533.0 748.0 540.0C746.5 547.0 744.7 558.3 744.0 562.0M1084.0 372.0C1086.0 376.0 1092.3 386.3 1096.0 396.0C1099.7 405.7 1103.0 419.3 1106.0 430.0C1109.0 440.7 1111.3 450.0 1114.0 460.0C1116.7 470.0 1119.7 481.0 1122.0 490.0C1124.3 499.0 1126.5 505.7 1128.0 514.0C1129.5 522.3 1130.2 531.5 1131.0 540.0C1131.8 548.5 1132.5 556.7 1133.0 565.0C1133.5 573.3 1134.5 580.8 1134.0 590.0C1133.5 599.2 1130.7 615.0 1130.0 620.0M1060.0 600.0C1063.3 603.3 1073.3 614.7 1080.0 620.0C1086.7 625.3 1093.3 631.0 1100.0 632.0C1106.7 633.0 1114.7 628.5 1120.0 626.0C1125.3 623.5 1130.0 618.5 1132.0 617.0"/>
<path fill="none" stroke="#262626" stroke-width="2.4" stroke-linecap="round" stroke-linejoin="round" d="M850.0 311.0C848.2 313.0 843.0 318.7 839.0 323.0C835.0 327.3 830.2 332.2 826.0 337.0C821.8 341.8 817.5 347.2 814.0 352.0C810.5 356.8 807.7 360.8 805.0 366.0C802.3 371.2 800.2 377.0 798.0 383.0C795.8 389.0 793.0 398.8 792.0 402.0M838.0 574.0C839.7 576.7 845.0 584.0 848.0 590.0C851.0 596.0 853.3 604.0 856.0 610.0C858.7 616.0 861.0 621.3 864.0 626.0C867.0 630.7 870.8 634.3 874.0 638.0C877.2 641.7 881.5 646.3 883.0 648.0M1036.0 578.0C1034.3 581.7 1029.3 593.0 1026.0 600.0C1022.7 607.0 1019.3 614.3 1016.0 620.0C1012.7 625.7 1009.3 630.5 1006.0 634.0C1002.7 637.5 999.0 640.0 996.0 641.0C993.0 642.0 990.0 642.2 988.0 640.0C986.0 637.8 984.7 632.7 984.0 628.0C983.3 623.3 983.8 618.3 984.0 612.0C984.2 605.7 984.8 593.7 985.0 590.0M742.0 540.0C742.2 546.0 743.0 560.0 743.0 576.0C743.0 592.0 742.2 626.0 742.0 636.0M1132.0 618.0C1131.0 621.0 1128.0 630.0 1126.0 636.0C1124.0 642.0 1121.0 651.0 1120.0 654.0"/>
<path fill="none" stroke="#262626" stroke-width="6.8" stroke-linecap="round" stroke-linejoin="round" d="M704.0 574.0C705.7 576.7 710.0 584.7 714.0 590.0C718.0 595.3 723.0 601.7 728.0 606.0C733.0 610.3 738.7 614.3 744.0 616.0C749.3 617.7 754.0 617.7 760.0 616.0C766.0 614.3 776.7 607.7 780.0 606.0"/>
<path fill="none" stroke="#262626" stroke-width="2.2" stroke-linecap="round" stroke-linejoin="round" d="M950.0 510.0C951.7 510.2 956.7 510.7 960.0 511.0C963.3 511.3 967.0 511.8 970.0 512.0C973.0 512.2 976.7 512.0 978.0 512.0"/>
<path fill="none" stroke="#262626" stroke-width="4.6" stroke-linecap="round" stroke-linejoin="round" d="M923.0 708.0C923.7 710.3 926.3 717.3 927.0 722.0C927.7 726.7 927.5 731.0 927.0 736.0C926.5 741.0 925.0 746.7 924.0 752.0C923.0 757.3 921.3 763.3 921.0 768.0C920.7 772.7 921.3 776.0 922.0 780.0C922.7 784.0 924.7 787.3 925.0 792.0C925.3 796.7 924.2 805.3 924.0 808.0M958.0 708.0C958.0 711.0 958.5 720.3 958.0 726.0C957.5 731.7 955.7 736.3 955.0 742.0C954.3 747.7 953.7 754.5 954.0 760.0C954.3 765.5 956.3 770.0 957.0 775.0C957.7 780.0 958.3 783.8 958.0 790.0C957.7 796.2 955.5 808.3 955.0 812.0"/>
<path d="M938.8 610.0C934.5 610.0 928.4 614.1 922.8 615.6C917.2 617.1 909.5 616.4 905.2 618.8C900.9 621.2 900.1 625.2 897.2 630.0C894.3 634.8 889.6 642.0 887.6 647.6C885.6 653.2 885.5 658.5 885.2 663.6C884.9 668.7 884.3 674.3 886.0 678.0C887.7 681.7 893.7 683.1 895.6 686.0C897.5 688.9 894.3 692.9 897.2 695.6C900.1 698.3 908.4 699.9 913.2 702.0C918.0 704.1 920.7 707.1 926.0 708.4C931.3 709.7 939.1 710.0 945.2 710.0C951.3 710.0 958.0 710.3 962.8 708.4C967.6 706.5 970.8 702.5 974.0 698.8C977.2 695.1 980.4 690.3 982.0 686.0C983.6 681.7 982.0 677.2 983.6 673.2C985.2 669.2 990.3 666.0 991.6 662.0C992.9 658.0 992.1 653.2 991.6 649.2C991.1 645.2 989.7 641.7 988.4 638.0C987.1 634.3 986.0 630.0 983.6 626.8C981.2 623.6 978.3 620.7 974.0 618.8C969.7 616.9 962.3 616.1 958.0 615.6C953.7 615.1 951.6 616.5 948.4 615.6C945.2 614.7 943.1 610.0 938.8 610.0Z" fill="#262626" stroke="#262626" stroke-width="2" stroke-linejoin="round"/><path d="M915.0 634.5L913.7 637.3L908.5 639.2L903.4 637.4L900.9 633.2L900.3 627.1L903.2 623.0L908.5 620.4L913.5 623.0ZM928.8 630.3L926.4 634.6L922.6 636.2L918.9 635.0L918.2 633.1L916.6 624.7L918.9 620.3L922.5 619.0L927.2 620.5L929.1 623.9L928.9 625.2ZM944.0 629.4L943.6 630.6L940.0 631.0L935.4 630.5L935.1 630.3L932.5 627.9L932.2 623.5L931.4 621.0L934.9 617.2L938.3 615.0L942.6 616.4L946.0 620.6L945.8 624.5ZM962.3 632.2L959.1 636.8L953.9 639.3L949.4 637.0L946.3 632.6L945.8 632.3L949.9 622.2L954.4 620.9L958.7 623.0L961.2 625.9ZM979.3 629.9L977.1 632.9L977.1 633.5L976.0 634.1L967.2 632.5L965.7 630.3L964.9 625.1L968.1 622.2L972.0 620.8L977.1 621.8L979.5 624.9ZM908.2 654.8L905.2 659.8L901.9 660.4L894.0 658.4L891.0 655.4L891.5 649.8L894.1 645.5L899.2 642.8L904.5 644.9L906.9 648.2L907.9 652.9ZM928.2 652.2L924.6 657.0L918.7 658.3L918.0 659.1L913.6 657.5L910.8 654.3L909.9 646.4L913.0 642.0L912.9 641.5L918.9 640.0L924.4 641.5L924.5 641.8L927.6 649.2ZM942.3 648.4L941.9 648.4L936.4 650.1L931.3 648.0L930.2 647.5L928.1 642.1L927.6 638.8L928.2 637.9L932.9 633.2L933.6 632.9L942.2 634.5L944.7 638.5L945.1 643.2ZM953.9 661.4L953.4 661.0L952.3 661.2L947.9 660.1L944.4 655.0L944.2 649.6L948.7 643.9L952.1 642.1L955.0 642.2L958.1 643.5L959.1 644.3L962.0 650.1L961.6 652.0ZM972.7 651.3L971.6 651.4L967.8 651.1L965.8 649.6L963.1 647.0L962.2 645.1L962.7 638.9L965.1 635.1L975.1 636.7L976.3 648.3ZM987.6 642.9L986.4 647.4L986.2 648.0L982.4 647.1L981.0 642.9L980.5 638.0L982.4 633.4L983.9 631.9L986.3 633.6L987.5 638.0ZM903.2 672.8L900.8 676.5L896.1 678.8L890.6 677.0L888.1 673.2L887.8 667.5L891.1 663.4L894.5 661.9L900.7 663.1L903.5 667.6ZM918.0 680.8L909.3 676.7L907.5 674.0L907.6 669.1L907.1 667.2L910.2 662.5L914.2 661.0L919.0 662.2L920.3 662.6L922.8 666.0L924.3 668.3L923.7 673.9ZM937.9 673.3L936.3 673.5L929.0 672.1L927.1 669.5L926.3 665.8L926.4 661.5L929.2 656.4L935.0 654.9L939.8 656.7L943.9 661.2L943.5 663.3ZM949.2 683.2L949.4 682.7L944.0 681.1L940.1 676.5L939.6 674.9L946.3 664.9L949.5 663.4L954.0 664.8L958.3 672.3L958.8 674.5ZM967.1 671.4L966.4 671.4L960.5 670.1L956.8 663.4L956.5 663.0L963.8 654.5L965.5 653.7L971.3 655.0L974.6 665.1ZM987.3 659.4L986.1 663.8L983.3 665.6L980.6 664.1L978.5 660.2L979.0 655.5L980.2 651.0L982.3 650.1L985.4 650.9L985.5 650.8L987.9 654.6ZM913.4 695.7L908.4 697.7L902.2 695.5L899.2 691.7L899.4 685.3L902.5 681.4L907.7 679.7L915.1 682.2L916.5 683.9L917.9 689.2L917.9 689.0ZM938.4 687.3L934.2 690.6L932.2 691.9L922.4 688.8L920.6 687.1L920.4 682.0L921.1 680.7L925.0 677.1L929.0 676.3L934.3 677.3L937.5 681.7ZM969.8 688.9L969.4 689.0L958.3 693.0L956.3 692.9L952.6 689.2L953.0 684.2L959.3 678.0L961.5 677.8L966.3 679.2L969.9 684.7ZM981.6 677.8L979.9 681.7L977.4 682.6L974.9 681.9L972.6 678.7L972.8 674.5L974.3 671.7L977.3 670.1L980.2 671.6L981.2 674.4ZM930.9 700.3L928.6 701.9L924.3 703.4L920.3 702.4L918.0 700.8L917.9 698.7L920.3 696.5L924.4 696.5L928.1 697.3L931.0 698.5ZM948.2 701.5L946.8 703.1L944.1 704.2L940.6 703.7L938.5 701.4L938.8 699.3L940.3 697.5L943.3 696.0L946.3 696.8L948.2 699.4ZM961.9 705.1L961.1 705.0L958.6 706.4L954.9 705.9L953.5 704.3L954.0 702.7L955.2 702.2L958.2 701.2L960.9 702.0ZM969.1 699.8L968.0 701.4L965.7 701.6L964.2 701.1L963.0 700.4L963.0 698.4L964.2 697.2L966.2 696.8L968.3 697.7L969.2 698.3Z" fill="#fff" stroke="#fff" stroke-width="0.8" stroke-linejoin="round"/><path d="M908.6 629.5m-2.1 0a2.1 2.1 0 1 0 4.3 0a2.1 2.1 0 1 0 -4.3 0M923.2 627.4m-1.8 0a1.8 1.8 0 1 0 3.7 0a1.8 1.8 0 1 0 -3.7 0M939.2 623.0m-1.9 0a1.9 1.9 0 1 0 3.8 0a1.9 1.9 0 1 0 -3.8 0M953.3 630.1m-1.8 0a1.8 1.8 0 1 0 3.7 0a1.8 1.8 0 1 0 -3.7 0M973.1 627.2m-1.8 0a1.8 1.8 0 1 0 3.6 0a1.8 1.8 0 1 0 -3.6 0M899.4 653.0m-1.9 0a1.9 1.9 0 1 0 3.7 0a1.9 1.9 0 1 0 -3.7 0M919.4 649.1m-2.3 0a2.3 2.3 0 1 0 4.5 0a2.3 2.3 0 1 0 -4.5 0M936.0 640.4m-2.3 0a2.3 2.3 0 1 0 4.5 0a2.3 2.3 0 1 0 -4.5 0M952.8 651.1m-2.0 0a2.0 2.0 0 1 0 4.1 0a2.0 2.0 0 1 0 -4.1 0M970.2 641.3m-1.9 0a1.9 1.9 0 1 0 3.8 0a1.9 1.9 0 1 0 -3.8 0M895.9 669.5m-2.1 0a2.1 2.1 0 1 0 4.2 0a2.1 2.1 0 1 0 -4.2 0M916.1 671.1m-2.2 0a2.2 2.2 0 1 0 4.3 0a2.2 2.2 0 1 0 -4.3 0M934.8 664.6m-2.1 0a2.1 2.1 0 1 0 4.1 0a2.1 2.1 0 1 0 -4.1 0M948.7 673.4m-2.0 0a2.0 2.0 0 1 0 3.9 0a2.0 2.0 0 1 0 -3.9 0M965.9 662.8m-2.0 0a2.0 2.0 0 1 0 4.0 0a2.0 2.0 0 1 0 -4.0 0M983.7 657.3m-1.8 0a1.8 1.8 0 1 0 3.7 0a1.8 1.8 0 1 0 -3.7 0M907.9 688.9m-1.9 0a1.9 1.9 0 1 0 3.8 0a1.9 1.9 0 1 0 -3.8 0M929.8 684.9m-1.8 0a1.8 1.8 0 1 0 3.6 0a1.8 1.8 0 1 0 -3.6 0M960.5 685.7m-2.2 0a2.2 2.2 0 1 0 4.3 0a2.2 2.2 0 1 0 -4.3 0M976.8 676.2m-2.2 0a2.2 2.2 0 1 0 4.3 0a2.2 2.2 0 1 0 -4.3 0" fill="#262626"/><path d="M918 513L921 509L926 507L931 506L935 505L938 507L943 506L947 508L951 511L953 516L953 521L951 524L952 528L949 531L947 535L943 534L940 538L935 537L931 539L928 535L926 531L923 527L921 522L919 519Z" fill="#262626"/>
</g>
<g fill="#fff"><rect x="1016.3" y="70.89999999999999" width="121.69999999999996" height="8.3"/><rect x="546.8" y="237.8" width="243.4" height="8.4"/><rect x="488.8" y="405.8" width="329.4" height="8.4"/><rect x="1017.8" y="358.8" width="348.4" height="8.4"/><rect x="950.3" y="517.1999999999999" width="447.9" height="8.4"/><rect x="546.8" y="563.8" width="385.4" height="8.4"/><rect x="982.8" y="669.8" width="326.4" height="8.4"/><rect x="596.6999999999999" y="714.7499999999999" width="121.70000000000007" height="8.1"/><path d="M598 715L954.4 766.4L954.4 771.6L598 720.4Z" stroke="#fff" stroke-width="2.4"/></g><g fill="#262626"><rect x="1017.5" y="72.1" width="119.29999999999995" height="5.9"/><rect x="548" y="239.0" width="241" height="6"/><rect x="490" y="407.0" width="327" height="6"/><rect x="1019" y="360.0" width="346" height="6"/><rect x="951.5" y="518.4" width="445.5" height="6"/><rect x="548" y="565.0" width="383" height="6"/><rect x="984" y="671.0" width="324" height="6"/><rect x="597.9" y="715.9499999999999" width="119.30000000000007" height="5.7"/><path d="M598 715L954.4 766.4L954.4 771.6L598 720.4Z"/></g><g font-family="Liberation Sans, sans-serif"><text x="1176.5" y="87.9" font-size="50.15" fill="#262626">Canal gastrovasculaire</text><text x="183.4" y="252.9" font-size="50.55" fill="#262626">Lobe sensoriel</text><text x="224.5" y="423.9" font-size="50.6" fill="#262626">Capuchon</text><text x="1401.5" y="378.6" font-size="50.3" fill="#262626">Canal annulaire</text><text x="1437.2" y="533.6" font-size="50.5" fill="#262626">Ocelle</text><text x="-2.1" y="581.6" font-size="50.15" fill="#262626">Canal gastrovasculaire</text><text x="1348.4" y="688.6" font-size="50.4" fill="#262626">Statocyste</text><text x="176.4" y="731.8" font-size="50.2" fill="#262626">Lobes rhopaliens</text><text x="634.5" y="971.9" font-size="15" font-weight="bold" letter-spacing="0.6" fill="#1c1c1c">I. Livingstone © BIODIDAC</text></g>
</svg>

</body></html>
